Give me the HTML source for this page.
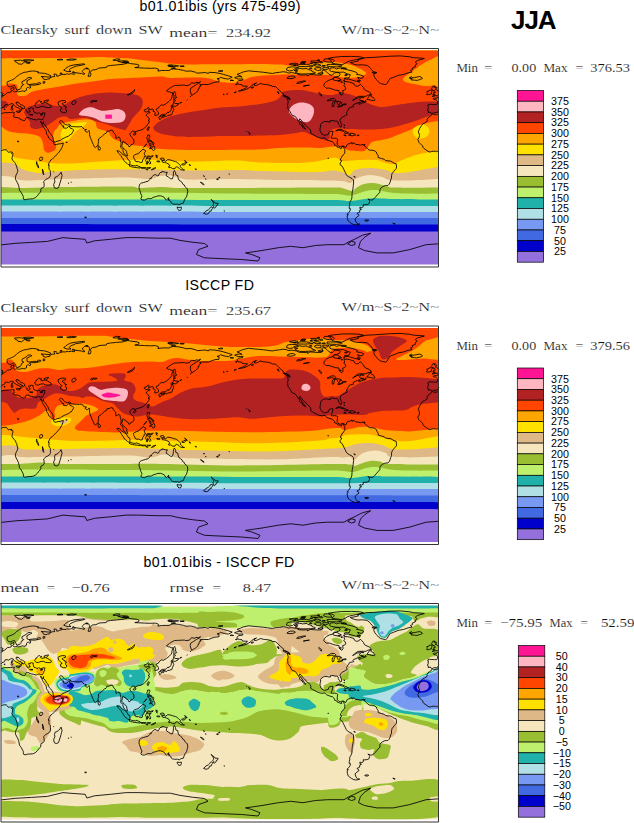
<!DOCTYPE html><html><head><meta charset="utf-8"><title>JJA</title><style>
html,body{margin:0;padding:0;background:#fff}body{width:634px;height:823px;overflow:hidden;position:relative}svg{position:absolute;left:0;top:0}
text{font-family:"Liberation Sans",sans-serif;fill:#000}.cb{font-size:10.7px}.t{font-size:14.2px}.s{font-family:"Liberation Serif",serif;font-size:12.9px;word-spacing:2px;fill:#111;stroke:#fff;stroke-width:0.16px}.m{font-family:"Liberation Serif",serif;font-size:12.4px;fill:#111;stroke:#fff;stroke-width:0.14px}.jja{font-size:26px;font-weight:bold}
</style></head><body>
<svg width="634" height="823" viewBox="0 0 634 823">
<defs>
<clipPath id="clip"><rect x="0" y="2.6" width="438" height="213.8"/></clipPath></defs>
<rect width="634" height="823" fill="#fff"/>
<g transform="translate(1.0,48.0)">
<g clip-path="url(#clip)">
<rect x="0.0" y="0.0" width="438.0" height="219.0" fill="#9370db"/>
<path d="M-3.0,183.6 C-2.7,183.6 -22.5,183.6 -1.0,183.6 C20.5,183.6 86.5,183.6 126.0,183.6 C165.5,183.6 199.3,183.6 236.0,183.6 C272.7,183.6 312.3,183.6 346.0,183.6 C379.7,183.6 422.2,183.6 438.0,183.6 C453.8,183.6 440.5,183.6 441.0,183.6 L441,-5 L-3,-5 Z" fill="#0000cd"/>
<path d="M-3.0,176.0 C-2.7,176.0 -22.5,176.0 -1.0,176.0 C20.5,176.0 86.5,176.1 126.0,176.2 C165.5,176.3 199.3,176.4 236.0,176.4 C272.7,176.4 312.3,176.4 346.0,176.4 C379.7,176.4 422.2,176.4 438.0,176.4 C453.8,176.4 440.5,176.4 441.0,176.4 L441,-5 L-3,-5 Z" fill="#4169e1"/>
<path d="M-3.0,170.0 C-2.7,170.0 -74.5,170.0 -1.0,170.0 C72.5,170.0 364.3,170.0 438.0,170.0 C511.7,170.0 440.5,170.0 441.0,170.0 L441,-5 L-3,-5 Z" fill="#7799f2"/>
<path d="M-3.0,163.6 C-2.7,163.6 -38.0,163.5 -1.0,163.6 C36.0,163.7 145.8,163.9 219.0,164.0 C292.2,164.1 401.0,164.0 438.0,164.0 C475.0,164.0 440.5,164.0 441.0,164.0 L441,-5 L-3,-5 Z" fill="#b0e0e6"/>
<path d="M-3.0,157.6 C-2.7,157.6 -38.0,157.5 -1.0,157.6 C36.0,157.7 145.8,157.9 219.0,158.0 C292.2,158.1 401.0,158.0 438.0,158.0 C475.0,158.0 440.5,158.0 441.0,158.0 L441,-5 L-3,-5 Z" fill="#20b2aa"/>
<path d="M-3.0,151.6 C-2.7,151.6 -22.5,151.6 -1.0,151.6 C20.5,151.6 86.5,151.3 126.0,151.4 C165.5,151.5 202.2,151.9 236.0,152.0 C269.8,152.1 310.2,151.8 329.0,152.0 C347.8,152.2 342.3,153.3 349.0,153.0 C355.7,152.7 362.3,150.7 369.0,150.4 C375.7,150.1 377.5,150.8 389.0,151.0 C400.5,151.2 429.3,151.5 438.0,151.6 C446.7,151.7 440.5,151.6 441.0,151.6 L441,-5 L-3,-5 Z" fill="#bef06e"/>
<path d="M-3.0,145.0 C-2.7,145.0 -22.5,145.1 -1.0,145.0 C20.5,144.9 86.5,144.5 126.0,144.6 C165.5,144.7 202.2,145.4 236.0,145.6 C269.8,145.8 310.2,145.7 329.0,146.0 C347.8,146.3 343.0,148.1 349.0,147.6 C355.0,147.1 360.7,143.9 365.0,143.0 C369.3,142.1 371.0,141.8 375.0,142.0 C379.0,142.2 383.3,143.8 389.0,144.4 C394.7,145.0 400.8,145.4 409.0,145.6 C417.2,145.8 432.7,145.4 438.0,145.4 C443.3,145.4 440.5,145.4 441.0,145.4 L441,-5 L-3,-5 Z" fill="#9abe32"/>
<path d="M-3.0,139.0 C-2.7,139.0 -4.7,138.8 -1.0,139.0 C2.7,139.2 12.3,139.9 19.0,140.0 C25.7,140.1 31.7,139.8 39.0,139.6 C46.3,139.4 48.5,139.2 63.0,139.0 C77.5,138.8 113.3,138.3 126.0,138.5 C138.7,138.7 133.5,139.9 139.0,140.0 C144.5,140.1 152.3,139.0 159.0,139.0 C165.7,139.0 166.2,139.8 179.0,140.0 C191.8,140.2 211.0,140.1 236.0,140.0 C261.0,139.9 311.5,139.6 329.0,139.6 C346.5,139.6 337.3,139.4 341.0,140.0 C344.7,140.6 348.7,143.0 351.0,143.0 C353.3,143.0 353.0,141.2 355.0,140.0 C357.0,138.8 360.0,136.8 363.0,136.0 C366.0,135.2 369.3,134.7 373.0,135.0 C376.7,135.3 381.3,137.2 385.0,138.0 C388.7,138.8 386.2,139.4 395.0,139.6 C403.8,139.8 430.3,139.4 438.0,139.4 C445.7,139.4 440.5,139.4 441.0,139.4 L441,-5 L-3,-5 Z" fill="#f5e6be"/>
<path d="M-3.0,128.0 C-2.7,128.0 -3.3,127.8 -1.0,128.0 C1.3,128.2 7.7,128.3 11.0,129.0 C14.3,129.7 16.0,131.4 19.0,132.0 C22.0,132.6 25.7,132.4 29.0,132.4 C32.3,132.4 34.0,132.2 39.0,132.0 C44.0,131.8 52.3,131.3 59.0,131.0 C65.7,130.7 72.3,130.6 79.0,130.4 C85.7,130.2 91.2,130.1 99.0,130.0 C106.8,129.9 117.7,129.4 126.0,129.6 C134.3,129.8 143.5,131.3 149.0,131.0 C154.5,130.7 155.7,128.6 159.0,128.0 C162.3,127.4 165.7,127.3 169.0,127.6 C172.3,127.9 175.7,129.3 179.0,130.0 C182.3,130.7 179.5,131.4 189.0,131.6 C198.5,131.8 221.0,130.9 236.0,131.0 C251.0,131.1 265.2,131.8 279.0,132.0 C292.8,132.2 308.7,132.2 319.0,132.4 C329.3,132.6 336.0,132.6 341.0,133.0 C346.0,133.4 347.0,135.2 349.0,135.0 C351.0,134.8 351.3,133.0 353.0,132.0 C354.7,131.0 356.3,129.8 359.0,129.0 C361.7,128.2 365.3,127.0 369.0,127.0 C372.7,127.0 377.7,128.2 381.0,129.0 C384.3,129.8 384.3,131.4 389.0,132.0 C393.7,132.6 400.8,132.6 409.0,132.4 C417.2,132.2 432.7,131.2 438.0,131.0 C443.3,130.8 440.5,131.0 441.0,131.0 L441,-5 L-3,-5 Z" fill="#deb887"/>
<path d="M-3.0,114.4 C-2.7,114.4 -3.7,114.2 -1.0,114.4 C1.7,114.6 9.3,114.5 13.0,115.6 C16.7,116.7 18.0,119.6 21.0,121.0 C24.0,122.4 28.0,123.3 31.0,124.0 C34.0,124.7 36.0,125.0 39.0,125.0 C42.0,125.0 45.0,124.3 49.0,124.0 C53.0,123.7 58.0,123.3 63.0,123.0 C68.0,122.7 73.0,122.3 79.0,122.0 C85.0,121.7 91.2,121.5 99.0,121.4 C106.8,121.3 117.7,121.4 126.0,121.4 C134.3,121.4 141.8,121.3 149.0,121.4 C156.2,121.5 160.7,121.8 169.0,122.0 C177.3,122.2 187.8,122.6 199.0,122.6 C210.2,122.6 226.0,121.9 236.0,122.0 C246.0,122.1 248.5,122.7 259.0,123.0 C269.5,123.3 289.0,123.8 299.0,124.0 C309.0,124.2 313.7,124.2 319.0,124.0 C324.3,123.8 327.3,122.5 331.0,122.5 C334.7,122.5 338.0,123.2 341.0,124.0 C344.0,124.8 346.8,127.3 349.0,127.0 C351.2,126.7 350.7,123.2 354.0,122.0 C357.3,120.8 363.8,120.0 369.0,120.0 C374.2,120.0 381.0,121.2 385.0,122.0 C389.0,122.8 389.0,124.7 393.0,125.0 C397.0,125.3 403.7,124.7 409.0,124.0 C414.3,123.3 420.2,121.8 425.0,121.0 C429.8,120.2 435.3,119.3 438.0,119.0 C440.7,118.7 440.5,119.0 441.0,119.0 L441,-5 L-3,-5 Z" fill="#ffe100"/>
<path d="M-3.0,101.0 C-2.7,101.0 -2.3,100.8 -1.0,101.0 C0.3,101.2 3.0,101.3 5.0,102.0 C7.0,102.7 9.7,103.8 11.0,105.0 C12.3,106.2 11.0,108.0 13.0,109.0 C15.0,110.0 20.0,110.5 23.0,111.0 C26.0,111.5 28.3,111.6 31.0,112.0 C33.7,112.4 36.0,113.1 39.0,113.6 C42.0,114.1 44.7,114.7 49.0,115.0 C53.3,115.3 60.0,115.6 65.0,115.6 C70.0,115.6 73.3,115.3 79.0,115.0 C84.7,114.7 91.2,114.1 99.0,113.6 C106.8,113.1 117.7,112.4 126.0,112.0 C134.3,111.6 141.8,111.3 149.0,111.4 C156.2,111.5 162.3,112.1 169.0,112.5 C175.7,112.9 182.3,113.5 189.0,113.6 C195.7,113.7 201.2,113.5 209.0,113.3 C216.8,113.1 227.7,112.4 236.0,112.6 C244.3,112.8 248.5,114.0 259.0,114.4 C269.5,114.8 289.0,115.3 299.0,115.0 C309.0,114.7 313.7,113.6 319.0,112.8 C324.3,112.0 328.0,110.4 331.0,110.0 C334.0,109.6 335.3,110.0 337.0,110.5 C338.7,111.0 337.3,112.8 341.0,113.0 C344.7,113.2 353.3,112.2 359.0,112.0 C364.7,111.8 370.7,111.5 375.0,112.0 C379.3,112.5 382.0,114.3 385.0,115.0 C388.0,115.7 390.7,116.3 393.0,116.0 C395.3,115.7 396.3,114.2 399.0,113.0 C401.7,111.8 405.7,110.2 409.0,109.0 C412.3,107.8 415.7,106.8 419.0,106.0 C422.3,105.2 425.8,104.5 429.0,104.0 C432.2,103.5 436.0,103.2 438.0,103.0 C440.0,102.8 440.5,103.0 441.0,103.0 L441,-5 L-3,-5 Z" fill="#ffa500"/>
<path d="M-3.0,78.0 C-2.7,78.0 -1.7,77.8 -1.0,78.0 C-0.3,78.2 -0.3,78.2 1.0,79.0 C2.3,79.8 4.3,82.0 7.0,83.0 C9.7,84.0 13.3,84.5 17.0,85.0 C20.7,85.5 25.3,85.3 29.0,86.0 C32.7,86.7 36.8,87.3 39.0,89.0 C41.2,90.7 41.3,93.8 42.0,96.0 C42.7,98.2 42.3,100.6 43.0,102.0 C43.7,103.4 45.0,104.1 46.0,104.5 C47.0,104.9 47.7,104.9 49.0,104.5 C50.3,104.1 53.0,103.2 54.0,102.0 C55.0,100.8 55.3,99.0 55.0,97.0 C54.7,95.0 52.3,92.2 52.0,90.0 C51.7,87.8 52.3,85.7 53.0,84.0 C53.7,82.3 55.0,81.2 56.0,80.0 C57.0,78.8 57.7,77.4 59.0,76.5 C60.3,75.6 62.3,75.0 64.0,74.5 C65.7,74.0 66.1,74.0 69.0,73.5 C71.9,73.0 78.4,71.9 81.6,71.6 C84.8,71.3 85.9,71.2 88.0,71.6 C90.1,72.0 92.9,72.6 94.2,74.0 C95.5,75.4 95.0,78.5 96.0,79.8 C97.0,81.1 98.7,81.1 100.5,81.7 C102.3,82.3 105.4,82.6 106.9,83.6 C108.4,84.5 108.4,86.1 109.4,87.4 C110.5,88.7 111.5,90.1 113.2,91.2 C114.9,92.2 117.4,92.9 119.5,93.7 C121.6,94.5 123.3,95.6 125.8,96.2 C128.3,96.8 131.4,97.1 134.6,97.5 C137.8,97.9 142.3,98.3 144.7,98.7 C147.1,99.1 144.9,99.5 149.0,100.0 C153.1,100.5 162.3,101.3 169.0,101.6 C175.7,101.9 182.3,101.9 189.0,102.0 C195.7,102.1 201.2,102.0 209.0,102.0 C216.8,102.0 227.7,101.9 236.0,101.8 C244.3,101.7 251.8,101.9 259.0,101.6 C266.2,101.3 272.3,100.3 279.0,100.0 C285.7,99.7 292.3,99.6 299.0,99.6 C305.7,99.6 313.7,100.2 319.0,100.0 C324.3,99.8 327.7,98.7 331.0,98.5 C334.3,98.3 336.3,98.4 339.0,99.0 C341.7,99.6 344.3,101.3 347.0,102.0 C349.7,102.7 352.3,102.8 355.0,103.0 C357.7,103.2 361.0,103.7 363.0,103.0 C365.0,102.3 365.7,100.5 367.0,99.0 C368.3,97.5 368.7,95.2 371.0,94.0 C373.3,92.8 378.0,92.7 381.0,92.0 C384.0,91.3 386.0,91.0 389.0,90.0 C392.0,89.0 395.7,87.3 399.0,86.0 C402.3,84.7 406.0,83.3 409.0,82.0 C412.0,80.7 414.3,79.2 417.0,78.0 C419.7,76.8 421.5,75.8 425.0,75.0 C428.5,74.2 435.3,73.3 438.0,73.0 C440.7,72.7 440.5,73.0 441.0,73.0 L441,-5 L-3,-5 Z" fill="#ff4500"/>
<path d="M60.9,82.4 C61.5,81.2 63.8,77.6 65.2,76.8 C66.6,76.0 72.7,75.0 74.8,74.8 C76.9,74.5 85.3,73.9 86.1,74.3 C86.8,74.7 83.4,77.7 82.3,78.6 C81.2,79.5 76.2,82.3 74.8,83.6 C73.4,84.9 69.5,90.2 68.4,91.2 C67.3,92.2 64.3,93.9 63.4,93.7 C62.5,93.4 59.9,89.8 59.6,88.7 C59.4,87.6 60.3,83.6 60.9,82.4Z" fill="#ffe100"/>
<path d="M412.0,82.0 C412.3,80.2 414.2,78.8 416.0,78.0 C417.8,77.2 421.0,76.5 423.0,77.0 C425.0,77.5 427.3,79.3 428.0,81.0 C428.7,82.7 428.2,85.4 427.0,87.0 C425.8,88.6 423.2,90.2 421.0,90.5 C418.8,90.8 415.5,89.9 414.0,88.5 C412.5,87.1 411.7,83.8 412.0,82.0Z" fill="#ffe100"/>
<path d="M-3.0,10.5 C5.7,10.4 35.3,10.2 49.0,10.1 C62.7,10.0 70.7,10.0 79.0,9.8 C87.3,9.6 94.0,9.0 99.0,9.0 C104.0,9.0 104.0,9.3 109.0,9.6 C114.0,9.9 122.3,10.0 129.0,10.6 C135.7,11.2 142.3,12.2 149.0,13.0 C155.7,13.8 162.3,14.8 169.0,15.4 C175.7,16.0 182.3,16.4 189.0,16.5 C195.7,16.6 201.2,16.3 209.0,16.3 C216.8,16.2 227.7,16.3 236.0,16.2 C244.3,16.2 251.8,15.9 259.0,16.0 C266.2,16.1 274.0,16.3 279.0,16.6 C284.0,16.8 284.0,17.6 289.0,17.5 C294.0,17.4 302.3,16.6 309.0,16.0 C315.7,15.4 323.7,14.2 329.0,14.0 C334.3,13.8 337.0,14.3 341.0,15.0 C345.0,15.7 349.3,16.7 353.0,18.0 C356.7,19.3 360.9,21.7 363.0,23.0 C365.1,24.3 365.1,25.5 365.5,26.0 L359.0,29.0 C357.3,29.2 352.3,30.0 349.0,30.0 C345.7,30.0 342.3,29.5 339.0,29.0 C335.7,28.5 334.0,27.3 329.0,27.0 C324.0,26.7 315.7,27.1 309.0,27.0 C302.3,26.9 295.8,26.4 289.0,26.4 C282.2,26.4 274.2,26.8 268.0,27.2 C261.8,27.6 256.5,27.9 252.0,28.8 C247.5,29.7 244.2,31.8 241.0,32.8 C237.8,33.8 236.3,34.5 233.0,34.8 C229.7,35.0 223.8,34.6 221.0,34.3 C218.2,34.0 218.7,33.5 216.0,32.8 C213.3,32.1 209.5,30.5 205.0,30.0 C200.5,29.5 195.0,29.6 189.0,29.6 C183.0,29.6 173.7,30.2 169.0,30.0 C164.3,29.8 164.3,28.8 161.0,28.6 C157.7,28.4 154.3,28.8 149.0,29.0 C143.7,29.2 135.7,29.7 129.0,30.0 C122.3,30.3 114.0,30.6 109.0,31.0 C104.0,31.4 104.0,31.8 99.0,32.5 C94.0,33.2 83.9,34.4 79.0,35.1 C74.1,35.8 72.5,36.1 69.7,36.6 C66.9,37.1 64.4,37.5 62.1,37.9 C59.8,38.3 57.9,38.6 55.8,38.9 C53.7,39.2 51.6,39.6 49.5,39.9 C47.4,40.3 45.3,40.6 43.2,41.0 C41.1,41.4 38.8,41.9 36.9,42.3 C35.0,42.7 33.3,43.0 31.8,43.5 C30.3,44.0 29.3,44.7 28.0,45.4 C26.7,46.1 26.1,47.4 24.2,47.7 C22.3,48.0 17.9,48.5 16.7,47.3 C15.4,46.1 16.9,42.2 16.7,40.4 C16.5,38.6 16.2,37.4 15.4,36.6 C14.5,35.8 13.0,35.9 11.6,35.7 C10.2,35.6 8.2,35.5 7.2,35.7 C6.1,36.0 6.4,36.8 5.3,37.2 C4.2,37.6 1.7,37.8 0.3,37.9 C-1.1,38.0 -2.5,38.0 -3.0,38.0 Z" fill="#ffa500"/>
<path d="M441.0,9.5 C439.0,5.2 432.0,11.1 429.0,12.0 C426.0,12.9 425.0,13.8 423.0,15.0 C421.0,16.2 419.3,17.3 417.0,19.0 C414.7,20.7 411.4,23.2 409.0,25.0 C406.6,26.8 403.4,28.6 402.5,30.0 C401.6,31.4 401.8,32.5 403.5,33.5 C405.2,34.5 409.4,35.2 413.0,36.0 C416.6,36.8 421.7,37.8 425.0,38.0 C428.3,38.2 430.3,37.4 433.0,37.3 C435.7,37.2 439.7,42.2 441.0,37.6 C442.3,33.0 443.0,13.8 441.0,9.5Z" fill="#ffa500"/>
<path d="M23.0,64.5 C23.5,63.6 24.3,60.7 26.0,59.4 C27.7,58.2 30.3,57.7 33.0,57.0 C35.7,56.3 39.3,55.5 42.0,55.4 C44.7,55.3 46.7,56.0 49.0,56.4 C51.3,56.8 53.7,57.9 56.0,58.0 C58.3,58.1 61.0,57.7 63.0,57.0 C65.0,56.3 66.0,55.1 68.0,54.0 C70.0,52.9 72.5,51.6 75.0,50.6 C77.5,49.6 79.7,48.8 83.0,48.0 C86.3,47.2 91.0,46.2 95.0,45.6 C99.0,45.0 102.7,44.5 107.0,44.4 C111.3,44.3 117.0,44.7 121.0,45.0 C125.0,45.3 128.3,45.9 131.0,46.3 C133.7,46.7 135.2,46.6 137.0,47.6 C138.8,48.5 140.8,50.2 141.5,52.0 C142.2,53.8 141.6,56.5 141.0,58.4 C140.4,60.3 139.3,61.5 137.8,63.4 C136.3,65.3 133.6,67.6 132.0,69.7 C130.4,71.8 129.6,73.9 128.3,76.0 C127.1,78.1 125.1,81.3 124.5,82.3 L119.5,81.0 C118.4,80.7 115.1,79.7 113.0,79.0 C110.9,78.3 109.0,77.4 106.9,76.7 C104.8,76.0 102.6,75.4 100.5,74.8 C98.4,74.2 96.1,73.5 94.2,72.9 C92.3,72.3 90.9,71.5 89.2,71.0 C87.5,70.5 86.1,69.8 84.0,69.7 C81.9,69.6 79.1,70.1 76.6,70.3 C74.1,70.5 70.9,71.3 69.0,71.0 C67.1,70.7 66.8,68.8 65.0,68.5 C63.2,68.2 60.0,68.8 58.0,69.5 C56.0,70.2 54.7,71.8 53.0,73.0 C51.3,74.2 49.8,75.5 48.0,76.6 C46.2,77.7 44.3,78.7 42.0,79.4 C39.7,80.1 36.1,81.1 34.0,81.0 C31.9,80.9 30.2,80.2 29.4,79.0 C28.6,77.8 29.6,75.5 29.0,74.0 C28.4,72.5 26.5,70.7 26.0,70.0 Z" fill="#b22222"/>
<path d="M152.0,80.0 C152.5,79.3 153.5,77.3 155.0,76.0 C156.5,74.7 158.7,73.2 161.0,72.0 C163.3,70.8 166.0,69.6 169.0,68.6 C172.0,67.6 175.7,66.8 179.0,66.0 C182.3,65.2 185.7,64.6 189.0,64.0 C192.3,63.4 195.7,63.1 199.0,62.6 C202.3,62.1 205.3,61.5 209.0,61.0 C212.7,60.5 216.0,60.0 221.0,59.6 C226.0,59.2 232.7,59.2 239.0,58.6 C245.3,58.0 254.0,56.8 259.0,56.0 C264.0,55.2 266.0,54.8 269.0,54.0 C272.0,53.2 275.0,52.3 277.0,51.0 C279.0,49.7 279.8,47.3 281.0,46.0 C282.2,44.7 281.0,43.7 284.0,43.0 C287.0,42.3 294.5,41.8 299.0,42.0 C303.5,42.2 307.7,43.3 311.0,44.0 C314.3,44.7 315.7,45.5 319.0,46.0 C322.3,46.5 327.3,47.2 331.0,47.0 C334.7,46.8 337.7,45.0 341.0,45.0 C344.3,45.0 348.0,46.0 351.0,47.0 C354.0,48.0 356.0,49.5 359.0,51.0 C362.0,52.5 365.7,54.7 369.0,56.0 C372.3,57.3 375.7,58.7 379.0,59.0 C382.3,59.3 384.0,58.7 389.0,58.0 C394.0,57.3 403.0,55.7 409.0,55.0 C415.0,54.3 419.7,53.8 425.0,53.6 C430.3,53.4 438.3,53.9 441.0,54.0 L441.0,65.0 C439.7,65.2 435.7,65.3 433.0,66.0 C430.3,66.7 428.3,67.8 425.0,69.0 C421.7,70.2 417.3,72.1 413.0,73.5 C408.7,74.9 403.7,76.3 399.0,77.5 C394.3,78.7 390.0,79.8 385.0,80.5 C380.0,81.2 375.5,81.4 369.0,81.5 C362.5,81.6 351.7,81.2 346.0,81.0 C340.3,80.8 337.8,80.1 335.0,80.4 C332.2,80.7 330.1,81.4 329.0,83.0 C327.9,84.6 329.3,88.4 328.6,90.0 C327.9,91.6 326.6,92.4 325.0,92.4 C323.4,92.4 321.3,90.9 319.0,90.0 C316.7,89.1 313.7,88.0 311.0,87.0 C308.3,86.0 305.7,84.3 303.0,84.0 C300.3,83.7 299.0,84.5 295.0,85.0 C291.0,85.5 285.0,86.6 279.0,87.0 C273.0,87.4 265.7,87.4 259.0,87.6 C252.3,87.8 245.7,87.9 239.0,88.0 C232.3,88.1 224.0,87.9 219.0,88.0 C214.0,88.1 214.0,88.4 209.0,88.6 C204.0,88.8 194.0,89.0 189.0,89.0 C184.0,89.0 182.3,88.9 179.0,88.6 C175.7,88.3 172.0,87.8 169.0,87.4 C166.0,87.0 163.5,86.7 161.0,86.0 C158.5,85.3 155.2,83.5 154.0,83.0 Z" fill="#b22222"/>
<path d="M-4.0,53.4 C-2.7,52.2 2.2,53.0 4.0,53.3 C5.8,53.6 6.1,54.1 6.6,55.0 C7.1,55.9 7.2,57.6 6.8,58.5 C6.4,59.4 5.8,59.9 4.0,60.2 C2.2,60.6 -2.7,61.7 -4.0,60.6 C-5.3,59.5 -5.3,54.6 -4.0,53.4Z" fill="#b22222"/>
<path d="M77.8,66.6 C77.8,65.6 80.1,63.2 81.6,62.0 C83.1,60.8 85.0,60.0 86.7,59.6 C88.4,59.2 90.0,59.1 91.7,59.4 C93.4,59.7 95.1,60.9 96.8,61.5 C98.5,62.1 99.7,62.7 101.8,62.8 C103.9,62.9 106.9,62.2 109.4,61.9 C111.9,61.6 114.9,60.8 117.0,60.9 C119.1,61.1 120.8,61.9 122.0,62.8 C123.2,63.7 124.2,65.2 124.5,66.6 C124.8,68.0 124.5,69.8 123.9,71.0 C123.3,72.2 122.5,73.4 120.7,74.1 C118.9,74.8 115.5,74.9 113.2,75.0 C110.9,75.1 109.0,75.0 106.9,74.8 C104.8,74.5 102.6,74.2 100.5,73.5 C98.4,72.8 96.3,71.1 94.2,70.3 C92.1,69.5 90.0,68.9 87.9,68.5 C85.8,68.1 83.3,68.1 81.6,67.8 C79.9,67.5 77.8,67.6 77.8,66.6Z" fill="#ffb6c1"/>
<rect x="104.3" y="66.6" width="6.6" height="4.1" fill="#ff1493"/>
<path d="M288.0,63.0 C288.2,61.5 289.2,59.4 291.0,58.0 C292.8,56.6 296.3,55.0 299.0,54.6 C301.7,54.2 304.8,54.8 307.0,55.5 C309.2,56.2 311.0,57.6 312.0,59.0 C313.0,60.4 313.2,62.2 313.0,64.0 C312.8,65.8 312.0,68.3 311.0,70.0 C310.0,71.7 308.7,73.4 307.0,74.0 C305.3,74.6 303.0,74.0 301.0,73.5 C299.0,73.0 296.8,72.1 295.0,71.0 C293.2,69.9 291.2,68.3 290.0,67.0 C288.8,65.7 287.8,64.5 288.0,63.0Z" fill="#ffb6c1"/>
</g>
<path d="M430.8,65.9 431.6,65.8 432.6,66.7 434.3,66.6 435.6,66.8 436.8,66.1 438.0,65.7 M0.0,65.7 0.1,65.7 1.8,65.1 3.6,64.7 6.1,64.7 7.9,64.5 9.7,64.6 11.9,64.1 13.4,64.5 12.9,65.2 12.8,66.2 13.5,66.7 13.0,67.5 12.3,67.9 12.3,68.5 13.5,69.1 15.0,69.6 16.2,69.5 17.6,70.0 18.6,70.2 19.0,71.2 20.7,71.9 22.5,72.6 23.8,72.5 24.5,71.8 24.3,70.6 25.1,69.8 26.4,69.5 28.1,69.8 28.3,70.3 30.4,70.9 32.8,71.4 35.3,72.0 36.4,71.5 37.7,71.1 38.9,71.3 39.7,71.7 40.9,71.7 41.7,71.4 42.2,70.6 42.6,69.6 43.2,68.3 43.7,67.4 43.6,66.2 43.8,65.5 44.0,64.8 43.2,65.0 42.1,64.7 41.0,65.5 39.5,65.6 37.7,64.7 37.1,65.3 36.0,65.5 34.7,64.7 33.3,64.5 33.1,63.6 32.0,62.9 32.8,62.2 31.9,61.4 31.9,60.8 32.5,60.2 31.6,60.0 30.4,59.7 29.2,60.0 29.2,60.8 28.3,60.6 27.9,60.2 27.5,60.8 28.0,61.7 28.3,62.4 29.2,63.0 29.2,63.6 28.5,63.3 28.0,63.4 28.2,64.1 27.7,65.1 27.0,64.7 26.4,64.7 25.9,63.6 26.4,63.0 25.7,62.9 25.2,62.2 24.6,61.3 23.6,60.5 23.7,59.3 23.6,58.5 22.5,57.9 21.3,57.2 19.5,56.6 18.5,55.7 17.6,54.4 16.9,55.0 16.5,54.0 15.0,54.4 15.1,55.6 16.4,56.5 17.3,57.9 18.2,58.5 19.6,58.5 19.3,59.0 20.7,59.6 22.5,60.7 22.4,61.1 20.7,60.2 20.2,61.2 20.8,62.0 20.1,62.8 19.5,63.4 19.0,63.3 19.2,62.4 19.6,61.9 19.0,60.7 18.1,60.5 17.4,59.9 15.8,59.3 14.8,58.6 13.5,57.9 12.8,57.2 12.4,56.1 10.8,55.5 9.1,56.2 7.4,57.2 6.1,56.7 4.9,56.6 3.8,57.2 3.9,58.0 3.6,58.6 2.7,59.1 1.0,59.6 0.0,61.0 0.0,61.0 M438.0,61.0 437.6,61.4 438.0,62.0 M0.0,62.0 0.2,62.3 0.0,62.5 M438.0,62.5 437.4,62.9 437.0,63.8 435.7,64.6 435.1,64.7 432.6,64.8 431.4,65.6 430.7,65.5 430.2,64.7 429.0,64.2 427.2,64.5 427.3,62.8 426.4,62.3 427.2,60.6 427.4,59.4 427.2,58.3 426.7,57.2 428.3,56.3 430.9,56.5 433.4,56.6 435.8,56.7 436.5,55.2 436.7,54.0 436.5,53.3 435.3,52.2 434.6,51.7 432.6,51.3 432.2,50.6 433.7,50.1 435.6,50.4 436.1,49.2 436.5,49.4 438.0,49.3 M0.0,49.3 0.1,49.3 1.8,48.5 1.9,47.6 3.6,47.1 4.9,46.2 5.7,45.1 6.7,44.5 8.5,44.4 10.1,43.9 10.5,42.7 9.9,41.9 9.9,40.4 11.7,39.8 12.9,39.3 12.7,40.8 13.3,41.0 11.9,42.0 11.7,42.7 12.2,43.2 13.4,43.8 14.6,43.6 16.4,43.2 17.4,43.9 19.5,43.4 21.9,42.8 22.8,43.3 24.1,43.3 24.3,42.7 25.5,42.2 25.5,40.4 26.3,39.4 27.5,39.3 28.3,40.0 29.3,40.1 29.7,38.4 28.6,38.1 28.6,37.5 30.2,37.1 34.1,37.1 36.7,36.6 34.9,35.8 31.6,36.0 28.0,36.6 26.0,35.8 26.0,34.3 25.9,32.8 29.8,30.7 30.9,30.2 29.4,29.4 26.8,29.7 25.8,31.0 23.1,32.6 21.0,33.7 20.9,35.3 21.0,35.8 22.8,36.5 22.0,37.4 20.3,38.2 20.2,39.3 19.7,40.6 19.1,41.2 17.4,41.4 17.3,42.1 15.7,42.1 15.3,41.1 14.5,39.4 13.6,37.8 12.9,37.1 12.5,37.7 11.3,38.1 9.7,38.8 8.0,38.8 6.7,37.7 6.2,36.3 6.1,34.7 6.3,33.8 8.5,33.0 10.3,32.2 11.9,31.6 13.6,30.5 15.2,29.2 16.1,28.1 17.8,27.0 18.5,26.4 20.1,25.7 21.9,24.8 23.1,24.3 25.5,24.1 28.0,23.4 31.3,23.0 34.1,23.1 37.7,24.0 36.5,24.7 40.1,25.1 43.8,25.4 46.8,26.4 49.9,27.7 49.8,28.5 48.1,29.1 43.8,28.7 40.1,28.5 42.0,29.4 42.3,31.0 45.0,31.8 46.2,31.1 48.7,30.9 48.7,29.8 51.7,28.7 53.8,28.6 53.5,27.6 52.9,26.0 55.4,26.3 56.2,27.0 55.4,28.0 57.2,28.1 59.0,27.1 62.0,26.3 65.1,26.5 65.7,25.7 67.5,26.2 70.6,25.7 73.0,26.4 74.0,25.5 73.6,24.6 77.9,25.2 80.3,25.5 81.5,26.0 83.1,26.4 83.9,25.7 82.1,24.7 81.3,23.5 81.9,22.5 83.3,21.0 84.6,20.7 87.6,20.9 88.6,22.5 88.2,24.9 87.6,26.8 87.0,28.3 89.4,28.2 90.0,26.2 89.4,24.3 90.6,22.5 91.9,21.9 94.9,21.7 97.9,20.1 101.0,19.8 105.2,19.6 105.8,18.2 109.5,17.5 115.6,16.9 121.7,16.4 126.9,15.0 129.6,15.6 136.3,16.4 138.1,17.3 137.5,18.9 133.8,19.6 137.5,19.8 143.6,20.1 149.6,20.3 154.5,20.1 157.6,21.3 156.9,23.1 160.6,22.5 164.2,22.4 167.9,22.5 170.3,21.3 172.8,20.9 177.6,21.4 182.5,22.4 184.9,23.2 189.8,23.0 194.7,24.3 195.9,25.2 200.7,24.8 204.4,24.5 207.4,25.5 208.0,24.3 214.1,24.6 219.0,25.5 222.6,26.4 227.5,27.9 231.2,29.1 229.9,29.8 227.5,31.1 224.5,30.7 220.8,29.8 219.6,29.0 218.4,30.4 216.0,30.8 217.8,31.3 218.1,33.0 218.0,33.7 213.5,34.3 210.5,35.3 207.4,36.5 202.6,36.5 198.9,36.7 199.5,37.8 198.3,39.2 198.1,40.8 197.1,41.1 197.1,42.6 194.7,44.9 192.6,46.2 190.7,47.4 189.8,45.0 189.2,42.6 189.8,40.1 192.8,38.3 195.3,36.5 198.9,34.7 199.5,33.6 197.7,34.6 194.7,34.4 194.1,35.3 190.4,34.7 188.6,37.1 184.9,37.7 183.7,37.1 180.1,37.2 176.4,37.4 173.4,37.5 170.9,38.9 168.5,40.4 165.5,42.7 167.3,43.8 168.5,43.9 170.9,44.9 171.8,44.7 171.8,46.0 170.9,48.1 170.9,49.9 169.7,51.7 167.9,53.5 165.5,55.4 162.4,57.3 160.6,56.9 159.1,57.8 157.9,59.0 157.7,59.9 155.2,61.1 155.1,61.8 156.2,62.7 157.4,64.5 157.6,66.3 156.9,66.8 155.1,67.3 153.8,67.5 153.9,66.3 154.2,64.7 153.5,63.6 152.1,63.3 152.4,61.6 151.2,61.0 148.4,61.9 147.5,62.3 148.2,60.2 147.2,59.7 145.1,61.4 143.3,61.9 143.2,62.9 144.8,63.8 144.8,64.2 147.0,63.5 149.0,64.0 148.9,64.6 146.9,65.3 145.4,66.6 145.1,67.3 146.6,68.7 148.3,70.9 148.2,71.9 147.0,72.6 148.4,73.1 147.9,74.8 146.9,76.0 145.6,77.9 144.8,78.8 143.6,79.8 142.3,80.9 141.1,81.6 138.9,82.4 138.1,82.5 136.3,83.1 134.4,83.7 134.2,84.8 133.6,83.3 132.0,83.1 131.2,83.3 129.8,84.6 128.7,86.0 129.6,87.8 130.8,89.4 132.4,90.9 133.0,93.1 132.9,95.1 131.4,96.4 129.9,96.8 129.6,97.9 128.0,98.9 127.5,97.6 127.1,96.8 125.3,96.1 124.7,94.8 122.9,94.0 122.3,93.2 121.7,93.7 121.5,95.5 120.8,97.3 120.8,98.3 121.7,99.2 122.3,100.6 123.5,101.2 124.7,102.2 125.7,103.7 125.9,105.8 126.8,107.8 125.9,107.9 124.1,106.7 123.2,105.8 122.4,104.3 122.0,102.8 121.9,101.6 120.4,99.9 119.6,99.4 119.8,97.9 120.0,96.4 120.1,94.9 119.6,93.1 119.2,91.5 118.9,89.8 118.3,89.1 116.8,89.4 115.9,90.3 114.7,90.0 115.0,88.2 114.4,86.4 113.1,85.2 112.2,83.9 111.7,82.4 110.1,82.1 108.3,83.0 105.8,83.3 105.7,84.3 105.0,85.3 103.4,86.0 101.6,87.7 100.1,89.2 98.8,90.0 97.6,90.9 97.5,93.1 97.7,93.6 97.1,95.5 97.1,97.0 96.1,98.2 95.1,98.7 94.3,99.6 93.1,98.5 92.5,96.7 91.5,94.9 90.6,92.5 89.8,90.6 88.8,88.2 88.6,86.4 88.5,84.6 88.3,83.6 88.2,82.5 87.6,83.0 86.4,84.2 85.2,83.9 83.9,82.5 85.5,81.6 83.8,81.5 83.0,80.7 82.0,80.3 81.5,79.3 80.9,78.6 78.5,78.8 75.4,78.8 73.6,78.7 71.5,78.5 69.7,78.2 69.3,76.9 68.5,76.5 66.6,77.1 64.5,76.6 63.3,75.7 62.0,74.5 61.7,73.4 60.5,72.9 59.5,72.6 59.0,73.1 58.4,73.9 59.1,74.8 60.5,76.6 61.1,77.4 61.8,78.5 62.3,77.7 62.8,79.1 62.4,79.9 63.9,80.1 65.7,80.1 67.3,78.7 68.4,77.6 68.6,79.1 69.0,79.9 71.2,80.8 72.8,82.1 71.4,84.6 70.3,86.4 69.3,86.6 67.5,88.1 65.7,88.8 63.5,89.8 60.8,91.2 59.3,92.5 56.0,93.2 54.7,93.9 52.9,94.0 52.6,93.1 52.1,91.2 52.0,89.5 50.9,87.6 49.6,85.8 48.3,84.6 47.6,83.3 46.8,80.9 45.6,79.9 44.7,77.9 43.2,76.0 42.3,75.4 42.6,73.6 42.0,75.2 41.7,75.7 40.8,74.8 39.8,73.2 39.7,74.2 40.8,75.7 41.4,77.3 42.6,79.3 43.4,80.5 44.9,82.7 45.4,83.9 45.4,85.8 46.8,87.6 48.1,90.6 49.9,91.9 51.7,93.7 52.7,94.3 52.7,95.5 53.5,96.7 55.4,96.6 57.2,96.0 59.6,95.8 62.3,95.0 62.0,96.8 60.8,99.8 59.0,102.8 57.2,105.2 55.2,107.1 52.9,109.5 51.1,111.3 49.9,111.9 48.8,113.5 48.3,114.4 47.4,116.8 48.1,118.0 47.8,119.8 48.4,121.7 49.3,122.6 49.4,124.7 49.5,127.1 48.7,129.2 46.2,130.8 44.9,131.4 42.6,133.6 43.1,135.7 43.2,138.1 42.2,139.6 40.1,140.5 39.8,141.1 39.9,143.0 38.9,144.7 37.7,145.9 36.5,147.6 34.7,149.4 32.8,150.4 31.3,150.9 28.6,151.0 26.8,151.1 24.3,151.8 22.5,151.2 22.3,149.6 22.3,148.4 21.0,146.0 20.1,144.3 18.5,142.3 18.1,139.9 17.6,137.4 16.2,134.4 14.6,131.4 14.4,129.6 15.0,127.1 16.3,124.7 16.8,122.6 16.1,120.4 15.6,118.0 14.8,116.8 14.6,115.6 13.6,114.4 11.9,112.5 10.9,110.7 11.3,108.9 11.8,107.1 11.8,105.2 10.9,104.0 10.3,103.9 8.5,104.1 7.3,104.3 6.1,102.6 5.2,101.8 3.0,101.8 1.2,102.3 0.0,102.6 0.0,102.6 M438.0,102.6 436.8,103.2 435.6,103.7 434.3,103.3 432.5,103.2 430.7,103.5 428.9,104.1 427.0,103.3 424.9,101.8 424.0,101.1 422.8,100.4 421.9,99.2 421.8,97.9 420.4,96.7 419.7,96.1 418.5,95.0 417.7,94.3 417.6,93.1 416.7,91.6 417.9,90.0 418.5,87.6 418.2,85.8 417.3,83.9 417.9,82.4 418.5,80.7 419.9,78.7 420.4,77.6 421.9,75.8 423.4,75.2 425.6,73.9 426.2,72.4 426.1,71.2 427.0,69.7 428.8,68.6 429.7,68.0 430.7,66.7 430.8,65.9 M35.3,59.4 34.1,58.4 33.7,57.5 34.1,56.7 34.8,56.1 34.9,55.1 36.1,54.5 36.7,53.5 37.5,52.8 38.8,52.7 39.5,53.4 40.8,53.4 39.5,54.3 40.9,55.4 42.6,55.0 44.4,54.5 42.8,53.3 45.0,52.3 47.7,52.1 46.2,53.5 45.6,54.1 44.8,54.5 45.6,55.1 46.8,55.6 48.3,56.6 49.9,57.4 50.6,58.5 50.5,59.0 48.7,59.6 46.2,59.6 44.4,59.3 42.6,58.4 40.8,58.4 38.9,58.8 37.7,59.5 35.3,59.4 M57.8,57.2 57.2,55.4 57.2,54.1 59.0,53.2 60.8,52.7 63.3,52.6 64.5,52.9 64.5,54.4 62.7,54.7 62.0,55.4 61.2,55.6 62.0,56.9 63.9,57.5 64.1,59.0 65.7,59.0 64.5,60.2 64.5,61.4 65.5,62.0 65.6,63.9 64.5,64.7 62.7,64.8 60.8,64.0 59.6,63.3 59.5,62.0 60.2,60.6 61.2,60.3 59.9,59.4 59.0,58.4 57.8,57.2 M70.9,56.0 70.9,54.1 72.4,52.9 74.2,52.7 75.2,53.5 74.2,55.4 73.0,56.6 71.8,56.6 70.9,56.0 M89.4,54.1 90.6,52.7 93.1,52.7 96.1,52.7 95.5,53.5 92.5,53.5 90.6,54.7 89.4,54.1 M126.3,46.8 128.4,45.6 130.8,44.4 132.6,42.6 133.7,41.6 133.2,43.2 132.0,45.0 129.6,46.2 127.1,47.0 126.3,46.8 M36.5,36.5 38.3,36.3 39.9,35.6 39.5,34.9 37.1,34.7 36.3,35.4 36.5,36.5 M42.0,35.3 43.8,35.0 43.8,33.7 42.3,33.3 42.0,35.3 M38.7,110.1 39.5,109.1 41.4,109.3 41.7,110.7 40.8,112.3 38.9,112.7 38.6,111.3 38.7,110.1 M35.6,113.6 36.1,115.6 37.4,118.0 37.7,120.1 37.0,119.2 35.8,116.8 35.4,115.0 35.6,113.6 M41.4,121.1 42.2,122.9 42.6,125.3 42.8,126.9 42.0,125.9 41.5,123.5 41.4,121.1 M431.1,48.5 432.9,48.2 434.3,47.8 436.5,47.7 438.0,47.7 M0.0,47.7 0.4,47.7 1.7,47.2 1.0,46.8 2.1,45.4 0.4,45.0 0.1,44.3 0.0,44.1 M438.0,44.1 437.8,43.7 436.5,42.9 436.1,42.0 435.3,41.4 434.1,41.4 435.0,40.8 435.6,39.5 433.7,39.3 433.0,39.4 434.2,38.2 431.9,38.2 431.3,39.2 430.9,40.1 430.5,40.8 431.3,42.0 432.2,41.9 431.9,42.8 433.7,42.7 433.9,43.4 434.3,44.0 434.2,44.7 432.5,44.7 432.9,45.3 433.0,45.9 431.7,46.4 433.1,46.7 434.3,47.0 433.7,47.2 432.5,47.4 431.1,48.5 M430.5,44.7 430.3,46.0 428.9,46.2 427.7,46.6 425.8,46.6 425.5,46.0 426.4,45.4 426.1,44.5 425.8,43.6 427.7,43.3 427.9,42.5 429.1,42.2 430.7,42.3 431.2,43.1 430.7,43.8 430.5,44.7 M410.4,31.9 413.7,32.2 416.1,32.4 419.7,31.3 421.5,30.4 420.0,29.0 418.3,28.6 415.9,29.1 413.3,29.6 411.8,29.8 410.6,28.7 408.4,29.7 411.2,30.4 408.8,30.5 411.2,31.3 410.4,31.9 M17.0,15.8 20.7,16.3 23.1,14.2 26.2,14.0 22.5,12.8 19.5,12.2 13.4,12.5 14.0,13.6 16.4,14.6 17.0,15.8 M22.5,11.9 28.0,11.7 32.8,12.2 29.2,13.0 24.3,12.8 22.5,11.9 M25.5,15.2 28.6,15.5 29.2,14.5 26.2,14.4 25.5,15.2 M62.7,22.1 63.9,21.3 65.1,20.1 67.5,18.6 69.3,17.8 73.0,16.9 79.1,16.2 83.3,15.8 83.9,16.4 80.3,17.3 74.8,18.2 71.8,19.5 69.3,20.7 68.1,21.9 70.0,23.5 66.9,23.6 65.1,23.2 62.7,22.1 M116.8,13.4 121.7,12.7 126.5,13.1 127.7,14.2 121.7,14.6 119.2,13.9 116.8,13.4 M111.9,12.2 115.6,10.8 119.2,11.2 118.0,12.2 114.4,12.5 111.9,12.2 M56.0,11.6 60.8,11.1 62.0,11.8 57.2,12.0 56.0,11.6 M65.7,11.7 70.6,10.9 75.4,11.3 73.0,12.0 66.9,12.2 65.7,11.7 M167.3,17.9 170.3,17.0 175.2,17.4 177.6,17.9 174.0,18.4 169.1,18.6 167.3,17.9 M170.3,20.1 173.4,19.6 174.6,20.3 171.5,20.7 170.3,20.1 M178.8,18.0 183.1,17.9 183.1,18.5 179.5,18.5 178.8,18.0 M217.4,23.1 220.2,22.5 222.0,22.9 220.8,23.4 218.1,23.4 217.4,23.1 M172.8,53.5 174.6,52.6 173.7,51.7 174.2,49.9 175.8,49.6 174.6,48.1 174.6,45.6 174.0,44.4 173.7,43.4 172.8,44.4 172.5,46.2 173.0,48.1 172.8,50.5 172.8,52.3 172.8,53.5 M170.3,59.0 171.8,58.6 171.5,57.8 174.3,58.4 177.0,56.8 176.8,55.6 174.0,55.4 172.5,54.1 172.4,55.4 171.9,56.9 170.7,57.2 170.1,58.0 170.3,59.0 M172.0,59.1 172.2,60.2 172.8,61.4 172.2,62.9 171.5,64.5 171.1,65.7 171.3,66.1 170.3,66.9 170.1,66.3 169.1,67.2 168.1,67.4 166.7,67.4 166.4,67.8 165.2,68.7 164.5,67.8 163.0,67.4 161.2,67.8 159.4,68.1 159.4,67.5 161.2,66.4 163.0,66.3 164.9,66.2 165.5,65.7 166.3,64.7 167.0,63.9 167.0,64.7 168.5,64.1 169.7,62.7 170.3,61.1 170.3,60.1 170.7,59.4 172.0,59.1 M161.2,69.3 161.8,68.3 163.4,67.8 163.9,68.4 163.3,69.0 161.8,69.6 161.2,69.3 M158.2,68.7 159.4,68.3 160.5,69.1 160.0,70.6 159.4,71.4 158.5,71.5 158.4,70.6 157.9,69.7 157.6,69.0 158.2,68.7 M147.2,78.8 148.3,79.1 147.8,80.9 147.1,82.7 146.2,81.9 146.1,80.9 146.9,79.7 147.2,78.8 M132.3,86.0 133.2,85.2 134.8,85.2 135.0,85.8 133.8,87.2 132.4,87.0 132.3,86.0 M146.6,87.0 148.7,87.1 148.8,88.8 147.9,90.0 148.1,91.9 149.0,92.2 150.6,92.7 151.0,94.2 150.0,93.7 149.0,93.1 147.8,92.8 146.7,92.5 146.7,91.5 146.0,91.2 145.8,89.7 146.5,88.8 146.6,87.0 M152.7,97.6 153.9,99.8 153.7,101.6 152.7,102.7 152.1,102.2 150.9,101.3 150.9,100.4 150.0,100.4 148.7,101.0 149.0,99.8 150.3,99.0 151.7,99.0 152.7,97.6 M151.2,94.3 152.4,94.3 152.9,95.9 152.1,97.1 151.7,96.1 151.2,95.5 151.2,94.3 M148.4,95.1 149.6,95.5 150.0,96.7 149.8,98.3 149.0,97.9 149.0,96.7 148.3,96.7 148.4,95.1 M142.6,99.3 143.6,98.3 144.8,97.0 145.5,95.8 145.0,96.7 143.9,98.2 142.6,99.3 M146.5,93.2 147.5,93.2 147.8,94.3 147.2,94.7 146.5,93.2 M132.6,107.7 133.3,107.1 135.4,106.2 137.5,105.6 138.7,104.0 140.5,102.8 142.0,101.0 143.2,101.8 145.0,103.1 143.8,104.3 143.2,105.2 143.6,106.8 144.8,108.3 143.3,108.5 143.0,110.5 141.7,111.7 141.5,113.1 141.1,114.4 139.4,114.5 137.5,113.5 136.0,113.8 134.1,113.0 133.8,111.3 132.9,110.1 132.6,108.9 132.6,107.7 M115.9,102.7 118.6,103.2 120.1,104.9 122.0,106.5 123.5,107.3 125.3,108.6 126.3,110.1 127.1,111.7 129.0,113.1 128.8,116.6 127.3,116.6 126.3,115.6 124.5,114.4 122.9,112.5 122.0,110.7 120.6,109.1 120.1,107.6 118.6,106.1 117.2,104.8 115.9,102.7 M128.0,117.8 129.2,116.8 132.0,117.7 134.4,117.9 135.0,117.3 137.1,118.0 139.3,118.9 139.2,120.1 136.3,119.7 133.8,119.4 131.4,119.0 129.6,118.5 128.0,117.8 M139.9,119.5 142.0,119.6 144.8,119.6 144.5,120.3 142.3,120.4 140.2,120.2 139.9,119.5 M145.8,119.7 147.8,119.7 149.6,119.6 149.4,120.2 146.6,120.3 145.8,119.7 M144.8,121.1 146.2,120.9 147.0,121.8 145.4,121.7 144.8,121.1 M150.3,122.0 151.5,120.8 153.3,120.0 154.9,119.7 153.9,120.6 152.1,121.5 150.3,122.0 M145.8,108.5 147.0,107.9 149.6,108.4 151.8,107.7 152.3,107.8 150.9,109.0 147.8,108.9 146.2,109.5 146.6,110.7 147.8,110.6 150.0,110.4 149.4,111.3 148.2,111.7 148.8,113.1 149.9,115.0 149.0,116.2 148.1,115.3 147.2,113.8 147.0,112.8 146.4,113.1 146.5,116.2 145.4,116.2 145.4,113.8 144.5,112.9 145.1,111.3 145.8,109.5 145.8,108.5 M155.1,106.8 155.7,108.3 156.6,107.7 155.7,109.0 156.3,110.1 155.6,109.5 155.1,108.3 155.1,106.8 M155.7,113.1 157.6,112.9 159.1,113.4 158.2,113.9 156.3,113.8 155.7,113.1 M159.4,110.5 161.2,110.0 163.0,110.5 163.4,112.5 164.2,113.5 166.7,111.7 169.1,111.9 171.5,112.7 174.6,113.6 175.8,114.1 177.4,115.6 178.8,116.8 179.8,117.7 179.2,118.6 180.7,120.2 182.5,121.7 183.5,122.0 181.9,122.0 179.5,121.7 178.2,120.3 176.4,119.0 175.2,118.9 174.3,119.6 174.0,120.7 171.5,120.6 169.7,119.4 167.9,119.7 167.5,118.6 168.9,118.0 167.9,116.2 165.5,115.0 163.6,114.4 161.8,114.4 161.6,113.5 160.6,112.9 162.4,112.5 162.9,112.2 161.2,112.2 159.4,111.2 159.4,110.5 M180.7,116.2 182.5,115.6 184.3,114.6 185.3,114.7 184.7,115.9 183.1,117.0 181.3,117.0 180.7,116.2 M183.5,112.7 184.9,113.5 186.1,115.0 185.8,114.4 184.3,113.1 183.5,112.7 M188.2,116.2 189.6,117.4 188.9,117.8 188.2,116.2 M194.1,120.8 195.6,121.4 194.7,121.5 194.1,120.8 M173.4,122.5 174.6,124.7 174.8,126.9 176.8,127.7 177.0,129.6 177.9,132.0 179.5,133.2 181.0,134.3 181.9,136.3 183.5,137.2 183.6,138.3 185.5,139.9 186.4,141.1 186.8,143.8 186.1,146.6 185.5,148.8 184.1,150.7 182.9,153.3 182.5,155.1 180.1,155.6 178.2,156.9 176.4,156.1 175.2,156.3 173.4,156.2 171.5,155.9 170.3,155.1 169.7,153.3 168.5,152.8 168.3,151.5 167.5,152.3 167.7,149.6 166.7,150.9 165.5,152.0 164.6,151.6 163.3,149.4 161.8,148.6 159.6,147.8 156.9,147.9 154.5,148.7 152.1,149.4 150.9,150.3 149.6,150.7 147.2,150.6 145.4,151.2 143.6,152.1 141.7,152.0 140.0,151.2 139.9,150.3 140.8,149.0 140.8,147.8 139.9,146.0 139.4,144.2 138.5,141.7 138.0,139.9 138.2,138.1 138.5,136.6 139.1,136.0 140.5,135.0 142.3,134.6 144.8,133.8 147.2,133.2 148.8,131.4 149.0,130.2 150.3,130.5 150.5,129.2 152.1,127.7 153.9,126.5 155.1,126.9 156.3,127.7 157.6,127.5 158.2,125.9 159.1,124.6 161.2,124.1 161.2,123.2 164.2,124.3 166.4,124.3 165.5,125.9 165.2,127.7 167.3,129.0 169.7,130.8 171.3,130.8 172.2,128.4 172.4,125.9 172.5,124.1 173.4,122.5 M176.1,159.0 178.2,159.5 180.3,159.1 180.4,160.6 179.8,162.1 178.2,162.5 177.0,161.6 176.4,160.4 176.1,159.0 M210.1,151.4 211.7,152.7 212.9,153.9 213.9,154.3 214.5,155.4 216.6,155.2 217.2,155.4 216.3,157.2 215.3,157.6 215.1,158.8 213.3,160.1 212.7,159.7 212.9,158.5 211.7,157.6 211.5,157.3 212.6,156.3 212.6,155.1 211.9,153.9 210.7,152.3 210.1,151.4 M210.1,158.8 211.9,159.6 211.7,160.5 210.2,162.1 210.5,162.8 208.4,163.4 208.0,164.9 206.8,165.8 205.0,166.2 202.6,165.5 203.8,164.0 205.0,163.0 207.4,161.8 208.7,160.6 209.3,159.4 210.1,158.8 M199.5,134.1 201.4,135.0 203.2,136.6 202.3,136.6 200.5,135.4 199.5,134.1 M60.0,124.1 61.1,127.7 60.5,129.6 60.1,131.4 59.0,135.0 57.8,138.7 57.2,139.9 55.4,140.5 53.5,139.9 52.9,138.1 52.7,136.3 53.9,133.8 53.5,131.4 54.1,129.2 56.0,128.6 57.8,127.1 59.0,125.9 60.0,124.1 M97.2,97.7 98.3,98.5 99.5,100.4 99.2,101.6 97.9,102.3 97.2,101.2 97.1,99.8 97.2,97.7 M15.2,63.3 16.4,63.1 18.9,63.0 18.5,64.5 18.2,64.8 16.4,64.2 15.2,63.6 15.2,63.3 M10.0,59.7 11.2,59.4 11.9,60.2 11.7,61.8 10.7,62.2 10.2,61.7 10.3,60.6 10.0,59.7 M10.5,58.0 11.4,57.2 11.6,58.4 11.2,59.1 10.6,58.8 10.5,58.0 M28.6,66.3 29.8,66.4 32.0,66.7 30.4,67.0 28.7,66.7 28.6,66.3 M39.3,66.9 40.1,66.6 42.1,66.2 41.2,66.9 40.1,67.4 39.3,66.9 M64.8,94.2 66.3,94.3 65.7,94.5 64.8,94.2 M233.6,29.7 236.0,28.8 238.7,28.5 241.1,29.0 239.1,27.7 236.0,26.4 239.1,25.3 242.1,24.0 247.5,22.8 253.1,23.4 257.9,23.8 262.8,24.3 266.4,24.8 271.3,25.5 273.8,24.9 278.6,24.3 282.3,23.7 285.9,24.3 287.1,25.1 290.8,24.6 295.6,25.5 298.1,26.8 302.9,27.0 306.6,26.8 306.6,28.0 309.0,26.4 313.9,26.8 318.8,27.0 320.6,26.8 321.8,24.9 320.8,23.1 323.0,21.9 325.5,23.7 326.7,24.9 327.9,26.2 330.9,27.4 332.1,26.2 334.0,24.7 338.2,24.7 339.1,26.2 338.2,28.0 335.2,29.0 333.4,29.2 332.1,30.4 330.9,31.4 328.5,31.9 325.5,33.5 323.6,35.3 322.7,37.7 325.1,40.1 328.5,40.1 332.1,41.4 334.6,42.2 337.9,42.5 338.2,45.0 340.1,47.1 340.9,47.2 342.1,45.6 341.9,43.8 341.3,42.8 343.7,42.0 344.7,40.8 344.3,38.9 342.7,37.7 343.7,36.5 343.1,34.7 343.1,33.6 346.1,33.7 348.6,34.1 351.0,35.0 352.8,35.3 353.4,37.1 355.3,38.3 357.7,38.0 359.3,36.1 360.7,37.7 362.6,39.5 363.2,41.4 365.0,42.6 368.0,43.8 369.9,45.3 370.1,46.5 366.8,47.2 365.0,48.3 361.3,48.3 357.2,48.4 354.7,49.9 352.8,51.7 351.6,52.4 353.4,51.7 355.9,50.1 358.9,49.6 359.8,50.1 358.3,51.1 359.2,52.3 360.1,53.3 362.6,53.7 363.8,54.0 364.5,52.3 365.2,53.5 363.2,54.5 360.7,55.2 358.3,56.5 357.5,55.7 359.5,54.4 357.7,54.5 356.2,55.1 354.0,56.0 352.6,56.5 351.9,57.5 352.8,58.6 351.3,59.0 349.2,59.4 348.0,60.1 347.7,61.4 346.7,62.2 346.4,63.3 345.5,64.5 346.0,65.9 346.1,66.7 344.7,67.3 343.1,68.3 341.6,69.1 339.7,70.6 339.0,72.4 339.9,74.8 340.7,76.9 340.3,78.7 339.3,79.0 338.5,77.6 337.3,75.7 337.3,74.2 335.8,73.0 334.0,73.2 332.1,72.5 330.3,72.6 329.1,72.8 329.4,74.0 327.9,74.0 326.1,73.5 323.6,73.5 322.4,74.0 320.6,75.1 319.6,76.3 319.6,78.1 319.1,80.3 319.0,82.4 319.7,84.2 321.0,86.1 322.4,86.9 323.6,87.4 325.5,86.9 327.3,86.4 327.9,84.6 328.3,83.9 330.3,83.3 332.1,83.3 331.5,85.2 331.3,87.0 330.7,88.2 330.0,90.0 331.5,90.3 333.4,90.2 335.2,90.3 336.7,91.2 336.4,93.1 336.2,94.9 336.2,96.1 337.0,97.3 338.0,98.5 339.4,98.8 340.9,98.1 342.5,98.1 344.0,99.0 344.6,99.8 346.1,96.7 347.0,96.0 349.2,95.5 351.0,94.4 351.0,96.1 352.8,94.8 354.7,96.4 357.1,96.6 359.5,97.1 362.0,96.5 363.8,97.9 365.0,99.2 366.8,101.0 368.6,102.2 371.1,102.2 373.5,102.8 375.3,104.0 375.9,105.8 377.2,107.7 377.2,109.5 379.0,110.1 380.2,110.4 383.2,111.3 384.5,112.5 386.9,112.9 389.3,113.0 391.2,114.0 393.0,115.2 395.1,115.8 395.5,118.0 395.4,120.4 393.6,122.3 392.4,123.9 391.2,125.3 390.5,127.7 390.5,130.2 389.7,132.0 389.1,134.2 388.1,136.3 386.9,137.5 385.4,137.5 383.6,137.8 381.7,138.7 379.6,140.3 378.9,141.7 378.9,144.2 377.2,146.0 375.3,148.2 374.1,149.6 372.9,150.9 371.2,152.0 369.6,152.0 367.7,151.4 366.9,150.9 368.3,152.4 368.6,153.7 368.0,155.7 366.2,156.6 363.2,156.9 362.2,156.7 362.3,158.8 360.7,159.6 358.9,159.1 358.9,160.6 360.5,161.2 358.9,161.8 358.6,164.2 355.9,165.5 357.7,166.7 357.9,167.7 355.9,169.1 354.0,170.9 354.7,173.1 355.0,174.0 356.5,175.8 358.7,176.1 357.1,176.7 354.7,177.0 352.2,176.4 350.4,175.4 348.6,174.0 347.1,172.8 346.4,170.3 346.1,167.9 347.4,166.7 346.0,166.3 348.0,164.2 349.2,162.4 349.4,160.6 348.2,160.4 348.3,158.2 348.8,156.3 348.6,154.8 349.4,153.3 350.4,151.5 350.9,149.6 351.0,147.2 351.1,145.4 351.3,143.6 351.9,141.1 352.2,138.7 352.3,137.5 352.6,135.0 352.5,132.0 351.0,130.5 348.6,129.3 346.5,128.1 345.2,126.5 344.2,124.2 342.9,121.7 341.9,119.5 340.8,117.8 339.2,116.8 339.1,115.0 340.2,113.8 340.7,112.5 339.4,112.2 339.7,110.7 340.5,109.5 340.7,108.4 341.9,107.7 342.4,106.5 343.7,105.2 343.8,103.4 343.8,101.6 343.2,100.7 342.9,99.8 342.5,98.5 341.3,98.7 340.3,99.4 340.7,100.4 339.4,100.6 338.6,99.8 337.3,99.5 336.4,99.2 336.2,98.3 334.8,97.6 333.7,97.3 333.6,96.1 332.1,94.3 331.5,93.7 330.0,93.4 327.9,92.7 325.8,91.9 324.2,90.3 323.0,89.8 321.2,90.4 318.8,89.9 316.5,89.1 313.9,87.7 311.5,86.4 309.6,85.2 309.9,83.3 309.0,81.5 306.6,79.1 305.0,77.9 303.6,76.0 301.5,74.2 300.5,72.4 298.7,70.9 298.3,72.4 299.9,74.2 301.1,76.0 302.3,77.9 303.6,79.7 304.8,81.3 303.8,80.9 301.7,79.4 301.4,77.9 299.5,76.8 298.1,75.7 299.1,74.8 297.5,73.2 296.3,71.2 295.5,70.0 293.8,68.1 291.3,67.5 289.8,65.1 289.0,63.5 287.4,61.4 286.8,60.3 286.9,58.4 286.5,57.2 287.1,54.7 287.1,53.2 286.3,50.6 288.3,50.9 289.0,52.0 288.6,49.9 286.5,48.7 284.1,47.7 282.5,46.8 282.3,45.6 280.4,44.4 279.5,43.2 278.0,42.0 276.2,40.1 274.4,38.6 271.9,38.6 270.1,37.7 267.7,36.9 264.6,36.5 262.2,36.3 259.8,35.5 257.3,36.5 255.5,37.4 253.3,37.5 253.7,35.9 255.5,35.0 253.1,35.9 251.2,37.1 250.0,38.6 247.6,40.1 245.2,41.4 242.7,42.2 239.7,42.9 237.5,43.1 240.3,42.0 242.7,41.1 245.2,39.8 246.4,38.2 244.5,38.2 241.5,38.1 240.9,36.7 238.5,36.5 236.9,35.8 236.0,34.3 236.6,33.5 237.9,32.6 241.5,32.2 242.1,31.0 239.7,31.0 237.2,31.0 235.4,30.4 233.6,29.7 M288.0,50.6 285.9,50.1 283.5,48.7 281.9,47.7 284.1,48.1 285.9,48.7 287.4,49.6 288.0,50.6 M278.0,46.0 277.0,45.0 276.2,43.8 277.6,43.8 277.6,45.0 278.0,46.0 M250.0,39.9 251.2,40.1 252.7,39.3 251.8,38.9 250.0,39.9 M233.0,44.8 234.2,44.5 235.4,43.9 234.2,44.3 233.0,44.8 M225.7,46.1 226.9,46.0 226.3,45.9 225.7,46.1 M222.0,46.6 223.3,46.5 222.6,46.2 222.0,46.6 M229.1,32.4 231.2,32.6 232.6,32.5 230.6,32.0 229.1,32.4 M234.5,36.5 236.0,36.7 236.4,36.1 235.1,36.0 234.5,36.5 M358.9,34.2 355.3,33.3 351.0,32.1 347.4,31.1 343.3,31.1 343.7,29.9 348.0,29.9 348.6,28.2 349.4,26.8 346.1,25.8 342.5,24.1 338.2,24.3 334.6,24.1 330.3,23.4 328.7,22.5 329.1,20.1 333.4,19.7 335.2,20.9 339.4,19.8 343.1,20.8 346.7,21.9 351.0,22.9 354.7,24.1 356.5,25.3 355.5,26.4 359.5,27.0 362.6,28.2 362.0,29.7 360.1,30.4 356.5,29.2 358.3,31.6 359.5,32.8 355.9,32.2 357.7,33.5 358.9,34.2 M296.3,25.2 299.9,26.0 304.2,25.9 309.0,25.7 313.9,25.5 314.5,24.7 310.9,23.5 310.9,22.5 306.6,21.3 306.0,20.4 301.7,20.9 298.7,20.3 295.0,21.7 293.2,22.5 296.9,22.8 294.1,24.0 296.3,25.2 M285.3,21.9 288.3,23.0 291.4,22.5 292.6,21.5 295.0,20.4 297.5,19.6 295.0,19.1 290.2,18.9 286.5,19.5 285.3,21.9 M340.7,16.7 343.1,15.8 346.1,14.0 349.2,12.8 355.3,11.6 362.6,9.7 358.9,8.8 350.4,8.4 340.7,8.5 332.1,9.4 327.3,10.3 332.1,11.6 333.4,12.8 332.1,14.0 330.9,15.2 334.6,15.8 340.7,16.7 M330.9,14.2 326.1,14.0 322.4,12.8 323.6,10.9 327.3,10.9 329.7,12.2 330.9,14.2 M340.7,18.2 335.8,18.9 329.7,18.7 326.1,18.2 326.1,16.5 329.7,16.4 335.8,16.7 340.7,17.3 340.7,18.2 M327.9,19.7 321.8,19.7 321.8,21.3 324.2,21.9 327.3,20.9 327.9,19.7 M320.0,19.7 315.1,19.7 313.3,20.9 316.3,22.5 320.0,22.1 320.0,19.7 M309.6,18.2 304.2,18.6 298.1,18.5 295.6,17.4 299.3,16.4 305.4,16.4 309.0,17.0 309.6,18.2 M319.4,18.0 315.1,18.2 312.1,17.0 316.3,16.1 319.4,16.8 319.4,18.0 M295.6,16.8 290.8,17.0 288.3,16.1 293.2,15.2 296.9,15.8 295.6,16.8 M317.5,14.7 311.5,14.4 309.6,13.1 316.3,12.8 318.8,13.6 317.5,14.7 M332.8,29.6 335.8,29.4 338.8,31.0 340.4,32.0 336.4,32.8 334.0,32.5 331.9,31.6 332.8,29.6 M316.9,25.5 320.0,26.2 322.2,25.5 320.6,24.5 316.9,25.5 M384.6,36.6 386.3,35.3 387.5,32.8 389.3,30.4 392.4,29.4 397.2,27.4 402.7,26.4 407.0,24.9 411.2,24.0 409.4,22.5 411.6,21.5 411.2,20.1 414.3,18.9 414.3,17.0 416.1,15.8 414.3,14.0 416.7,12.4 423.4,10.5 418.5,10.0 412.4,9.7 408.8,8.8 399.1,7.9 389.3,8.2 380.8,8.8 372.3,9.4 365.0,9.7 361.3,10.7 356.5,11.8 357.7,12.8 352.8,14.0 349.2,14.4 351.0,15.5 353.4,16.4 356.5,17.0 361.3,16.8 366.2,17.4 368.0,18.9 369.9,20.7 371.1,22.5 372.3,23.7 375.9,24.6 372.9,25.9 372.9,27.4 373.5,29.2 374.7,31.0 376.6,32.8 377.8,34.3 379.6,35.5 382.0,36.1 384.6,36.6 M365.9,51.6 368.0,51.6 370.5,52.4 372.3,52.6 373.5,52.7 373.9,51.7 372.9,50.5 372.5,49.5 370.5,48.9 369.9,48.1 370.5,46.8 368.6,47.4 367.7,48.9 366.8,50.1 365.9,51.6 M359.5,48.8 362.6,49.4 362.9,49.8 360.7,49.5 359.5,48.8 M359.9,52.6 362.6,53.0 362.0,53.5 359.9,52.6 M334.7,82.9 337.0,81.5 338.8,81.3 341.3,81.9 343.7,83.0 346.1,84.2 347.7,84.9 346.1,85.3 343.7,85.3 343.7,84.6 342.5,83.3 340.1,82.7 338.2,82.1 336.4,82.5 334.7,82.9 M347.5,87.1 349.8,87.4 351.0,88.0 352.8,87.2 354.8,87.1 354.0,86.1 352.2,85.4 350.4,85.3 348.8,85.3 349.4,86.4 349.9,86.9 347.5,86.9 347.5,87.1 M342.7,87.2 344.3,87.0 345.3,87.6 344.1,87.8 342.7,87.2 M356.2,87.1 358.1,87.1 357.9,87.6 356.2,87.6 356.2,87.1 M362.8,96.5 363.8,96.4 363.8,97.2 362.8,97.2 362.8,96.5 M363.8,172.2 366.2,171.9 367.7,172.3 366.2,173.1 364.4,173.0 363.8,172.2 M326.1,52.7 328.5,52.7 330.9,52.0 332.8,52.9 334.9,52.9 334.8,51.7 333.4,50.5 330.3,50.4 329.1,51.1 326.1,52.7 M331.5,58.8 332.8,58.4 333.0,56.6 333.4,55.0 334.6,53.9 332.8,53.8 331.5,54.7 331.2,56.6 331.2,57.8 331.5,58.8 M335.2,53.7 336.4,54.5 336.7,56.0 337.6,57.2 338.6,56.6 338.8,55.4 339.1,54.5 340.7,55.2 340.1,54.1 338.2,53.4 335.8,53.3 335.2,53.7 M336.5,58.6 338.2,59.0 340.7,58.2 342.0,57.4 340.1,57.7 337.6,58.4 336.5,58.6 M340.9,56.8 343.1,56.8 345.2,56.5 344.9,55.7 343.1,56.1 341.3,56.3 340.9,56.8 M320.2,48.2 320.8,46.8 319.4,45.6 318.2,44.4 317.5,45.0 318.8,46.2 319.4,47.4 320.2,48.2 M295.6,35.3 298.1,35.4 299.9,34.9 302.9,33.7 304.8,33.1 302.3,33.0 299.3,33.7 296.9,34.1 295.6,35.3 M285.9,30.2 289.0,30.7 292.0,30.4 294.4,29.2 292.6,28.1 289.6,28.2 287.1,29.0 285.9,30.2 M302.3,38.1 305.4,37.5 308.4,37.1 304.8,37.7 302.3,38.1 M352.8,128.4 353.7,128.4 354.3,129.3 353.4,129.2 352.8,128.4 M350.4,193.4 354.0,194.1 354.0,196.5 350.4,197.5 346.7,195.9 350.4,193.4 M202.7,127.5 203.4,128.5 202.9,128.6 202.7,127.5 M204.6,130.7 205.1,131.3 204.6,131.3 204.6,130.7 M215.7,130.9 217.2,130.8 217.2,131.6 215.8,131.5 215.7,130.9 M217.5,129.7 219.0,129.2 218.4,129.9 217.5,129.7 M248.2,86.3 249.4,85.8 248.3,84.9 248.2,86.3 M247.5,84.1 248.2,84.3 247.7,84.4 247.5,84.1 M245.5,83.3 246.1,83.6 245.8,83.6 245.5,83.3 M83.7,169.1 85.5,169.2 85.2,169.8 83.9,169.7 83.7,169.1 M391.8,175.2 394.2,175.8 393.6,176.2 391.8,175.2 M222.9,162.8 223.6,163.0 223.1,163.2 222.9,162.8 M16.4,93.1 17.6,93.1 17.6,93.9 16.8,93.9 16.4,93.1 M227.9,125.9 228.5,126.2 228.1,126.3 227.9,125.9 M326.8,110.2 327.4,110.0 327.3,110.7 326.8,110.2 M10.3,105.0 10.8,105.2 10.5,105.5 10.3,105.0 M320.6,18.2 324.2,18.2 324.2,17.5 321.8,17.5 320.6,18.2 M340.1,20.7 343.1,20.9 345.5,20.4 343.1,19.7 340.1,20.0 340.1,20.7 M318.8,14.8 321.8,14.7 321.2,13.7 319.4,13.6 318.8,14.8 M299.9,14.4 304.2,14.4 304.8,13.6 301.1,13.6 299.9,14.4 M299.3,15.3 303.6,15.5 304.2,14.7 300.5,14.6 299.3,15.3 M292.6,17.5 295.0,17.5 294.7,16.9 292.6,17.0 292.6,17.5 M310.2,18.2 312.1,18.2 311.7,17.8 310.2,17.8 310.2,18.2 M308.4,20.7 310.9,20.7 310.5,19.8 308.8,19.8 308.4,20.7 M343.7,27.4 346.1,27.5 346.4,26.6 344.3,26.5 343.7,27.4 M336.8,33.0 338.5,33.3 339.4,33.0 337.6,32.6 336.8,33.0 M340.1,34.6 341.5,34.3 341.3,33.7 340.3,33.7 340.1,34.6 M338.2,45.0 340.1,45.3 340.4,44.8 338.8,44.7 338.2,45.0 M309.0,15.6 311.5,15.7 311.2,15.0 309.3,15.0 309.0,15.6 M313.3,15.1 315.7,15.1 315.4,14.6 313.5,14.6 313.3,15.1 M316.3,12.4 318.8,12.4 318.2,11.8 316.6,11.9 316.3,12.4 M342.5,32.6 343.7,32.6 343.5,32.1 342.5,32.2 342.5,32.6 M371.3,24.9 373.5,25.2 374.7,24.6 372.9,24.0 371.3,24.3 371.3,24.9 M58.8,25.5 60.2,25.9 61.2,25.4 60.0,24.9 58.8,25.5 M71.2,24.6 73.2,24.7 73.4,24.0 71.8,23.7 71.2,24.6 M121.1,14.6 125.3,14.8 127.7,14.2 124.7,13.4 121.7,13.6 121.1,14.6 M84.6,20.3 87.0,20.7 86.7,20.1 85.2,20.0 84.6,20.3 M166.7,17.6 169.1,18.5 171.5,18.2 170.9,17.2 167.9,16.9 166.7,17.6 M177.0,56.2 178.0,55.5 177.5,56.0 177.0,56.2 M178.8,55.1 180.7,54.3 180.1,54.6 178.8,55.1 M185.9,52.3 186.4,51.8 186.0,52.1 185.9,52.3 M189.2,48.7 190.0,47.9 189.6,48.4 189.2,48.7 M198.8,38.2 199.9,37.5 199.4,38.1 198.8,38.2 M342.7,77.1 344.0,77.3 343.3,77.5 342.7,77.1 M343.1,79.3 343.6,80.1 343.2,79.9 343.1,79.3 M2.9,61.3 4.1,61.0 3.9,61.6 2.9,61.3 M47.7,116.6 48.1,117.2 47.8,117.3 47.7,116.6 M52.7,123.6 52.9,124.0 52.6,123.9 52.7,123.6 M67.3,134.9 67.9,135.3 67.4,135.4 67.3,134.9 M69.8,134.0 70.3,134.2 70.0,134.4 69.8,134.0 M0.0,196.9 14.8,195.3 30.5,194.4 46.4,193.4 62.0,189.6 68.4,190.2 84.2,191.3 85.8,195.0 93.6,192.8 109.4,191.3 125.2,189.6 137.8,189.6 156.7,190.2 169.4,190.2 179.0,192.4 191.3,194.2 203.5,195.5 207.0,198.3 197.5,201.6 195.4,206.5 203.5,209.8 220.0,210.6 240.5,211.5 257.0,213.0 259.0,209.8 250.8,206.5 244.5,204.9 252.8,203.7 261.0,202.5 277.4,199.7 289.7,198.3 302.0,199.7 314.4,197.5 326.7,196.7 343.0,196.7 347.2,194.2 353.3,191.4 361.5,187.2 369.7,185.2 363.5,189.3 359.5,193.4 357.5,199.7 363.5,202.5 375.9,204.9 392.3,204.9 408.7,201.6 425.1,196.7 438.0,195.8" fill="none" stroke="#000" stroke-width="0.85" stroke-linejoin="round"/>
<path d="M-1,0.5 H437.5 V219.0 H0 V0.5" fill="none" stroke="#333" stroke-width="1"/>
</g>
<g transform="translate(1.0,325.5)">
<g clip-path="url(#clip)">
<rect x="0.0" y="0.0" width="438.0" height="219.0" fill="#9370db"/>
<path d="M-3.0,183.5 C-2.7,183.5 -74.5,183.5 -1.0,183.5 C72.5,183.5 364.3,183.7 438.0,183.7 C511.7,183.7 440.5,183.7 441.0,183.7 L441,-5 L-3,-5 Z" fill="#0000cd"/>
<path d="M-3.0,176.5 C-2.7,176.5 -74.5,176.5 -1.0,176.5 C72.5,176.5 364.3,176.7 438.0,176.7 C511.7,176.7 440.5,176.7 441.0,176.7 L441,-5 L-3,-5 Z" fill="#4169e1"/>
<path d="M-3.0,169.5 C-2.7,169.5 -74.5,169.4 -1.0,169.5 C72.5,169.6 364.3,169.8 438.0,169.9 C511.7,170.0 440.5,169.9 441.0,169.9 L441,-5 L-3,-5 Z" fill="#7799f2"/>
<path d="M-3.0,163.1 C-2.7,163.1 -38.0,163.0 -1.0,163.1 C36.0,163.2 145.8,163.4 219.0,163.5 C292.2,163.6 401.0,163.5 438.0,163.5 C475.0,163.5 440.5,163.5 441.0,163.5 L441,-5 L-3,-5 Z" fill="#b0e0e6"/>
<path d="M-3.0,157.1 C-2.7,157.1 -38.0,157.0 -1.0,157.1 C36.0,157.2 145.8,157.6 219.0,157.7 C292.2,157.8 401.0,157.5 438.0,157.5 C475.0,157.5 440.5,157.5 441.0,157.5 L441,-5 L-3,-5 Z" fill="#20b2aa"/>
<path d="M-3.0,151.1 C-2.7,151.1 -22.5,151.1 -1.0,151.1 C20.5,151.1 86.5,151.0 126.0,151.1 C165.5,151.2 202.2,151.4 236.0,151.5 C269.8,151.6 310.2,151.3 329.0,151.5 C347.8,151.7 342.3,152.7 349.0,152.5 C355.7,152.3 362.3,150.7 369.0,150.5 C375.7,150.3 377.5,150.9 389.0,151.1 C400.5,151.3 429.3,151.4 438.0,151.5 C446.7,151.6 440.5,151.5 441.0,151.5 L441,-5 L-3,-5 Z" fill="#bef06e"/>
<path d="M-3.0,144.5 C-2.7,144.5 -8.0,144.6 -1.0,144.5 C6.0,144.4 17.8,143.9 39.0,143.9 C60.2,143.9 93.2,144.2 126.0,144.5 C158.8,144.8 202.2,145.9 236.0,146.0 C269.8,146.1 309.8,145.0 329.0,145.1 C348.2,145.2 345.0,146.9 351.0,146.5 C357.0,146.1 361.0,143.3 365.0,142.5 C369.0,141.7 371.0,141.3 375.0,141.5 C379.0,141.7 383.3,143.3 389.0,143.9 C394.7,144.5 400.8,144.9 409.0,145.1 C417.2,145.3 432.7,145.1 438.0,145.1 C443.3,145.1 440.5,145.1 441.0,145.1 L441,-5 L-3,-5 Z" fill="#9abe32"/>
<path d="M-3.0,138.5 C-2.7,138.5 -4.7,138.5 -1.0,138.5 C2.7,138.5 12.3,138.7 19.0,138.5 C25.7,138.3 31.7,137.1 39.0,137.1 C46.3,137.1 48.5,138.3 63.0,138.5 C77.5,138.7 110.0,138.5 126.0,138.5 C142.0,138.5 140.7,138.2 159.0,138.5 C177.3,138.8 207.7,140.0 236.0,140.0 C264.3,140.0 310.2,138.7 329.0,138.5 C347.8,138.3 345.0,138.8 349.0,139.1 C353.0,139.4 351.3,140.6 353.0,140.5 C354.7,140.4 356.3,139.3 359.0,138.5 C361.7,137.7 365.7,135.9 369.0,135.5 C372.3,135.1 375.7,135.4 379.0,135.9 C382.3,136.4 379.2,138.0 389.0,138.5 C398.8,139.0 429.3,139.0 438.0,139.1 C446.7,139.2 440.5,139.1 441.0,139.1 L441,-5 L-3,-5 Z" fill="#f5e6be"/>
<path d="M-3.0,130.5 C-2.7,130.5 -3.3,130.7 -1.0,130.5 C1.3,130.3 7.7,129.3 11.0,129.5 C14.3,129.7 14.3,131.2 19.0,131.5 C23.7,131.8 31.7,131.6 39.0,131.5 C46.3,131.4 48.5,131.4 63.0,131.1 C77.5,130.8 111.7,129.7 126.0,129.9 C140.3,130.0 143.2,132.1 149.0,132.0 C154.8,131.9 157.3,129.7 161.0,129.3 C164.7,128.9 168.0,129.0 171.0,129.5 C174.0,130.0 168.2,131.8 179.0,132.5 C189.8,133.2 219.3,133.3 236.0,133.5 C252.7,133.7 263.5,134.1 279.0,133.8 C294.5,133.5 318.7,131.8 329.0,131.5 C339.3,131.2 337.7,131.9 341.0,131.9 C344.3,131.9 347.0,131.1 349.0,131.5 C351.0,131.9 351.3,134.8 353.0,134.5 C354.7,134.2 357.0,130.8 359.0,129.5 C361.0,128.2 362.3,127.2 365.0,126.5 C367.7,125.8 371.7,124.9 375.0,125.1 C378.3,125.3 382.7,126.5 385.0,127.5 C387.3,128.5 385.0,130.4 389.0,131.1 C393.0,131.8 400.8,131.9 409.0,131.9 C417.2,131.9 432.7,131.2 438.0,131.1 C443.3,131.0 440.5,131.1 441.0,131.1 L441,-5 L-3,-5 Z" fill="#deb887"/>
<path d="M-3.0,120.5 C-2.7,120.5 -3.3,120.6 -1.0,120.5 C1.3,120.4 8.0,119.7 11.0,119.9 C14.0,120.1 15.0,120.8 17.0,121.5 C19.0,122.2 19.3,123.5 23.0,123.9 C26.7,124.3 32.3,124.0 39.0,123.9 C45.7,123.8 48.5,123.7 63.0,123.5 C77.5,123.3 106.7,122.4 126.0,122.5 C145.3,122.6 160.7,123.8 179.0,124.3 C197.3,124.8 219.3,125.5 236.0,125.7 C252.7,125.9 263.5,126.1 279.0,125.7 C294.5,125.3 318.7,123.6 329.0,123.1 C339.3,122.6 337.7,122.9 341.0,122.5 C344.3,122.1 346.7,121.2 349.0,120.5 C351.3,119.8 351.7,119.0 355.0,118.5 C358.3,118.0 364.7,117.3 369.0,117.5 C373.3,117.7 377.7,118.6 381.0,119.5 C384.3,120.4 386.7,122.4 389.0,123.1 C391.3,123.8 391.7,123.8 395.0,123.9 C398.3,124.0 403.3,124.1 409.0,123.9 C414.7,123.7 424.2,122.9 429.0,122.5 C433.8,122.1 436.0,121.7 438.0,121.5 C440.0,121.3 440.5,121.5 441.0,121.5 L441,-5 L-3,-5 Z" fill="#ffe100"/>
<path d="M-3.0,109.5 C-2.7,109.5 -3.3,109.4 -1.0,109.5 C1.3,109.6 7.7,109.6 11.0,109.9 C14.3,110.2 14.3,110.6 19.0,111.1 C23.7,111.6 31.7,112.4 39.0,113.0 C46.3,113.6 54.7,114.5 63.0,114.9 C71.3,115.3 78.5,115.6 89.0,115.5 C99.5,115.4 116.8,114.7 126.0,114.5 C135.2,114.3 135.2,114.3 144.0,114.5 C152.8,114.7 167.5,115.2 179.0,115.5 C190.5,115.8 201.5,116.1 213.0,116.5 C224.5,116.9 236.5,117.7 248.0,117.8 C259.5,117.9 270.2,117.6 282.0,117.1 C293.8,116.6 311.2,115.7 319.0,115.0 C326.8,114.3 325.7,113.4 329.0,112.9 C332.3,112.4 336.3,112.6 339.0,112.0 C341.7,111.4 341.7,110.0 345.0,109.5 C348.3,109.0 355.0,108.9 359.0,108.8 C363.0,108.7 365.3,108.6 369.0,109.1 C372.7,109.6 377.7,111.1 381.0,112.0 C384.3,112.9 386.0,113.9 389.0,114.5 C392.0,115.1 395.7,115.3 399.0,115.5 C402.3,115.7 405.7,115.8 409.0,115.5 C412.3,115.2 415.7,114.5 419.0,113.9 C422.3,113.3 425.8,112.7 429.0,112.1 C432.2,111.5 436.0,110.8 438.0,110.5 C440.0,110.2 440.5,110.5 441.0,110.5 L441,-5 L-3,-5 Z" fill="#ffa500"/>
<path d="M-3.0,100.5 C-2.7,100.5 -3.0,100.7 -1.0,100.5 C1.0,100.3 5.7,100.0 9.0,99.5 C12.3,99.0 15.7,98.3 19.0,97.5 C22.3,96.7 25.7,95.8 29.0,94.5 C32.3,93.2 36.5,91.0 39.0,89.5 C41.5,88.0 42.5,86.0 44.0,85.5 C45.5,85.0 47.0,85.5 48.0,86.5 C49.0,87.5 49.3,90.2 50.0,91.5 C50.7,92.8 51.3,94.0 52.0,94.0 C52.7,94.0 53.8,92.8 54.0,91.5 C54.2,90.2 53.3,88.1 53.5,86.5 C53.7,84.9 54.1,83.2 55.0,82.0 C55.9,80.8 57.0,80.0 59.0,79.5 C61.0,79.0 63.7,79.4 67.0,79.1 C70.3,78.8 75.7,77.9 79.0,77.9 C82.3,77.9 84.3,78.4 87.0,79.1 C89.7,79.8 93.3,81.0 95.0,81.9 C96.7,82.8 97.7,83.6 97.0,84.5 C96.3,85.4 93.0,86.5 91.0,87.5 C89.0,88.5 87.0,89.0 85.0,90.5 C83.0,92.0 80.8,94.7 79.0,96.5 C77.2,98.3 74.3,100.1 74.0,101.5 C73.7,102.9 74.5,104.4 77.0,105.1 C79.5,105.8 84.7,105.7 89.0,105.9 C93.3,106.1 98.7,106.3 103.0,106.5 C107.3,106.7 111.2,106.9 115.0,106.9 C118.8,106.9 121.2,106.8 126.0,106.5 C130.8,106.2 135.3,105.5 144.0,105.3 C152.7,105.1 166.5,105.1 178.0,105.3 C189.5,105.5 201.3,106.1 213.0,106.3 C224.7,106.6 236.5,106.8 248.0,106.8 C259.5,106.8 271.8,106.5 282.0,106.3 C292.2,106.1 301.2,106.2 309.0,105.6 C316.8,105.1 324.0,103.5 329.0,103.0 C334.0,102.5 336.7,102.2 339.0,102.5 C341.3,102.8 341.3,104.3 343.0,104.5 C344.7,104.7 346.3,104.0 349.0,103.5 C351.7,103.0 355.7,101.8 359.0,101.5 C362.3,101.2 365.7,101.2 369.0,101.5 C372.3,101.8 375.7,102.9 379.0,103.5 C382.3,104.1 385.7,104.8 389.0,105.1 C392.3,105.4 395.7,105.4 399.0,105.5 C402.3,105.6 405.7,106.0 409.0,105.9 C412.3,105.8 415.7,105.4 419.0,105.1 C422.3,104.8 425.8,104.2 429.0,103.9 C432.2,103.6 436.0,103.2 438.0,103.1 C440.0,103.0 440.5,103.1 441.0,103.1 L441,-5 L-3,-5 Z" fill="#ff4500"/>
<path d="M51.0,94.5 C52.0,93.7 54.7,93.4 57.0,93.0 C59.3,92.6 62.8,92.0 65.0,92.0 C67.2,92.0 69.3,92.2 70.0,93.0 C70.7,93.8 70.2,95.3 69.0,96.5 C67.8,97.7 65.3,99.3 63.0,100.0 C60.7,100.7 57.0,100.8 55.0,100.5 C53.0,100.2 51.7,99.0 51.0,98.0 C50.3,97.0 50.0,95.3 51.0,94.5Z" fill="#ffe100"/>
<path d="M58.5,95.5 C59.1,95.0 60.8,94.6 62.0,94.5 C63.2,94.4 65.4,94.3 66.0,94.8 C66.6,95.3 66.3,96.9 65.5,97.5 C64.7,98.1 62.2,98.5 61.0,98.5 C59.8,98.5 58.9,98.0 58.5,97.5 C58.1,97.0 57.9,96.0 58.5,95.5Z" fill="#deb887"/>
<path d="M-3.0,11.1 C2.3,11.1 18.0,11.0 29.0,10.9 C40.0,10.8 51.3,10.6 63.0,10.5 C74.7,10.4 91.3,10.2 99.0,10.3 C106.7,10.4 104.0,10.4 109.0,10.9 C114.0,11.4 122.3,12.7 129.0,13.5 C135.7,14.3 142.3,15.0 149.0,15.5 C155.7,16.0 162.3,16.1 169.0,16.5 C175.7,16.9 182.3,17.5 189.0,18.1 C195.7,18.7 202.3,19.5 209.0,20.1 C215.7,20.7 224.0,21.3 229.0,21.5 C234.0,21.7 234.0,21.5 239.0,21.5 C244.0,21.5 253.0,21.7 259.0,21.5 C265.0,21.3 270.7,20.9 275.0,20.1 C279.3,19.3 281.0,17.4 285.0,16.5 C289.0,15.6 293.3,15.2 299.0,14.5 C304.7,13.8 313.2,12.5 319.0,12.5 C324.8,12.5 329.0,14.1 334.0,14.5 C339.0,14.9 344.8,14.5 349.0,15.0 C353.2,15.5 356.0,16.6 359.0,17.5 C362.0,18.4 364.9,19.2 367.0,20.5 C369.1,21.8 370.8,24.2 371.5,25.0 L366.0,26.5 C365.2,26.2 363.0,25.1 361.0,24.5 C359.0,23.9 356.8,23.3 354.0,23.0 C351.2,22.7 347.3,22.5 344.0,22.5 C340.7,22.5 336.3,22.5 334.0,23.0 C331.7,23.5 331.2,24.2 330.0,25.5 C328.8,26.8 328.8,29.4 327.0,30.5 C325.2,31.6 323.7,31.9 319.0,32.1 C314.3,32.3 305.7,31.7 299.0,31.5 C292.3,31.3 285.7,31.1 279.0,30.9 C272.3,30.7 264.0,30.4 259.0,30.5 C254.0,30.6 252.3,31.0 249.0,31.5 C245.7,32.0 242.0,32.9 239.0,33.5 C236.0,34.1 234.3,34.6 231.0,34.9 C227.7,35.2 224.3,35.4 219.0,35.5 C213.7,35.6 204.0,35.7 199.0,35.5 C194.0,35.3 192.7,35.0 189.0,34.5 C185.3,34.0 180.3,32.7 177.0,32.5 C173.7,32.3 171.7,32.8 169.0,33.5 C166.3,34.2 164.3,36.1 161.0,36.5 C157.7,36.9 153.8,36.0 149.0,36.0 C144.2,36.0 136.9,36.2 132.0,36.5 C127.1,36.8 123.7,37.2 119.5,37.7 C115.3,38.2 111.1,38.9 106.9,39.5 C102.7,40.1 98.4,41.0 94.2,41.5 C90.0,42.0 85.8,42.4 81.6,42.7 C77.4,43.0 72.8,42.8 69.0,43.1 C65.2,43.4 61.8,44.4 59.0,44.5 C56.2,44.6 54.1,43.8 52.0,43.5 C49.9,43.2 48.5,42.9 46.3,42.8 C44.1,42.7 41.1,42.7 38.7,43.0 C36.3,43.3 33.9,44.0 32.0,44.5 C30.1,45.0 29.4,45.6 27.4,45.9 C25.4,46.2 22.0,46.6 19.8,46.3 C17.6,46.0 15.0,44.9 14.1,44.0 C13.2,43.1 14.8,42.2 14.6,41.1 C14.4,40.0 13.9,38.4 13.2,37.3 C12.5,36.2 11.5,34.7 10.4,34.3 C9.3,33.9 7.5,34.2 6.6,34.7 C5.6,35.2 5.7,36.8 4.7,37.2 C3.7,37.6 1.7,37.0 0.4,36.9 C-0.9,36.8 -2.4,36.8 -3.0,36.8 Z" fill="#ffa500"/>
<path d="M441.0,13.0 C439.0,9.9 432.0,13.5 429.0,14.1 C426.0,14.7 425.0,15.3 423.0,16.5 C421.0,17.7 419.3,19.8 417.0,21.5 C414.7,23.2 411.7,25.0 409.0,26.5 C406.3,28.0 403.3,29.3 401.0,30.5 C398.7,31.7 395.3,32.8 395.0,33.5 C394.7,34.2 396.7,34.4 399.0,34.5 C401.3,34.6 405.0,34.2 409.0,33.9 C413.0,33.6 417.7,33.1 423.0,32.9 C428.3,32.7 438.0,36.0 441.0,32.7 C444.0,29.4 443.0,16.1 441.0,13.0Z" fill="#ffa500"/>
<path d="M-4.0,65.4 C-2.3,65.2 3.4,64.4 5.9,64.5 C8.4,64.6 9.7,65.1 11.0,66.0 C12.3,66.9 12.5,68.9 13.9,70.0 C15.3,71.1 16.8,72.1 19.2,72.5 C21.6,72.9 25.4,73.0 28.0,72.5 C30.6,72.0 33.5,71.3 35.0,69.8 C36.5,68.3 35.5,65.1 36.9,63.5 C38.3,61.9 40.7,61.1 43.2,60.3 C45.7,59.5 49.5,58.8 52.0,58.8 C54.5,58.8 56.6,59.4 58.3,60.3 C60.0,61.2 60.3,63.2 62.1,64.1 C63.9,65.0 66.6,65.5 69.0,65.5 C71.4,65.5 74.5,64.8 76.6,64.2 C78.7,63.5 80.1,62.6 81.6,61.6 C83.1,60.7 83.9,59.3 85.4,58.5 C86.9,57.7 88.0,57.0 90.5,56.6 C93.0,56.2 97.2,56.3 100.5,56.2 C103.8,56.1 108.0,56.2 110.6,56.0 C113.2,55.8 116.1,55.4 116.3,54.7 C116.5,53.9 113.4,52.3 111.9,51.5 C110.4,50.7 107.7,50.2 107.5,49.6 C107.3,49.0 108.0,48.4 110.6,48.1 C113.2,47.9 121.0,47.5 123.3,48.1 C125.6,48.7 124.5,50.4 124.5,51.5 C124.5,52.6 122.5,53.8 123.3,54.7 C124.1,55.5 127.9,55.8 129.6,56.6 C131.3,57.4 132.6,58.3 133.4,59.7 C134.2,61.1 134.8,62.9 134.6,64.8 C134.4,66.7 132.1,69.4 132.1,71.1 C132.1,72.8 133.1,73.9 134.6,74.9 C136.1,75.8 138.8,76.1 140.9,76.8 C143.0,77.5 145.2,78.3 147.0,79.0 C148.8,79.7 149.7,81.4 152.0,81.0 C154.3,80.6 158.2,77.8 161.0,76.5 C163.8,75.2 166.0,75.0 169.0,73.5 C172.0,72.0 175.7,69.2 179.0,67.5 C182.3,65.8 185.7,64.4 189.0,63.5 C192.3,62.6 195.7,62.6 199.0,62.1 C202.3,61.6 205.3,61.4 209.0,60.5 C212.7,59.6 217.3,57.9 221.0,57.0 C224.7,56.1 226.3,55.5 231.0,54.9 C235.7,54.2 242.7,53.4 249.0,53.1 C255.3,52.8 263.4,53.0 269.0,52.9 C274.6,52.8 279.8,53.6 282.5,52.5 C285.2,51.4 283.9,47.9 285.0,46.5 C286.1,45.1 286.7,44.4 289.0,44.1 C291.3,43.8 296.0,44.1 299.0,44.5 C302.0,44.9 304.3,45.3 307.0,46.5 C309.7,47.7 313.0,49.8 315.0,51.5 C317.0,53.2 318.2,54.3 319.0,56.5 C319.8,58.7 318.8,62.1 319.5,64.5 C320.2,66.9 321.1,70.0 323.0,71.0 C324.9,72.0 328.7,70.6 331.0,70.5 C333.3,70.4 334.7,71.3 337.0,70.5 C339.3,69.7 342.0,67.3 345.0,65.5 C348.0,63.7 351.7,61.2 355.0,59.5 C358.3,57.8 361.3,56.6 365.0,55.5 C368.7,54.4 373.0,53.5 377.0,52.9 C381.0,52.3 383.7,52.3 389.0,52.1 C394.3,51.9 403.0,51.4 409.0,51.5 C415.0,51.6 421.0,52.2 425.0,52.5 C429.0,52.8 430.3,53.2 433.0,53.5 C435.7,53.8 439.7,54.3 441.0,54.5 L441.0,76.5 C439.0,76.7 432.3,77.4 429.0,77.7 C425.7,78.0 423.7,78.0 421.0,78.5 C418.3,79.0 415.7,79.5 413.0,80.5 C410.3,81.5 408.0,83.7 405.0,84.5 C402.0,85.3 399.0,84.9 395.0,85.1 C391.0,85.3 385.3,85.1 381.0,85.5 C376.7,85.9 372.0,86.8 369.0,87.5 C366.0,88.2 366.8,89.2 363.0,89.5 C359.2,89.8 351.3,89.1 346.0,89.1 C340.7,89.1 335.5,89.2 331.0,89.5 C326.5,89.8 324.3,90.6 319.0,90.7 C313.7,90.8 305.7,90.1 299.0,90.1 C292.3,90.1 285.7,90.3 279.0,90.7 C272.3,91.1 264.0,92.3 259.0,92.7 C254.0,93.1 252.8,93.5 249.0,93.3 C245.2,93.1 242.7,91.7 236.0,91.7 C229.3,91.7 216.8,93.0 209.0,93.3 C201.2,93.6 195.7,94.0 189.0,93.7 C182.3,93.4 174.0,92.3 169.0,91.7 C164.0,91.1 162.3,90.6 159.0,90.1 C155.7,89.6 152.3,88.6 149.0,88.7 C145.7,88.8 141.7,90.4 139.0,90.7 C136.3,91.0 135.0,90.9 133.0,90.7 C131.0,90.5 128.8,89.9 127.0,89.4 C125.2,88.9 123.7,88.5 122.0,87.5 C120.3,86.5 118.7,84.7 117.0,83.1 C115.3,81.5 113.6,79.0 111.9,78.0 C110.2,77.0 108.8,77.3 106.9,76.8 C105.0,76.3 102.4,75.6 100.5,74.9 C98.6,74.2 97.2,73.0 95.5,72.4 C93.8,71.8 92.2,71.3 90.5,71.1 C88.8,70.9 86.9,70.9 85.4,71.1 C83.9,71.3 83.1,72.4 81.6,72.4 C80.1,72.4 78.7,71.4 76.6,71.1 C74.5,70.8 71.0,70.8 69.0,70.5 C67.0,70.2 66.8,69.8 64.6,69.3 C62.4,68.9 58.3,67.7 55.8,67.8 C53.3,67.9 51.4,69.0 49.5,69.8 C47.6,70.7 45.9,72.1 44.4,72.9 C42.9,73.7 41.9,73.8 40.6,74.5 C39.4,75.2 38.0,76.0 36.9,77.4 C35.8,78.8 36.4,82.1 34.3,83.0 C32.2,83.9 26.9,82.8 24.2,83.0 C21.5,83.2 19.7,83.6 17.9,84.3 C16.1,85.0 15.0,87.5 13.5,87.2 C12.0,86.9 10.5,84.0 9.1,82.4 C7.7,80.8 7.5,78.4 5.3,77.4 C3.1,76.3 -2.5,76.3 -4.0,76.1 Z" fill="#b22222"/>
<path d="M372.0,14.5 C372.5,12.9 374.2,11.6 377.0,10.9 C379.8,10.2 385.3,10.3 389.0,10.5 C392.7,10.7 396.2,11.3 399.0,12.1 C401.8,12.9 406.0,14.1 406.0,15.5 C406.0,16.9 401.5,18.7 399.0,20.5 C396.5,22.3 393.0,24.5 391.0,26.5 C389.0,28.5 388.7,31.3 387.0,32.5 C385.3,33.7 382.5,34.5 381.0,33.5 C379.5,32.5 379.2,28.7 378.0,26.5 C376.8,24.3 375.0,22.5 374.0,20.5 C373.0,18.5 371.5,16.1 372.0,14.5Z" fill="#b22222"/>
<path d="M87.3,62.9 C87.5,62.0 89.3,60.9 90.5,60.7 C91.7,60.5 92.7,61.0 94.2,61.6 C95.7,62.2 97.2,64.0 99.3,64.2 C101.4,64.4 104.0,63.2 106.9,62.9 C109.8,62.6 114.0,62.2 116.9,62.3 C119.8,62.4 122.8,62.8 124.5,63.5 C126.2,64.2 126.8,65.2 127.0,66.7 C127.2,68.2 126.6,70.9 125.8,72.4 C125.0,73.9 124.1,75.4 122.0,75.9 C119.9,76.4 116.2,75.7 113.2,75.5 C110.2,75.3 106.6,75.1 104.3,74.6 C102.0,74.1 101.0,73.3 99.3,72.4 C97.6,71.5 95.9,70.3 94.2,69.2 C92.5,68.1 90.4,67.0 89.2,66.0 C88.0,65.0 87.1,63.8 87.3,62.9Z" fill="#ffb6c1"/>
<path d="M100.5,69.8 C100.5,69.0 103.9,67.7 105.6,67.3 C107.3,66.9 108.3,67.2 110.6,67.6 C112.9,68.0 119.1,69.1 119.5,69.8 C119.9,70.5 115.5,71.3 113.2,71.7 C110.9,72.1 107.7,72.4 105.6,72.1 C103.5,71.8 100.5,70.6 100.5,69.8Z" fill="#ff1493"/>
<path d="M300.5,61.9 C300.7,61.1 301.2,59.6 302.0,59.0 C302.8,58.4 304.4,58.1 305.5,58.3 C306.6,58.5 307.8,59.3 308.5,60.0 C309.2,60.7 309.7,61.6 309.5,62.5 C309.3,63.4 308.5,64.6 307.5,65.1 C306.5,65.6 304.6,65.5 303.5,65.3 C302.4,65.1 301.5,64.6 301.0,64.0 C300.5,63.4 300.3,62.7 300.5,61.9Z" fill="#ffb6c1"/>
</g>
<path d="M430.8,65.9 431.6,65.8 432.6,66.7 434.3,66.6 435.6,66.8 436.8,66.1 438.0,65.7 M0.0,65.7 0.1,65.7 1.8,65.1 3.6,64.7 6.1,64.7 7.9,64.5 9.7,64.6 11.9,64.1 13.4,64.5 12.9,65.2 12.8,66.2 13.5,66.7 13.0,67.5 12.3,67.9 12.3,68.5 13.5,69.1 15.0,69.6 16.2,69.5 17.6,70.0 18.6,70.2 19.0,71.2 20.7,71.9 22.5,72.6 23.8,72.5 24.5,71.8 24.3,70.6 25.1,69.8 26.4,69.5 28.1,69.8 28.3,70.3 30.4,70.9 32.8,71.4 35.3,72.0 36.4,71.5 37.7,71.1 38.9,71.3 39.7,71.7 40.9,71.7 41.7,71.4 42.2,70.6 42.6,69.6 43.2,68.3 43.7,67.4 43.6,66.2 43.8,65.5 44.0,64.8 43.2,65.0 42.1,64.7 41.0,65.5 39.5,65.6 37.7,64.7 37.1,65.3 36.0,65.5 34.7,64.7 33.3,64.5 33.1,63.6 32.0,62.9 32.8,62.2 31.9,61.4 31.9,60.8 32.5,60.2 31.6,60.0 30.4,59.7 29.2,60.0 29.2,60.8 28.3,60.6 27.9,60.2 27.5,60.8 28.0,61.7 28.3,62.4 29.2,63.0 29.2,63.6 28.5,63.3 28.0,63.4 28.2,64.1 27.7,65.1 27.0,64.7 26.4,64.7 25.9,63.6 26.4,63.0 25.7,62.9 25.2,62.2 24.6,61.3 23.6,60.5 23.7,59.3 23.6,58.5 22.5,57.9 21.3,57.2 19.5,56.6 18.5,55.7 17.6,54.4 16.9,55.0 16.5,54.0 15.0,54.4 15.1,55.6 16.4,56.5 17.3,57.9 18.2,58.5 19.6,58.5 19.3,59.0 20.7,59.6 22.5,60.7 22.4,61.1 20.7,60.2 20.2,61.2 20.8,62.0 20.1,62.8 19.5,63.4 19.0,63.3 19.2,62.4 19.6,61.9 19.0,60.7 18.1,60.5 17.4,59.9 15.8,59.3 14.8,58.6 13.5,57.9 12.8,57.2 12.4,56.1 10.8,55.5 9.1,56.2 7.4,57.2 6.1,56.7 4.9,56.6 3.8,57.2 3.9,58.0 3.6,58.6 2.7,59.1 1.0,59.6 0.0,61.0 0.0,61.0 M438.0,61.0 437.6,61.4 438.0,62.0 M0.0,62.0 0.2,62.3 0.0,62.5 M438.0,62.5 437.4,62.9 437.0,63.8 435.7,64.6 435.1,64.7 432.6,64.8 431.4,65.6 430.7,65.5 430.2,64.7 429.0,64.2 427.2,64.5 427.3,62.8 426.4,62.3 427.2,60.6 427.4,59.4 427.2,58.3 426.7,57.2 428.3,56.3 430.9,56.5 433.4,56.6 435.8,56.7 436.5,55.2 436.7,54.0 436.5,53.3 435.3,52.2 434.6,51.7 432.6,51.3 432.2,50.6 433.7,50.1 435.6,50.4 436.1,49.2 436.5,49.4 438.0,49.3 M0.0,49.3 0.1,49.3 1.8,48.5 1.9,47.6 3.6,47.1 4.9,46.2 5.7,45.1 6.7,44.5 8.5,44.4 10.1,43.9 10.5,42.7 9.9,41.9 9.9,40.4 11.7,39.8 12.9,39.3 12.7,40.8 13.3,41.0 11.9,42.0 11.7,42.7 12.2,43.2 13.4,43.8 14.6,43.6 16.4,43.2 17.4,43.9 19.5,43.4 21.9,42.8 22.8,43.3 24.1,43.3 24.3,42.7 25.5,42.2 25.5,40.4 26.3,39.4 27.5,39.3 28.3,40.0 29.3,40.1 29.7,38.4 28.6,38.1 28.6,37.5 30.2,37.1 34.1,37.1 36.7,36.6 34.9,35.8 31.6,36.0 28.0,36.6 26.0,35.8 26.0,34.3 25.9,32.8 29.8,30.7 30.9,30.2 29.4,29.4 26.8,29.7 25.8,31.0 23.1,32.6 21.0,33.7 20.9,35.3 21.0,35.8 22.8,36.5 22.0,37.4 20.3,38.2 20.2,39.3 19.7,40.6 19.1,41.2 17.4,41.4 17.3,42.1 15.7,42.1 15.3,41.1 14.5,39.4 13.6,37.8 12.9,37.1 12.5,37.7 11.3,38.1 9.7,38.8 8.0,38.8 6.7,37.7 6.2,36.3 6.1,34.7 6.3,33.8 8.5,33.0 10.3,32.2 11.9,31.6 13.6,30.5 15.2,29.2 16.1,28.1 17.8,27.0 18.5,26.4 20.1,25.7 21.9,24.8 23.1,24.3 25.5,24.1 28.0,23.4 31.3,23.0 34.1,23.1 37.7,24.0 36.5,24.7 40.1,25.1 43.8,25.4 46.8,26.4 49.9,27.7 49.8,28.5 48.1,29.1 43.8,28.7 40.1,28.5 42.0,29.4 42.3,31.0 45.0,31.8 46.2,31.1 48.7,30.9 48.7,29.8 51.7,28.7 53.8,28.6 53.5,27.6 52.9,26.0 55.4,26.3 56.2,27.0 55.4,28.0 57.2,28.1 59.0,27.1 62.0,26.3 65.1,26.5 65.7,25.7 67.5,26.2 70.6,25.7 73.0,26.4 74.0,25.5 73.6,24.6 77.9,25.2 80.3,25.5 81.5,26.0 83.1,26.4 83.9,25.7 82.1,24.7 81.3,23.5 81.9,22.5 83.3,21.0 84.6,20.7 87.6,20.9 88.6,22.5 88.2,24.9 87.6,26.8 87.0,28.3 89.4,28.2 90.0,26.2 89.4,24.3 90.6,22.5 91.9,21.9 94.9,21.7 97.9,20.1 101.0,19.8 105.2,19.6 105.8,18.2 109.5,17.5 115.6,16.9 121.7,16.4 126.9,15.0 129.6,15.6 136.3,16.4 138.1,17.3 137.5,18.9 133.8,19.6 137.5,19.8 143.6,20.1 149.6,20.3 154.5,20.1 157.6,21.3 156.9,23.1 160.6,22.5 164.2,22.4 167.9,22.5 170.3,21.3 172.8,20.9 177.6,21.4 182.5,22.4 184.9,23.2 189.8,23.0 194.7,24.3 195.9,25.2 200.7,24.8 204.4,24.5 207.4,25.5 208.0,24.3 214.1,24.6 219.0,25.5 222.6,26.4 227.5,27.9 231.2,29.1 229.9,29.8 227.5,31.1 224.5,30.7 220.8,29.8 219.6,29.0 218.4,30.4 216.0,30.8 217.8,31.3 218.1,33.0 218.0,33.7 213.5,34.3 210.5,35.3 207.4,36.5 202.6,36.5 198.9,36.7 199.5,37.8 198.3,39.2 198.1,40.8 197.1,41.1 197.1,42.6 194.7,44.9 192.6,46.2 190.7,47.4 189.8,45.0 189.2,42.6 189.8,40.1 192.8,38.3 195.3,36.5 198.9,34.7 199.5,33.6 197.7,34.6 194.7,34.4 194.1,35.3 190.4,34.7 188.6,37.1 184.9,37.7 183.7,37.1 180.1,37.2 176.4,37.4 173.4,37.5 170.9,38.9 168.5,40.4 165.5,42.7 167.3,43.8 168.5,43.9 170.9,44.9 171.8,44.7 171.8,46.0 170.9,48.1 170.9,49.9 169.7,51.7 167.9,53.5 165.5,55.4 162.4,57.3 160.6,56.9 159.1,57.8 157.9,59.0 157.7,59.9 155.2,61.1 155.1,61.8 156.2,62.7 157.4,64.5 157.6,66.3 156.9,66.8 155.1,67.3 153.8,67.5 153.9,66.3 154.2,64.7 153.5,63.6 152.1,63.3 152.4,61.6 151.2,61.0 148.4,61.9 147.5,62.3 148.2,60.2 147.2,59.7 145.1,61.4 143.3,61.9 143.2,62.9 144.8,63.8 144.8,64.2 147.0,63.5 149.0,64.0 148.9,64.6 146.9,65.3 145.4,66.6 145.1,67.3 146.6,68.7 148.3,70.9 148.2,71.9 147.0,72.6 148.4,73.1 147.9,74.8 146.9,76.0 145.6,77.9 144.8,78.8 143.6,79.8 142.3,80.9 141.1,81.6 138.9,82.4 138.1,82.5 136.3,83.1 134.4,83.7 134.2,84.8 133.6,83.3 132.0,83.1 131.2,83.3 129.8,84.6 128.7,86.0 129.6,87.8 130.8,89.4 132.4,90.9 133.0,93.1 132.9,95.1 131.4,96.4 129.9,96.8 129.6,97.9 128.0,98.9 127.5,97.6 127.1,96.8 125.3,96.1 124.7,94.8 122.9,94.0 122.3,93.2 121.7,93.7 121.5,95.5 120.8,97.3 120.8,98.3 121.7,99.2 122.3,100.6 123.5,101.2 124.7,102.2 125.7,103.7 125.9,105.8 126.8,107.8 125.9,107.9 124.1,106.7 123.2,105.8 122.4,104.3 122.0,102.8 121.9,101.6 120.4,99.9 119.6,99.4 119.8,97.9 120.0,96.4 120.1,94.9 119.6,93.1 119.2,91.5 118.9,89.8 118.3,89.1 116.8,89.4 115.9,90.3 114.7,90.0 115.0,88.2 114.4,86.4 113.1,85.2 112.2,83.9 111.7,82.4 110.1,82.1 108.3,83.0 105.8,83.3 105.7,84.3 105.0,85.3 103.4,86.0 101.6,87.7 100.1,89.2 98.8,90.0 97.6,90.9 97.5,93.1 97.7,93.6 97.1,95.5 97.1,97.0 96.1,98.2 95.1,98.7 94.3,99.6 93.1,98.5 92.5,96.7 91.5,94.9 90.6,92.5 89.8,90.6 88.8,88.2 88.6,86.4 88.5,84.6 88.3,83.6 88.2,82.5 87.6,83.0 86.4,84.2 85.2,83.9 83.9,82.5 85.5,81.6 83.8,81.5 83.0,80.7 82.0,80.3 81.5,79.3 80.9,78.6 78.5,78.8 75.4,78.8 73.6,78.7 71.5,78.5 69.7,78.2 69.3,76.9 68.5,76.5 66.6,77.1 64.5,76.6 63.3,75.7 62.0,74.5 61.7,73.4 60.5,72.9 59.5,72.6 59.0,73.1 58.4,73.9 59.1,74.8 60.5,76.6 61.1,77.4 61.8,78.5 62.3,77.7 62.8,79.1 62.4,79.9 63.9,80.1 65.7,80.1 67.3,78.7 68.4,77.6 68.6,79.1 69.0,79.9 71.2,80.8 72.8,82.1 71.4,84.6 70.3,86.4 69.3,86.6 67.5,88.1 65.7,88.8 63.5,89.8 60.8,91.2 59.3,92.5 56.0,93.2 54.7,93.9 52.9,94.0 52.6,93.1 52.1,91.2 52.0,89.5 50.9,87.6 49.6,85.8 48.3,84.6 47.6,83.3 46.8,80.9 45.6,79.9 44.7,77.9 43.2,76.0 42.3,75.4 42.6,73.6 42.0,75.2 41.7,75.7 40.8,74.8 39.8,73.2 39.7,74.2 40.8,75.7 41.4,77.3 42.6,79.3 43.4,80.5 44.9,82.7 45.4,83.9 45.4,85.8 46.8,87.6 48.1,90.6 49.9,91.9 51.7,93.7 52.7,94.3 52.7,95.5 53.5,96.7 55.4,96.6 57.2,96.0 59.6,95.8 62.3,95.0 62.0,96.8 60.8,99.8 59.0,102.8 57.2,105.2 55.2,107.1 52.9,109.5 51.1,111.3 49.9,111.9 48.8,113.5 48.3,114.4 47.4,116.8 48.1,118.0 47.8,119.8 48.4,121.7 49.3,122.6 49.4,124.7 49.5,127.1 48.7,129.2 46.2,130.8 44.9,131.4 42.6,133.6 43.1,135.7 43.2,138.1 42.2,139.6 40.1,140.5 39.8,141.1 39.9,143.0 38.9,144.7 37.7,145.9 36.5,147.6 34.7,149.4 32.8,150.4 31.3,150.9 28.6,151.0 26.8,151.1 24.3,151.8 22.5,151.2 22.3,149.6 22.3,148.4 21.0,146.0 20.1,144.3 18.5,142.3 18.1,139.9 17.6,137.4 16.2,134.4 14.6,131.4 14.4,129.6 15.0,127.1 16.3,124.7 16.8,122.6 16.1,120.4 15.6,118.0 14.8,116.8 14.6,115.6 13.6,114.4 11.9,112.5 10.9,110.7 11.3,108.9 11.8,107.1 11.8,105.2 10.9,104.0 10.3,103.9 8.5,104.1 7.3,104.3 6.1,102.6 5.2,101.8 3.0,101.8 1.2,102.3 0.0,102.6 0.0,102.6 M438.0,102.6 436.8,103.2 435.6,103.7 434.3,103.3 432.5,103.2 430.7,103.5 428.9,104.1 427.0,103.3 424.9,101.8 424.0,101.1 422.8,100.4 421.9,99.2 421.8,97.9 420.4,96.7 419.7,96.1 418.5,95.0 417.7,94.3 417.6,93.1 416.7,91.6 417.9,90.0 418.5,87.6 418.2,85.8 417.3,83.9 417.9,82.4 418.5,80.7 419.9,78.7 420.4,77.6 421.9,75.8 423.4,75.2 425.6,73.9 426.2,72.4 426.1,71.2 427.0,69.7 428.8,68.6 429.7,68.0 430.7,66.7 430.8,65.9 M35.3,59.4 34.1,58.4 33.7,57.5 34.1,56.7 34.8,56.1 34.9,55.1 36.1,54.5 36.7,53.5 37.5,52.8 38.8,52.7 39.5,53.4 40.8,53.4 39.5,54.3 40.9,55.4 42.6,55.0 44.4,54.5 42.8,53.3 45.0,52.3 47.7,52.1 46.2,53.5 45.6,54.1 44.8,54.5 45.6,55.1 46.8,55.6 48.3,56.6 49.9,57.4 50.6,58.5 50.5,59.0 48.7,59.6 46.2,59.6 44.4,59.3 42.6,58.4 40.8,58.4 38.9,58.8 37.7,59.5 35.3,59.4 M57.8,57.2 57.2,55.4 57.2,54.1 59.0,53.2 60.8,52.7 63.3,52.6 64.5,52.9 64.5,54.4 62.7,54.7 62.0,55.4 61.2,55.6 62.0,56.9 63.9,57.5 64.1,59.0 65.7,59.0 64.5,60.2 64.5,61.4 65.5,62.0 65.6,63.9 64.5,64.7 62.7,64.8 60.8,64.0 59.6,63.3 59.5,62.0 60.2,60.6 61.2,60.3 59.9,59.4 59.0,58.4 57.8,57.2 M70.9,56.0 70.9,54.1 72.4,52.9 74.2,52.7 75.2,53.5 74.2,55.4 73.0,56.6 71.8,56.6 70.9,56.0 M89.4,54.1 90.6,52.7 93.1,52.7 96.1,52.7 95.5,53.5 92.5,53.5 90.6,54.7 89.4,54.1 M126.3,46.8 128.4,45.6 130.8,44.4 132.6,42.6 133.7,41.6 133.2,43.2 132.0,45.0 129.6,46.2 127.1,47.0 126.3,46.8 M36.5,36.5 38.3,36.3 39.9,35.6 39.5,34.9 37.1,34.7 36.3,35.4 36.5,36.5 M42.0,35.3 43.8,35.0 43.8,33.7 42.3,33.3 42.0,35.3 M38.7,110.1 39.5,109.1 41.4,109.3 41.7,110.7 40.8,112.3 38.9,112.7 38.6,111.3 38.7,110.1 M35.6,113.6 36.1,115.6 37.4,118.0 37.7,120.1 37.0,119.2 35.8,116.8 35.4,115.0 35.6,113.6 M41.4,121.1 42.2,122.9 42.6,125.3 42.8,126.9 42.0,125.9 41.5,123.5 41.4,121.1 M431.1,48.5 432.9,48.2 434.3,47.8 436.5,47.7 438.0,47.7 M0.0,47.7 0.4,47.7 1.7,47.2 1.0,46.8 2.1,45.4 0.4,45.0 0.1,44.3 0.0,44.1 M438.0,44.1 437.8,43.7 436.5,42.9 436.1,42.0 435.3,41.4 434.1,41.4 435.0,40.8 435.6,39.5 433.7,39.3 433.0,39.4 434.2,38.2 431.9,38.2 431.3,39.2 430.9,40.1 430.5,40.8 431.3,42.0 432.2,41.9 431.9,42.8 433.7,42.7 433.9,43.4 434.3,44.0 434.2,44.7 432.5,44.7 432.9,45.3 433.0,45.9 431.7,46.4 433.1,46.7 434.3,47.0 433.7,47.2 432.5,47.4 431.1,48.5 M430.5,44.7 430.3,46.0 428.9,46.2 427.7,46.6 425.8,46.6 425.5,46.0 426.4,45.4 426.1,44.5 425.8,43.6 427.7,43.3 427.9,42.5 429.1,42.2 430.7,42.3 431.2,43.1 430.7,43.8 430.5,44.7 M410.4,31.9 413.7,32.2 416.1,32.4 419.7,31.3 421.5,30.4 420.0,29.0 418.3,28.6 415.9,29.1 413.3,29.6 411.8,29.8 410.6,28.7 408.4,29.7 411.2,30.4 408.8,30.5 411.2,31.3 410.4,31.9 M17.0,15.8 20.7,16.3 23.1,14.2 26.2,14.0 22.5,12.8 19.5,12.2 13.4,12.5 14.0,13.6 16.4,14.6 17.0,15.8 M22.5,11.9 28.0,11.7 32.8,12.2 29.2,13.0 24.3,12.8 22.5,11.9 M25.5,15.2 28.6,15.5 29.2,14.5 26.2,14.4 25.5,15.2 M62.7,22.1 63.9,21.3 65.1,20.1 67.5,18.6 69.3,17.8 73.0,16.9 79.1,16.2 83.3,15.8 83.9,16.4 80.3,17.3 74.8,18.2 71.8,19.5 69.3,20.7 68.1,21.9 70.0,23.5 66.9,23.6 65.1,23.2 62.7,22.1 M116.8,13.4 121.7,12.7 126.5,13.1 127.7,14.2 121.7,14.6 119.2,13.9 116.8,13.4 M111.9,12.2 115.6,10.8 119.2,11.2 118.0,12.2 114.4,12.5 111.9,12.2 M56.0,11.6 60.8,11.1 62.0,11.8 57.2,12.0 56.0,11.6 M65.7,11.7 70.6,10.9 75.4,11.3 73.0,12.0 66.9,12.2 65.7,11.7 M167.3,17.9 170.3,17.0 175.2,17.4 177.6,17.9 174.0,18.4 169.1,18.6 167.3,17.9 M170.3,20.1 173.4,19.6 174.6,20.3 171.5,20.7 170.3,20.1 M178.8,18.0 183.1,17.9 183.1,18.5 179.5,18.5 178.8,18.0 M217.4,23.1 220.2,22.5 222.0,22.9 220.8,23.4 218.1,23.4 217.4,23.1 M172.8,53.5 174.6,52.6 173.7,51.7 174.2,49.9 175.8,49.6 174.6,48.1 174.6,45.6 174.0,44.4 173.7,43.4 172.8,44.4 172.5,46.2 173.0,48.1 172.8,50.5 172.8,52.3 172.8,53.5 M170.3,59.0 171.8,58.6 171.5,57.8 174.3,58.4 177.0,56.8 176.8,55.6 174.0,55.4 172.5,54.1 172.4,55.4 171.9,56.9 170.7,57.2 170.1,58.0 170.3,59.0 M172.0,59.1 172.2,60.2 172.8,61.4 172.2,62.9 171.5,64.5 171.1,65.7 171.3,66.1 170.3,66.9 170.1,66.3 169.1,67.2 168.1,67.4 166.7,67.4 166.4,67.8 165.2,68.7 164.5,67.8 163.0,67.4 161.2,67.8 159.4,68.1 159.4,67.5 161.2,66.4 163.0,66.3 164.9,66.2 165.5,65.7 166.3,64.7 167.0,63.9 167.0,64.7 168.5,64.1 169.7,62.7 170.3,61.1 170.3,60.1 170.7,59.4 172.0,59.1 M161.2,69.3 161.8,68.3 163.4,67.8 163.9,68.4 163.3,69.0 161.8,69.6 161.2,69.3 M158.2,68.7 159.4,68.3 160.5,69.1 160.0,70.6 159.4,71.4 158.5,71.5 158.4,70.6 157.9,69.7 157.6,69.0 158.2,68.7 M147.2,78.8 148.3,79.1 147.8,80.9 147.1,82.7 146.2,81.9 146.1,80.9 146.9,79.7 147.2,78.8 M132.3,86.0 133.2,85.2 134.8,85.2 135.0,85.8 133.8,87.2 132.4,87.0 132.3,86.0 M146.6,87.0 148.7,87.1 148.8,88.8 147.9,90.0 148.1,91.9 149.0,92.2 150.6,92.7 151.0,94.2 150.0,93.7 149.0,93.1 147.8,92.8 146.7,92.5 146.7,91.5 146.0,91.2 145.8,89.7 146.5,88.8 146.6,87.0 M152.7,97.6 153.9,99.8 153.7,101.6 152.7,102.7 152.1,102.2 150.9,101.3 150.9,100.4 150.0,100.4 148.7,101.0 149.0,99.8 150.3,99.0 151.7,99.0 152.7,97.6 M151.2,94.3 152.4,94.3 152.9,95.9 152.1,97.1 151.7,96.1 151.2,95.5 151.2,94.3 M148.4,95.1 149.6,95.5 150.0,96.7 149.8,98.3 149.0,97.9 149.0,96.7 148.3,96.7 148.4,95.1 M142.6,99.3 143.6,98.3 144.8,97.0 145.5,95.8 145.0,96.7 143.9,98.2 142.6,99.3 M146.5,93.2 147.5,93.2 147.8,94.3 147.2,94.7 146.5,93.2 M132.6,107.7 133.3,107.1 135.4,106.2 137.5,105.6 138.7,104.0 140.5,102.8 142.0,101.0 143.2,101.8 145.0,103.1 143.8,104.3 143.2,105.2 143.6,106.8 144.8,108.3 143.3,108.5 143.0,110.5 141.7,111.7 141.5,113.1 141.1,114.4 139.4,114.5 137.5,113.5 136.0,113.8 134.1,113.0 133.8,111.3 132.9,110.1 132.6,108.9 132.6,107.7 M115.9,102.7 118.6,103.2 120.1,104.9 122.0,106.5 123.5,107.3 125.3,108.6 126.3,110.1 127.1,111.7 129.0,113.1 128.8,116.6 127.3,116.6 126.3,115.6 124.5,114.4 122.9,112.5 122.0,110.7 120.6,109.1 120.1,107.6 118.6,106.1 117.2,104.8 115.9,102.7 M128.0,117.8 129.2,116.8 132.0,117.7 134.4,117.9 135.0,117.3 137.1,118.0 139.3,118.9 139.2,120.1 136.3,119.7 133.8,119.4 131.4,119.0 129.6,118.5 128.0,117.8 M139.9,119.5 142.0,119.6 144.8,119.6 144.5,120.3 142.3,120.4 140.2,120.2 139.9,119.5 M145.8,119.7 147.8,119.7 149.6,119.6 149.4,120.2 146.6,120.3 145.8,119.7 M144.8,121.1 146.2,120.9 147.0,121.8 145.4,121.7 144.8,121.1 M150.3,122.0 151.5,120.8 153.3,120.0 154.9,119.7 153.9,120.6 152.1,121.5 150.3,122.0 M145.8,108.5 147.0,107.9 149.6,108.4 151.8,107.7 152.3,107.8 150.9,109.0 147.8,108.9 146.2,109.5 146.6,110.7 147.8,110.6 150.0,110.4 149.4,111.3 148.2,111.7 148.8,113.1 149.9,115.0 149.0,116.2 148.1,115.3 147.2,113.8 147.0,112.8 146.4,113.1 146.5,116.2 145.4,116.2 145.4,113.8 144.5,112.9 145.1,111.3 145.8,109.5 145.8,108.5 M155.1,106.8 155.7,108.3 156.6,107.7 155.7,109.0 156.3,110.1 155.6,109.5 155.1,108.3 155.1,106.8 M155.7,113.1 157.6,112.9 159.1,113.4 158.2,113.9 156.3,113.8 155.7,113.1 M159.4,110.5 161.2,110.0 163.0,110.5 163.4,112.5 164.2,113.5 166.7,111.7 169.1,111.9 171.5,112.7 174.6,113.6 175.8,114.1 177.4,115.6 178.8,116.8 179.8,117.7 179.2,118.6 180.7,120.2 182.5,121.7 183.5,122.0 181.9,122.0 179.5,121.7 178.2,120.3 176.4,119.0 175.2,118.9 174.3,119.6 174.0,120.7 171.5,120.6 169.7,119.4 167.9,119.7 167.5,118.6 168.9,118.0 167.9,116.2 165.5,115.0 163.6,114.4 161.8,114.4 161.6,113.5 160.6,112.9 162.4,112.5 162.9,112.2 161.2,112.2 159.4,111.2 159.4,110.5 M180.7,116.2 182.5,115.6 184.3,114.6 185.3,114.7 184.7,115.9 183.1,117.0 181.3,117.0 180.7,116.2 M183.5,112.7 184.9,113.5 186.1,115.0 185.8,114.4 184.3,113.1 183.5,112.7 M188.2,116.2 189.6,117.4 188.9,117.8 188.2,116.2 M194.1,120.8 195.6,121.4 194.7,121.5 194.1,120.8 M173.4,122.5 174.6,124.7 174.8,126.9 176.8,127.7 177.0,129.6 177.9,132.0 179.5,133.2 181.0,134.3 181.9,136.3 183.5,137.2 183.6,138.3 185.5,139.9 186.4,141.1 186.8,143.8 186.1,146.6 185.5,148.8 184.1,150.7 182.9,153.3 182.5,155.1 180.1,155.6 178.2,156.9 176.4,156.1 175.2,156.3 173.4,156.2 171.5,155.9 170.3,155.1 169.7,153.3 168.5,152.8 168.3,151.5 167.5,152.3 167.7,149.6 166.7,150.9 165.5,152.0 164.6,151.6 163.3,149.4 161.8,148.6 159.6,147.8 156.9,147.9 154.5,148.7 152.1,149.4 150.9,150.3 149.6,150.7 147.2,150.6 145.4,151.2 143.6,152.1 141.7,152.0 140.0,151.2 139.9,150.3 140.8,149.0 140.8,147.8 139.9,146.0 139.4,144.2 138.5,141.7 138.0,139.9 138.2,138.1 138.5,136.6 139.1,136.0 140.5,135.0 142.3,134.6 144.8,133.8 147.2,133.2 148.8,131.4 149.0,130.2 150.3,130.5 150.5,129.2 152.1,127.7 153.9,126.5 155.1,126.9 156.3,127.7 157.6,127.5 158.2,125.9 159.1,124.6 161.2,124.1 161.2,123.2 164.2,124.3 166.4,124.3 165.5,125.9 165.2,127.7 167.3,129.0 169.7,130.8 171.3,130.8 172.2,128.4 172.4,125.9 172.5,124.1 173.4,122.5 M176.1,159.0 178.2,159.5 180.3,159.1 180.4,160.6 179.8,162.1 178.2,162.5 177.0,161.6 176.4,160.4 176.1,159.0 M210.1,151.4 211.7,152.7 212.9,153.9 213.9,154.3 214.5,155.4 216.6,155.2 217.2,155.4 216.3,157.2 215.3,157.6 215.1,158.8 213.3,160.1 212.7,159.7 212.9,158.5 211.7,157.6 211.5,157.3 212.6,156.3 212.6,155.1 211.9,153.9 210.7,152.3 210.1,151.4 M210.1,158.8 211.9,159.6 211.7,160.5 210.2,162.1 210.5,162.8 208.4,163.4 208.0,164.9 206.8,165.8 205.0,166.2 202.6,165.5 203.8,164.0 205.0,163.0 207.4,161.8 208.7,160.6 209.3,159.4 210.1,158.8 M199.5,134.1 201.4,135.0 203.2,136.6 202.3,136.6 200.5,135.4 199.5,134.1 M60.0,124.1 61.1,127.7 60.5,129.6 60.1,131.4 59.0,135.0 57.8,138.7 57.2,139.9 55.4,140.5 53.5,139.9 52.9,138.1 52.7,136.3 53.9,133.8 53.5,131.4 54.1,129.2 56.0,128.6 57.8,127.1 59.0,125.9 60.0,124.1 M97.2,97.7 98.3,98.5 99.5,100.4 99.2,101.6 97.9,102.3 97.2,101.2 97.1,99.8 97.2,97.7 M15.2,63.3 16.4,63.1 18.9,63.0 18.5,64.5 18.2,64.8 16.4,64.2 15.2,63.6 15.2,63.3 M10.0,59.7 11.2,59.4 11.9,60.2 11.7,61.8 10.7,62.2 10.2,61.7 10.3,60.6 10.0,59.7 M10.5,58.0 11.4,57.2 11.6,58.4 11.2,59.1 10.6,58.8 10.5,58.0 M28.6,66.3 29.8,66.4 32.0,66.7 30.4,67.0 28.7,66.7 28.6,66.3 M39.3,66.9 40.1,66.6 42.1,66.2 41.2,66.9 40.1,67.4 39.3,66.9 M64.8,94.2 66.3,94.3 65.7,94.5 64.8,94.2 M233.6,29.7 236.0,28.8 238.7,28.5 241.1,29.0 239.1,27.7 236.0,26.4 239.1,25.3 242.1,24.0 247.5,22.8 253.1,23.4 257.9,23.8 262.8,24.3 266.4,24.8 271.3,25.5 273.8,24.9 278.6,24.3 282.3,23.7 285.9,24.3 287.1,25.1 290.8,24.6 295.6,25.5 298.1,26.8 302.9,27.0 306.6,26.8 306.6,28.0 309.0,26.4 313.9,26.8 318.8,27.0 320.6,26.8 321.8,24.9 320.8,23.1 323.0,21.9 325.5,23.7 326.7,24.9 327.9,26.2 330.9,27.4 332.1,26.2 334.0,24.7 338.2,24.7 339.1,26.2 338.2,28.0 335.2,29.0 333.4,29.2 332.1,30.4 330.9,31.4 328.5,31.9 325.5,33.5 323.6,35.3 322.7,37.7 325.1,40.1 328.5,40.1 332.1,41.4 334.6,42.2 337.9,42.5 338.2,45.0 340.1,47.1 340.9,47.2 342.1,45.6 341.9,43.8 341.3,42.8 343.7,42.0 344.7,40.8 344.3,38.9 342.7,37.7 343.7,36.5 343.1,34.7 343.1,33.6 346.1,33.7 348.6,34.1 351.0,35.0 352.8,35.3 353.4,37.1 355.3,38.3 357.7,38.0 359.3,36.1 360.7,37.7 362.6,39.5 363.2,41.4 365.0,42.6 368.0,43.8 369.9,45.3 370.1,46.5 366.8,47.2 365.0,48.3 361.3,48.3 357.2,48.4 354.7,49.9 352.8,51.7 351.6,52.4 353.4,51.7 355.9,50.1 358.9,49.6 359.8,50.1 358.3,51.1 359.2,52.3 360.1,53.3 362.6,53.7 363.8,54.0 364.5,52.3 365.2,53.5 363.2,54.5 360.7,55.2 358.3,56.5 357.5,55.7 359.5,54.4 357.7,54.5 356.2,55.1 354.0,56.0 352.6,56.5 351.9,57.5 352.8,58.6 351.3,59.0 349.2,59.4 348.0,60.1 347.7,61.4 346.7,62.2 346.4,63.3 345.5,64.5 346.0,65.9 346.1,66.7 344.7,67.3 343.1,68.3 341.6,69.1 339.7,70.6 339.0,72.4 339.9,74.8 340.7,76.9 340.3,78.7 339.3,79.0 338.5,77.6 337.3,75.7 337.3,74.2 335.8,73.0 334.0,73.2 332.1,72.5 330.3,72.6 329.1,72.8 329.4,74.0 327.9,74.0 326.1,73.5 323.6,73.5 322.4,74.0 320.6,75.1 319.6,76.3 319.6,78.1 319.1,80.3 319.0,82.4 319.7,84.2 321.0,86.1 322.4,86.9 323.6,87.4 325.5,86.9 327.3,86.4 327.9,84.6 328.3,83.9 330.3,83.3 332.1,83.3 331.5,85.2 331.3,87.0 330.7,88.2 330.0,90.0 331.5,90.3 333.4,90.2 335.2,90.3 336.7,91.2 336.4,93.1 336.2,94.9 336.2,96.1 337.0,97.3 338.0,98.5 339.4,98.8 340.9,98.1 342.5,98.1 344.0,99.0 344.6,99.8 346.1,96.7 347.0,96.0 349.2,95.5 351.0,94.4 351.0,96.1 352.8,94.8 354.7,96.4 357.1,96.6 359.5,97.1 362.0,96.5 363.8,97.9 365.0,99.2 366.8,101.0 368.6,102.2 371.1,102.2 373.5,102.8 375.3,104.0 375.9,105.8 377.2,107.7 377.2,109.5 379.0,110.1 380.2,110.4 383.2,111.3 384.5,112.5 386.9,112.9 389.3,113.0 391.2,114.0 393.0,115.2 395.1,115.8 395.5,118.0 395.4,120.4 393.6,122.3 392.4,123.9 391.2,125.3 390.5,127.7 390.5,130.2 389.7,132.0 389.1,134.2 388.1,136.3 386.9,137.5 385.4,137.5 383.6,137.8 381.7,138.7 379.6,140.3 378.9,141.7 378.9,144.2 377.2,146.0 375.3,148.2 374.1,149.6 372.9,150.9 371.2,152.0 369.6,152.0 367.7,151.4 366.9,150.9 368.3,152.4 368.6,153.7 368.0,155.7 366.2,156.6 363.2,156.9 362.2,156.7 362.3,158.8 360.7,159.6 358.9,159.1 358.9,160.6 360.5,161.2 358.9,161.8 358.6,164.2 355.9,165.5 357.7,166.7 357.9,167.7 355.9,169.1 354.0,170.9 354.7,173.1 355.0,174.0 356.5,175.8 358.7,176.1 357.1,176.7 354.7,177.0 352.2,176.4 350.4,175.4 348.6,174.0 347.1,172.8 346.4,170.3 346.1,167.9 347.4,166.7 346.0,166.3 348.0,164.2 349.2,162.4 349.4,160.6 348.2,160.4 348.3,158.2 348.8,156.3 348.6,154.8 349.4,153.3 350.4,151.5 350.9,149.6 351.0,147.2 351.1,145.4 351.3,143.6 351.9,141.1 352.2,138.7 352.3,137.5 352.6,135.0 352.5,132.0 351.0,130.5 348.6,129.3 346.5,128.1 345.2,126.5 344.2,124.2 342.9,121.7 341.9,119.5 340.8,117.8 339.2,116.8 339.1,115.0 340.2,113.8 340.7,112.5 339.4,112.2 339.7,110.7 340.5,109.5 340.7,108.4 341.9,107.7 342.4,106.5 343.7,105.2 343.8,103.4 343.8,101.6 343.2,100.7 342.9,99.8 342.5,98.5 341.3,98.7 340.3,99.4 340.7,100.4 339.4,100.6 338.6,99.8 337.3,99.5 336.4,99.2 336.2,98.3 334.8,97.6 333.7,97.3 333.6,96.1 332.1,94.3 331.5,93.7 330.0,93.4 327.9,92.7 325.8,91.9 324.2,90.3 323.0,89.8 321.2,90.4 318.8,89.9 316.5,89.1 313.9,87.7 311.5,86.4 309.6,85.2 309.9,83.3 309.0,81.5 306.6,79.1 305.0,77.9 303.6,76.0 301.5,74.2 300.5,72.4 298.7,70.9 298.3,72.4 299.9,74.2 301.1,76.0 302.3,77.9 303.6,79.7 304.8,81.3 303.8,80.9 301.7,79.4 301.4,77.9 299.5,76.8 298.1,75.7 299.1,74.8 297.5,73.2 296.3,71.2 295.5,70.0 293.8,68.1 291.3,67.5 289.8,65.1 289.0,63.5 287.4,61.4 286.8,60.3 286.9,58.4 286.5,57.2 287.1,54.7 287.1,53.2 286.3,50.6 288.3,50.9 289.0,52.0 288.6,49.9 286.5,48.7 284.1,47.7 282.5,46.8 282.3,45.6 280.4,44.4 279.5,43.2 278.0,42.0 276.2,40.1 274.4,38.6 271.9,38.6 270.1,37.7 267.7,36.9 264.6,36.5 262.2,36.3 259.8,35.5 257.3,36.5 255.5,37.4 253.3,37.5 253.7,35.9 255.5,35.0 253.1,35.9 251.2,37.1 250.0,38.6 247.6,40.1 245.2,41.4 242.7,42.2 239.7,42.9 237.5,43.1 240.3,42.0 242.7,41.1 245.2,39.8 246.4,38.2 244.5,38.2 241.5,38.1 240.9,36.7 238.5,36.5 236.9,35.8 236.0,34.3 236.6,33.5 237.9,32.6 241.5,32.2 242.1,31.0 239.7,31.0 237.2,31.0 235.4,30.4 233.6,29.7 M288.0,50.6 285.9,50.1 283.5,48.7 281.9,47.7 284.1,48.1 285.9,48.7 287.4,49.6 288.0,50.6 M278.0,46.0 277.0,45.0 276.2,43.8 277.6,43.8 277.6,45.0 278.0,46.0 M250.0,39.9 251.2,40.1 252.7,39.3 251.8,38.9 250.0,39.9 M233.0,44.8 234.2,44.5 235.4,43.9 234.2,44.3 233.0,44.8 M225.7,46.1 226.9,46.0 226.3,45.9 225.7,46.1 M222.0,46.6 223.3,46.5 222.6,46.2 222.0,46.6 M229.1,32.4 231.2,32.6 232.6,32.5 230.6,32.0 229.1,32.4 M234.5,36.5 236.0,36.7 236.4,36.1 235.1,36.0 234.5,36.5 M358.9,34.2 355.3,33.3 351.0,32.1 347.4,31.1 343.3,31.1 343.7,29.9 348.0,29.9 348.6,28.2 349.4,26.8 346.1,25.8 342.5,24.1 338.2,24.3 334.6,24.1 330.3,23.4 328.7,22.5 329.1,20.1 333.4,19.7 335.2,20.9 339.4,19.8 343.1,20.8 346.7,21.9 351.0,22.9 354.7,24.1 356.5,25.3 355.5,26.4 359.5,27.0 362.6,28.2 362.0,29.7 360.1,30.4 356.5,29.2 358.3,31.6 359.5,32.8 355.9,32.2 357.7,33.5 358.9,34.2 M296.3,25.2 299.9,26.0 304.2,25.9 309.0,25.7 313.9,25.5 314.5,24.7 310.9,23.5 310.9,22.5 306.6,21.3 306.0,20.4 301.7,20.9 298.7,20.3 295.0,21.7 293.2,22.5 296.9,22.8 294.1,24.0 296.3,25.2 M285.3,21.9 288.3,23.0 291.4,22.5 292.6,21.5 295.0,20.4 297.5,19.6 295.0,19.1 290.2,18.9 286.5,19.5 285.3,21.9 M340.7,16.7 343.1,15.8 346.1,14.0 349.2,12.8 355.3,11.6 362.6,9.7 358.9,8.8 350.4,8.4 340.7,8.5 332.1,9.4 327.3,10.3 332.1,11.6 333.4,12.8 332.1,14.0 330.9,15.2 334.6,15.8 340.7,16.7 M330.9,14.2 326.1,14.0 322.4,12.8 323.6,10.9 327.3,10.9 329.7,12.2 330.9,14.2 M340.7,18.2 335.8,18.9 329.7,18.7 326.1,18.2 326.1,16.5 329.7,16.4 335.8,16.7 340.7,17.3 340.7,18.2 M327.9,19.7 321.8,19.7 321.8,21.3 324.2,21.9 327.3,20.9 327.9,19.7 M320.0,19.7 315.1,19.7 313.3,20.9 316.3,22.5 320.0,22.1 320.0,19.7 M309.6,18.2 304.2,18.6 298.1,18.5 295.6,17.4 299.3,16.4 305.4,16.4 309.0,17.0 309.6,18.2 M319.4,18.0 315.1,18.2 312.1,17.0 316.3,16.1 319.4,16.8 319.4,18.0 M295.6,16.8 290.8,17.0 288.3,16.1 293.2,15.2 296.9,15.8 295.6,16.8 M317.5,14.7 311.5,14.4 309.6,13.1 316.3,12.8 318.8,13.6 317.5,14.7 M332.8,29.6 335.8,29.4 338.8,31.0 340.4,32.0 336.4,32.8 334.0,32.5 331.9,31.6 332.8,29.6 M316.9,25.5 320.0,26.2 322.2,25.5 320.6,24.5 316.9,25.5 M384.6,36.6 386.3,35.3 387.5,32.8 389.3,30.4 392.4,29.4 397.2,27.4 402.7,26.4 407.0,24.9 411.2,24.0 409.4,22.5 411.6,21.5 411.2,20.1 414.3,18.9 414.3,17.0 416.1,15.8 414.3,14.0 416.7,12.4 423.4,10.5 418.5,10.0 412.4,9.7 408.8,8.8 399.1,7.9 389.3,8.2 380.8,8.8 372.3,9.4 365.0,9.7 361.3,10.7 356.5,11.8 357.7,12.8 352.8,14.0 349.2,14.4 351.0,15.5 353.4,16.4 356.5,17.0 361.3,16.8 366.2,17.4 368.0,18.9 369.9,20.7 371.1,22.5 372.3,23.7 375.9,24.6 372.9,25.9 372.9,27.4 373.5,29.2 374.7,31.0 376.6,32.8 377.8,34.3 379.6,35.5 382.0,36.1 384.6,36.6 M365.9,51.6 368.0,51.6 370.5,52.4 372.3,52.6 373.5,52.7 373.9,51.7 372.9,50.5 372.5,49.5 370.5,48.9 369.9,48.1 370.5,46.8 368.6,47.4 367.7,48.9 366.8,50.1 365.9,51.6 M359.5,48.8 362.6,49.4 362.9,49.8 360.7,49.5 359.5,48.8 M359.9,52.6 362.6,53.0 362.0,53.5 359.9,52.6 M334.7,82.9 337.0,81.5 338.8,81.3 341.3,81.9 343.7,83.0 346.1,84.2 347.7,84.9 346.1,85.3 343.7,85.3 343.7,84.6 342.5,83.3 340.1,82.7 338.2,82.1 336.4,82.5 334.7,82.9 M347.5,87.1 349.8,87.4 351.0,88.0 352.8,87.2 354.8,87.1 354.0,86.1 352.2,85.4 350.4,85.3 348.8,85.3 349.4,86.4 349.9,86.9 347.5,86.9 347.5,87.1 M342.7,87.2 344.3,87.0 345.3,87.6 344.1,87.8 342.7,87.2 M356.2,87.1 358.1,87.1 357.9,87.6 356.2,87.6 356.2,87.1 M362.8,96.5 363.8,96.4 363.8,97.2 362.8,97.2 362.8,96.5 M363.8,172.2 366.2,171.9 367.7,172.3 366.2,173.1 364.4,173.0 363.8,172.2 M326.1,52.7 328.5,52.7 330.9,52.0 332.8,52.9 334.9,52.9 334.8,51.7 333.4,50.5 330.3,50.4 329.1,51.1 326.1,52.7 M331.5,58.8 332.8,58.4 333.0,56.6 333.4,55.0 334.6,53.9 332.8,53.8 331.5,54.7 331.2,56.6 331.2,57.8 331.5,58.8 M335.2,53.7 336.4,54.5 336.7,56.0 337.6,57.2 338.6,56.6 338.8,55.4 339.1,54.5 340.7,55.2 340.1,54.1 338.2,53.4 335.8,53.3 335.2,53.7 M336.5,58.6 338.2,59.0 340.7,58.2 342.0,57.4 340.1,57.7 337.6,58.4 336.5,58.6 M340.9,56.8 343.1,56.8 345.2,56.5 344.9,55.7 343.1,56.1 341.3,56.3 340.9,56.8 M320.2,48.2 320.8,46.8 319.4,45.6 318.2,44.4 317.5,45.0 318.8,46.2 319.4,47.4 320.2,48.2 M295.6,35.3 298.1,35.4 299.9,34.9 302.9,33.7 304.8,33.1 302.3,33.0 299.3,33.7 296.9,34.1 295.6,35.3 M285.9,30.2 289.0,30.7 292.0,30.4 294.4,29.2 292.6,28.1 289.6,28.2 287.1,29.0 285.9,30.2 M302.3,38.1 305.4,37.5 308.4,37.1 304.8,37.7 302.3,38.1 M352.8,128.4 353.7,128.4 354.3,129.3 353.4,129.2 352.8,128.4 M350.4,193.4 354.0,194.1 354.0,196.5 350.4,197.5 346.7,195.9 350.4,193.4 M202.7,127.5 203.4,128.5 202.9,128.6 202.7,127.5 M204.6,130.7 205.1,131.3 204.6,131.3 204.6,130.7 M215.7,130.9 217.2,130.8 217.2,131.6 215.8,131.5 215.7,130.9 M217.5,129.7 219.0,129.2 218.4,129.9 217.5,129.7 M248.2,86.3 249.4,85.8 248.3,84.9 248.2,86.3 M247.5,84.1 248.2,84.3 247.7,84.4 247.5,84.1 M245.5,83.3 246.1,83.6 245.8,83.6 245.5,83.3 M83.7,169.1 85.5,169.2 85.2,169.8 83.9,169.7 83.7,169.1 M391.8,175.2 394.2,175.8 393.6,176.2 391.8,175.2 M222.9,162.8 223.6,163.0 223.1,163.2 222.9,162.8 M16.4,93.1 17.6,93.1 17.6,93.9 16.8,93.9 16.4,93.1 M227.9,125.9 228.5,126.2 228.1,126.3 227.9,125.9 M326.8,110.2 327.4,110.0 327.3,110.7 326.8,110.2 M10.3,105.0 10.8,105.2 10.5,105.5 10.3,105.0 M320.6,18.2 324.2,18.2 324.2,17.5 321.8,17.5 320.6,18.2 M340.1,20.7 343.1,20.9 345.5,20.4 343.1,19.7 340.1,20.0 340.1,20.7 M318.8,14.8 321.8,14.7 321.2,13.7 319.4,13.6 318.8,14.8 M299.9,14.4 304.2,14.4 304.8,13.6 301.1,13.6 299.9,14.4 M299.3,15.3 303.6,15.5 304.2,14.7 300.5,14.6 299.3,15.3 M292.6,17.5 295.0,17.5 294.7,16.9 292.6,17.0 292.6,17.5 M310.2,18.2 312.1,18.2 311.7,17.8 310.2,17.8 310.2,18.2 M308.4,20.7 310.9,20.7 310.5,19.8 308.8,19.8 308.4,20.7 M343.7,27.4 346.1,27.5 346.4,26.6 344.3,26.5 343.7,27.4 M336.8,33.0 338.5,33.3 339.4,33.0 337.6,32.6 336.8,33.0 M340.1,34.6 341.5,34.3 341.3,33.7 340.3,33.7 340.1,34.6 M338.2,45.0 340.1,45.3 340.4,44.8 338.8,44.7 338.2,45.0 M309.0,15.6 311.5,15.7 311.2,15.0 309.3,15.0 309.0,15.6 M313.3,15.1 315.7,15.1 315.4,14.6 313.5,14.6 313.3,15.1 M316.3,12.4 318.8,12.4 318.2,11.8 316.6,11.9 316.3,12.4 M342.5,32.6 343.7,32.6 343.5,32.1 342.5,32.2 342.5,32.6 M371.3,24.9 373.5,25.2 374.7,24.6 372.9,24.0 371.3,24.3 371.3,24.9 M58.8,25.5 60.2,25.9 61.2,25.4 60.0,24.9 58.8,25.5 M71.2,24.6 73.2,24.7 73.4,24.0 71.8,23.7 71.2,24.6 M121.1,14.6 125.3,14.8 127.7,14.2 124.7,13.4 121.7,13.6 121.1,14.6 M84.6,20.3 87.0,20.7 86.7,20.1 85.2,20.0 84.6,20.3 M166.7,17.6 169.1,18.5 171.5,18.2 170.9,17.2 167.9,16.9 166.7,17.6 M177.0,56.2 178.0,55.5 177.5,56.0 177.0,56.2 M178.8,55.1 180.7,54.3 180.1,54.6 178.8,55.1 M185.9,52.3 186.4,51.8 186.0,52.1 185.9,52.3 M189.2,48.7 190.0,47.9 189.6,48.4 189.2,48.7 M198.8,38.2 199.9,37.5 199.4,38.1 198.8,38.2 M342.7,77.1 344.0,77.3 343.3,77.5 342.7,77.1 M343.1,79.3 343.6,80.1 343.2,79.9 343.1,79.3 M2.9,61.3 4.1,61.0 3.9,61.6 2.9,61.3 M47.7,116.6 48.1,117.2 47.8,117.3 47.7,116.6 M52.7,123.6 52.9,124.0 52.6,123.9 52.7,123.6 M67.3,134.9 67.9,135.3 67.4,135.4 67.3,134.9 M69.8,134.0 70.3,134.2 70.0,134.4 69.8,134.0 M0.0,196.9 14.8,195.3 30.5,194.4 46.4,193.4 62.0,189.6 68.4,190.2 84.2,191.3 85.8,195.0 93.6,192.8 109.4,191.3 125.2,189.6 137.8,189.6 156.7,190.2 169.4,190.2 179.0,192.4 191.3,194.2 203.5,195.5 207.0,198.3 197.5,201.6 195.4,206.5 203.5,209.8 220.0,210.6 240.5,211.5 257.0,213.0 259.0,209.8 250.8,206.5 244.5,204.9 252.8,203.7 261.0,202.5 277.4,199.7 289.7,198.3 302.0,199.7 314.4,197.5 326.7,196.7 343.0,196.7 347.2,194.2 353.3,191.4 361.5,187.2 369.7,185.2 363.5,189.3 359.5,193.4 357.5,199.7 363.5,202.5 375.9,204.9 392.3,204.9 408.7,201.6 425.1,196.7 438.0,195.8" fill="none" stroke="#000" stroke-width="0.85" stroke-linejoin="round"/>
<path d="M-1,0.5 H437.5 V219.0 H0 V0.5" fill="none" stroke="#333" stroke-width="1"/>
</g>
<g transform="translate(1.0,603.0)">
<g clip-path="url(#clip)">
<rect x="0.0" y="0.0" width="438.0" height="219.0" fill="#f5e6be"/>
<path d="M-3.0,13.6 C-0.9,11.6 8.7,13.2 13.0,13.4 C17.3,13.6 24.2,15.1 29.0,15.0 C33.9,15.0 44.3,12.8 49.1,13.0 C53.9,13.3 60.6,16.8 65.1,17.0 C69.6,17.3 78.6,15.2 83.1,15.0 C87.7,14.9 95.4,16.0 99.2,16.0 C102.9,16.0 107.4,14.9 111.2,15.0 C114.9,15.2 125.1,14.6 127.2,17.0 C129.3,19.4 128.3,30.5 127.2,33.1 C126.1,35.6 121.3,35.5 119.2,36.1 C117.1,36.6 113.3,37.2 111.2,37.1 C109.0,36.9 105.3,34.7 103.2,35.1 C101.0,35.5 97.3,38.9 95.2,40.1 C93.0,41.2 89.3,42.8 87.1,43.5 C85.0,44.1 81.5,44.7 79.1,45.1 C76.7,45.4 71.5,46.1 69.1,46.1 C66.7,46.1 62.4,44.7 61.1,45.1 C59.8,45.4 60.3,47.9 59.1,48.7 C57.9,49.4 53.7,50.9 52.1,50.7 C50.5,50.5 48.2,48.3 47.1,47.1 C45.9,45.9 44.4,42.8 43.5,41.5 C42.5,40.1 41.2,37.9 40.1,37.1 C38.9,36.2 35.5,36.0 35.1,35.1 C34.7,34.1 37.3,31.1 37.1,30.1 C36.8,29.0 34.7,27.2 33.1,27.0 C31.5,26.9 26.9,29.1 25.0,29.1 C23.2,29.1 20.6,27.6 19.0,27.0 C17.4,26.5 14.6,25.0 13.0,25.0 C11.4,25.0 9.1,26.6 7.0,27.0 C4.9,27.5 -1.7,30.4 -3.0,28.7 C-4.3,26.9 -5.1,15.7 -3.0,13.6Z" fill="#deb887"/>
<path d="M68.4,25.2 C70.5,22.5 80.7,24.9 84.1,24.6 C87.6,24.4 92.0,23.4 94.2,23.3 C96.4,23.3 98.9,23.5 100.5,24.0 C102.2,24.5 105.3,26.5 106.9,27.1 C108.4,27.7 110.2,28.4 111.9,28.4 C113.6,28.4 117.1,27.5 119.5,27.1 C121.8,26.7 126.9,25.7 129.6,25.2 C132.3,24.8 137.0,24.2 139.7,24.0 C142.4,23.7 148.4,20.5 149.8,23.3 C151.1,26.2 160.6,42.5 149.8,45.4 C138.9,48.4 79.2,48.1 68.4,45.4 C57.5,42.7 66.3,28.0 68.4,25.2Z" fill="#deb887"/>
<path d="M9.7,62.1 C10.3,61.3 13.5,60.6 15.4,60.8 C17.3,61.1 22.8,63.0 24.2,64.0 C25.7,65.0 26.1,67.3 26.1,68.4 C26.1,69.5 25.2,71.7 24.2,72.2 C23.3,72.7 20.5,72.5 19.2,72.2 C17.8,71.9 15.2,70.4 14.1,69.7 C13.0,68.9 11.6,67.5 11.0,66.5 C10.4,65.5 9.1,62.9 9.7,62.1Z" fill="#deb887"/>
<path d="M90.5,59.6 C91.8,59.0 97.5,60.0 100.5,60.2 C103.6,60.4 110.3,61.2 113.2,61.1 C116.0,61.0 119.8,59.9 122.0,59.3 C124.2,58.7 127.2,57.4 129.6,56.8 C131.9,56.2 137.0,55.4 139.7,55.2 C142.4,54.9 148.4,54.2 149.8,54.8 C151.1,55.4 151.1,58.8 149.8,59.6 C148.4,60.3 142.0,59.9 139.7,60.2 C137.3,60.5 134.1,61.1 132.1,61.5 C130.1,61.8 126.5,62.3 124.5,62.7 C122.5,63.1 118.8,64.5 116.9,64.6 C115.1,64.8 112.0,64.3 110.6,64.0 C109.3,63.7 108.2,62.1 106.9,62.1 C105.5,62.1 102.2,63.5 100.5,64.0 C98.9,64.5 95.6,65.8 94.2,65.9 C92.9,66.0 91.0,65.5 90.5,64.6 C89.9,63.8 89.1,60.2 90.5,59.6Z" fill="#deb887"/>
<path d="M138.4,20.2 C140.1,14.9 149.0,20.5 151.6,20.8 C154.2,21.2 155.4,22.6 157.9,22.7 C160.5,22.8 167.2,21.4 170.5,21.5 C173.9,21.5 179.8,22.9 183.2,23.3 C186.5,23.8 192.6,24.3 195.8,24.6 C199.0,24.9 204.6,25.5 207.1,25.9 C209.7,26.2 213.1,26.6 214.7,27.1 C216.3,27.6 219.0,29.0 219.0,29.7 C219.0,30.3 216.3,31.6 214.7,32.2 C213.1,32.8 208.8,33.5 207.1,34.1 C205.5,34.7 202.4,35.6 202.1,36.6 C201.8,37.6 205.0,40.5 204.6,41.6 C204.3,42.8 201.1,44.6 199.6,45.4 C198.1,46.3 194.9,47.5 193.3,47.9 C191.6,48.4 188.5,48.7 186.9,48.6 C185.4,48.4 182.9,47.4 181.9,46.7 C180.9,45.9 180.4,43.6 179.4,42.9 C178.4,42.2 175.8,41.6 174.3,41.6 C172.8,41.6 169.4,42.4 168.0,42.9 C166.7,43.4 164.4,44.4 164.2,45.4 C164.1,46.4 166.8,49.1 166.8,50.5 C166.8,51.8 165.4,54.5 164.2,55.5 C163.1,56.5 159.6,57.4 157.9,58.0 C156.2,58.7 154.2,60.2 151.6,60.6 C149.0,60.9 140.1,66.0 138.4,60.6 C136.6,55.2 136.6,25.5 138.4,20.2Z" fill="#deb887"/>
<path d="M208.4,25.9 C209.5,24.7 214.5,25.1 216.6,25.2 C218.7,25.4 223.0,26.5 224.1,27.1 C225.3,27.8 226.1,29.6 225.4,30.3 C224.7,31.0 220.8,31.7 219.1,32.2 C217.4,32.7 214.2,33.8 212.8,34.1 C211.4,34.3 209.0,35.2 208.4,34.1 C207.8,33.0 207.3,27.0 208.4,25.9Z" fill="#deb887"/>
<path d="M238.7,27.1 C239.0,26.4 244.1,25.5 246.9,25.2 C249.6,25.0 256.1,25.2 259.5,25.2 C262.8,25.3 269.1,26.0 272.1,25.9 C275.1,25.8 279.8,24.9 282.2,24.6 C284.5,24.3 288.7,19.6 289.8,23.3 C290.8,27.1 290.4,49.0 289.8,53.0 C289.1,57.0 286.1,53.7 284.7,53.0 C283.4,52.3 280.7,49.6 279.7,47.9 C278.7,46.3 277.8,42.1 277.1,40.4 C276.5,38.6 276.3,35.8 274.6,34.7 C272.9,33.6 267.4,32.6 264.5,32.2 C261.7,31.8 255.9,31.7 253.2,31.5 C250.5,31.4 246.3,31.5 244.3,30.9 C242.4,30.3 238.3,27.9 238.7,27.1Z" fill="#deb887"/>
<path d="M278.4,22.7 C280.1,20.4 288.2,23.6 291.6,24.0 C295.1,24.3 300.9,24.8 304.2,25.2 C307.6,25.7 313.5,26.7 316.9,27.1 C320.2,27.5 326.1,28.0 329.5,28.4 C332.8,28.8 338.1,29.4 342.1,30.3 C346.1,31.1 357.4,31.7 359.8,34.7 C362.1,37.7 362.1,50.6 359.8,53.0 C357.4,55.4 346.1,52.8 342.1,53.0 C338.1,53.2 332.8,53.9 329.5,54.3 C326.1,54.6 320.2,55.5 316.9,55.5 C313.5,55.5 306.4,54.9 304.2,54.3 C302.0,53.6 301.8,51.7 300.5,50.5 C299.1,49.3 296.0,46.6 294.1,45.4 C292.3,44.2 288.7,42.1 286.6,41.6 C284.5,41.1 279.5,44.2 278.4,41.6 C277.3,39.1 276.6,25.1 278.4,22.7Z" fill="#deb887"/>
<path d="M348.3,52.5 C349.1,51.7 353.4,52.3 354.7,52.8 C355.9,53.3 357.7,55.2 357.5,56.1 C357.3,57.0 354.5,59.2 353.3,59.6 C352.0,60.0 349.0,59.9 348.3,58.9 C347.6,58.0 347.4,53.3 348.3,52.5Z" fill="#deb887"/>
<path d="M157.9,72.8 C158.1,72.1 162.4,71.0 164.2,70.9 C166.1,70.8 170.3,71.7 171.8,72.2 C173.3,72.7 175.8,74.1 175.6,74.7 C175.4,75.3 172.2,76.4 170.5,76.6 C168.9,76.9 164.7,77.1 163.0,76.6 C161.3,76.1 157.8,73.6 157.9,72.8Z" fill="#deb887"/>
<path d="M210.3,72.8 C210.3,72.0 213.4,70.8 214.7,70.3 C216.0,69.8 219.1,68.1 219.8,69.0 C220.4,70.0 220.4,76.2 219.8,77.2 C219.1,78.2 216.0,77.2 214.7,76.6 C213.4,76.0 210.3,73.7 210.3,72.8Z" fill="#deb887"/>
<path d="M151.0,51.4 C152.0,50.8 158.9,50.9 159.8,51.4 C160.7,51.9 158.9,54.6 157.9,55.2 C156.9,55.7 153.2,56.3 152.2,55.8 C151.3,55.3 150.0,52.0 151.0,51.4Z" fill="#deb887"/>
<path d="M256.9,73.5 C256.9,72.1 260.3,69.7 262.0,68.4 C263.7,67.1 267.5,65.3 269.6,64.0 C271.6,62.6 275.5,60.0 277.1,58.3 C278.8,56.6 280.5,52.3 282.2,51.4 C283.9,50.4 288.7,47.3 289.8,51.4 C290.8,55.4 291.1,77.6 289.8,81.7 C288.4,85.7 282.4,81.7 279.7,81.7 C277.0,81.6 271.9,81.4 269.6,81.0 C267.2,80.6 263.7,79.5 262.0,78.5 C260.3,77.5 256.9,74.8 256.9,73.5Z" fill="#deb887"/>
<path d="M210.3,72.8 C210.4,72.0 213.6,69.7 215.3,69.0 C217.0,68.4 220.9,67.6 222.9,67.8 C224.9,67.9 229.0,69.6 230.5,70.3 C231.9,71.0 233.9,72.4 233.6,73.2 C233.3,74.0 229.7,75.5 227.9,76.0 C226.2,76.4 222.2,76.7 220.4,76.6 C218.5,76.5 215.4,75.8 214.0,75.3 C212.7,74.8 210.1,73.7 210.3,72.8Z" fill="#deb887"/>
<path d="M278.4,51.4 C289.2,47.2 348.9,50.3 359.8,51.4 C370.6,52.5 360.4,58.0 359.8,59.6 C359.1,61.2 356.1,62.7 354.7,63.4 C353.4,64.0 351.0,63.8 349.7,64.6 C348.3,65.5 346.0,68.6 344.6,69.7 C343.3,70.8 340.9,72.3 339.6,72.8 C338.2,73.3 335.9,73.5 334.5,73.5 C333.2,73.4 331.0,72.2 329.5,72.2 C328.0,72.2 324.5,72.9 323.2,73.5 C321.8,74.0 320.2,75.2 319.4,76.0 C318.5,76.7 318.4,78.9 316.9,79.1 C315.3,79.4 310.5,77.9 308.0,77.9 C305.5,77.9 300.5,78.6 297.9,79.1 C295.4,79.6 291.7,81.1 289.1,81.7 C286.5,82.2 279.8,87.0 278.4,82.9 C276.9,78.9 267.5,55.6 278.4,51.4Z" fill="#deb887"/>
<path d="M3.0,137.7 C3.5,137.2 7.4,136.9 9.0,137.1 C10.6,137.2 14.5,138.5 15.0,139.1 C15.6,139.6 14.4,140.9 13.0,141.1 C11.7,141.2 6.3,140.9 5.0,140.5 C3.7,140.0 2.5,138.1 3.0,137.7Z" fill="#deb887"/>
<path d="M121.0,139.1 C121.6,138.1 126.6,136.7 129.0,136.1 C131.4,135.4 136.4,135.0 139.0,134.1 C141.7,133.1 146.1,129.8 149.1,129.0 C152.0,128.2 157.9,127.9 161.1,128.0 C164.3,128.2 169.9,129.5 173.1,130.0 C176.3,130.6 182.2,131.4 185.1,132.0 C188.1,132.7 192.7,133.9 195.1,135.1 C197.5,136.3 202.6,139.5 203.2,141.1 C203.7,142.7 201.0,145.9 199.1,147.1 C197.3,148.3 191.8,149.3 189.1,150.1 C186.5,150.9 181.8,152.6 179.1,153.1 C176.4,153.6 171.8,153.8 169.1,153.7 C166.4,153.5 161.8,152.2 159.1,152.1 C156.4,152.0 151.7,153.3 149.1,153.1 C146.4,152.8 141.7,150.7 139.0,150.1 C136.4,149.4 130.9,149.0 129.0,148.1 C127.2,147.1 126.1,144.3 125.0,143.1 C124.0,141.9 120.5,140.0 121.0,139.1Z" fill="#deb887"/>
<path d="M1.0,19.0 C2.1,18.4 6.9,17.9 9.0,18.0 C11.2,18.2 16.2,19.2 17.0,20.0 C17.8,20.8 16.4,23.5 15.0,24.0 C13.7,24.6 8.9,24.2 7.0,24.0 C5.1,23.9 1.8,23.7 1.0,23.0 C0.2,22.4 -0.1,19.7 1.0,19.0Z" fill="#f5e6be"/>
<path d="M29.0,13.6 C31.1,12.9 41.9,12.9 46.3,12.8 C50.7,12.7 59.5,12.6 62.0,13.0 C64.5,13.4 65.6,15.0 65.2,15.6 C64.8,16.2 61.5,17.1 59.0,17.5 C56.5,17.9 50.1,18.2 46.3,18.3 C42.5,18.4 32.8,18.9 30.5,18.3 C28.2,17.7 26.9,14.3 29.0,13.6Z" fill="#f5e6be"/>
<path d="M68.4,12.6 C69.8,11.0 75.6,14.6 79.1,15.1 C82.5,15.7 90.5,16.7 94.2,17.0 C97.9,17.4 103.5,17.7 106.9,17.7 C110.2,17.7 116.1,17.0 119.5,17.0 C122.8,17.0 128.1,17.4 132.1,17.7 C136.1,17.9 147.4,18.2 149.8,18.9 C152.1,19.7 151.1,22.7 149.8,23.3 C148.4,24.0 142.4,23.7 139.7,24.0 C137.0,24.2 132.3,24.8 129.6,25.2 C126.9,25.7 121.8,26.7 119.5,27.1 C117.1,27.5 113.6,28.4 111.9,28.4 C110.2,28.4 108.4,27.7 106.9,27.1 C105.3,26.5 102.2,24.5 100.5,24.0 C98.9,23.5 96.4,23.3 94.2,23.3 C92.0,23.4 86.5,24.2 84.1,24.6 C81.8,25.0 78.7,26.2 76.6,26.5 C74.5,26.8 69.5,29.0 68.4,27.1 C67.3,25.3 66.9,14.2 68.4,12.6Z" fill="#f5e6be"/>
<path d="M347.1,36.0 C348.7,33.9 358.1,32.1 359.8,35.3 C361.4,38.6 361.1,57.2 359.8,60.6 C358.4,63.9 351.3,61.9 349.7,60.6 C348.1,59.2 348.1,53.8 347.8,50.5 C347.4,47.2 345.5,38.0 347.1,36.0Z" fill="#f5e6be"/>
<path d="M328.0,27.0 C329.7,24.9 337.4,25.8 341.0,26.0 C344.6,26.3 351.3,27.6 355.0,29.1 C358.8,30.5 367.7,34.9 369.1,37.1 C370.4,39.2 366.7,43.5 365.1,45.1 C363.5,46.7 358.9,47.7 357.0,49.1 C355.2,50.4 352.1,53.2 351.0,55.1 C350.0,57.0 350.4,62.8 349.0,63.1 C347.7,63.4 342.6,59.2 341.0,57.1 C339.4,55.0 338.6,49.1 337.0,47.1 C335.4,45.1 330.2,42.7 329.0,42.1 C327.8,41.4 328.1,44.1 328.0,42.1 C327.9,40.1 326.3,29.2 328.0,27.0Z" fill="#f5e6be"/>
<path d="M-1.0,9.0 C8.3,8.5 58.3,9.0 69.0,9.0 C79.7,9.0 29.8,9.3 79.0,9.3 C128.2,9.3 390.1,8.8 438.0,9.3 C485.9,9.8 449.9,12.5 438.0,13.0 C426.1,13.5 367.5,13.1 349.0,13.0 C330.5,12.9 319.0,11.9 299.0,12.0 C279.0,12.1 220.3,13.5 199.0,14.0 C177.7,14.5 152.3,15.7 139.0,16.0 C125.7,16.3 108.3,16.5 99.0,16.0 C89.7,15.5 82.3,13.0 69.0,12.5 C55.7,12.0 8.3,13.0 -1.0,12.5 C-10.3,12.0 -10.3,9.5 -1.0,9.0Z" fill="#9abe32"/>
<path d="M1.4,28.5 C2.4,27.7 6.1,26.4 8.5,26.2 C10.9,26.0 17.9,26.1 19.5,26.7 C21.1,27.3 20.5,29.6 20.3,30.9 C20.1,32.2 18.8,35.1 17.9,36.4 C17.0,37.7 14.7,39.7 13.2,40.4 C11.7,41.1 8.2,42.0 6.9,41.5 C5.6,41.0 4.5,37.6 3.7,36.4 C2.9,35.2 1.2,33.6 0.9,32.5 C0.6,31.4 0.4,29.3 1.4,28.5Z" fill="#9abe32"/>
<path d="M11.4,46.1 C11.8,45.2 15.1,44.2 17.0,44.1 C19.0,43.9 24.7,44.4 26.0,45.1 C27.4,45.7 27.7,48.2 27.0,49.1 C26.4,49.9 22.8,51.3 21.0,51.5 C19.3,51.7 15.3,51.4 14.0,50.7 C12.7,50.0 11.0,47.0 11.4,46.1Z" fill="#9abe32"/>
<path d="M77.8,9.5 C87.3,9.0 140.2,8.5 149.8,9.5 C159.3,10.5 152.1,16.1 149.8,17.0 C147.4,18.0 136.1,16.8 132.1,16.7 C128.1,16.5 122.8,16.2 119.5,16.2 C116.1,16.2 110.2,16.7 106.9,16.7 C103.5,16.7 97.3,16.4 94.2,16.2 C91.2,15.9 86.2,15.0 84.1,14.5 C82.1,14.0 79.9,13.3 79.1,12.6 C78.3,11.9 68.4,9.9 77.8,9.5Z" fill="#9abe32"/>
<path d="M12.9,64.6 C13.7,65.3 21.7,68.6 24.2,69.7 C26.8,70.8 30.0,71.8 31.8,72.8 C33.7,73.8 36.8,75.6 38.1,77.2 C39.5,78.8 41.3,83.0 41.9,84.8 C42.5,86.7 42.8,89.6 42.5,91.1 C42.3,92.6 40.8,94.8 40.0,96.2 C39.3,97.5 37.4,99.9 36.9,101.2 C36.4,102.6 36.1,104.7 36.2,106.3 C36.4,107.8 40.6,111.7 38.1,112.6 C35.7,113.4 20.6,119.0 17.9,112.6 C15.2,106.2 18.6,71.0 17.9,64.6 C17.3,58.2 12.0,63.9 12.9,64.6Z" fill="#9abe32"/>
<path d="M138.4,9.5 C149.2,8.7 208.9,7.4 219.8,9.5 C230.6,11.5 220.4,22.7 219.8,24.6 C219.1,26.5 217.1,24.3 214.7,24.0 C212.4,23.6 205.5,22.8 202.1,22.1 C198.7,21.4 192.8,19.7 189.5,18.9 C186.1,18.2 180.2,16.8 176.9,16.4 C173.5,16.0 167.6,15.8 164.2,15.8 C160.9,15.8 155.1,16.5 151.6,16.4 C148.2,16.3 140.1,16.1 138.4,15.1 C136.6,14.2 127.5,10.2 138.4,9.5Z" fill="#9abe32"/>
<path d="M181.9,60.6 C177.9,59.9 187.1,56.7 189.5,55.5 C191.8,54.3 196.9,52.6 199.6,51.7 C202.3,50.9 207.0,49.8 209.7,49.2 C212.4,48.6 218.4,45.8 219.8,47.3 C221.1,48.8 224.8,58.8 219.8,60.6 C214.7,62.3 185.9,61.2 181.9,60.6Z" fill="#9abe32"/>
<path d="M221.6,50.5 C222.1,48.5 224.1,46.8 225.4,45.4 C226.7,44.1 230.0,41.4 231.7,40.4 C233.4,39.4 236.3,37.9 238.0,37.9 C239.7,37.9 242.6,39.8 244.3,40.4 C246.0,41.0 248.6,42.1 250.6,42.3 C252.7,42.4 257.5,42.1 259.5,41.6 C261.5,41.1 264.4,39.2 265.8,38.5 C267.1,37.8 268.6,36.3 269.6,36.6 C270.6,36.8 272.5,39.0 273.4,40.4 C274.2,41.7 275.7,45.0 275.9,46.7 C276.0,48.4 275.5,51.7 274.6,53.0 C273.8,54.3 271.3,55.8 269.6,56.8 C267.9,57.8 268.4,60.1 262.0,60.6 C255.6,61.1 227.0,61.9 221.6,60.6 C216.2,59.2 221.1,52.5 221.6,50.5Z" fill="#9abe32"/>
<path d="M286.6,16.4 C287.7,15.6 294.7,13.4 297.9,12.6 C301.1,11.9 307.2,11.1 310.5,10.7 C313.9,10.3 319.8,9.7 323.2,9.5 C326.5,9.2 330.9,8.8 335.8,8.6 C340.7,8.4 356.6,6.8 359.8,7.8 C363.0,8.9 360.4,15.1 359.8,16.4 C359.1,17.7 356.1,17.3 354.7,17.7 C353.4,18.0 349.7,18.1 349.7,18.9 C349.7,19.8 353.4,23.0 354.7,24.0 C356.1,25.0 359.1,25.2 359.8,26.5 C360.4,27.8 360.4,33.2 359.8,34.1 C359.1,34.9 356.4,33.3 354.7,32.8 C353.0,32.3 349.2,30.8 347.1,30.3 C345.1,29.8 341.6,29.4 339.6,29.0 C337.5,28.6 333.8,27.6 332.0,27.1 C330.1,26.6 327.4,25.7 325.7,25.2 C324.0,24.8 321.1,24.4 319.4,24.0 C317.7,23.6 314.6,22.6 313.1,22.1 C311.6,21.6 310.0,20.6 308.0,20.2 C306.0,19.8 300.5,19.1 297.9,18.9 C295.4,18.8 290.6,19.3 289.1,18.9 C287.6,18.6 285.4,17.2 286.6,16.4Z" fill="#9abe32"/>
<path d="M278.4,15.1 C279.5,14.6 285.3,15.3 286.6,15.8 C287.8,16.3 288.3,18.3 287.8,18.9 C287.3,19.6 284.0,20.7 282.8,20.8 C281.5,21.0 279.0,20.9 278.4,20.2 C277.8,19.4 277.3,15.7 278.4,15.1Z" fill="#9abe32"/>
<path d="M368.9,42.6 C369.4,41.1 374.7,39.1 377.4,38.3 C380.0,37.6 386.1,37.7 388.8,36.9 C391.4,36.2 395.0,33.8 397.3,32.7 C399.5,31.5 403.9,29.5 405.8,28.4 C407.7,27.3 410.0,25.1 411.5,24.1 C413.0,23.2 415.6,21.1 417.1,21.3 C418.7,21.5 420.0,24.6 422.8,25.6 C425.7,26.5 436.4,24.2 438.4,28.4 C440.5,32.6 439.8,52.6 438.4,56.8 C437.1,61.0 431.0,58.9 428.5,59.6 C426.0,60.4 422.3,61.3 420.0,62.5 C417.7,63.6 419.8,67.4 411.5,68.1 C403.1,68.9 364.0,68.9 357.5,68.1 C351.1,67.4 361.3,64.0 363.2,62.5 C365.1,61.0 370.4,58.5 371.7,56.8 C373.0,55.1 373.5,51.6 373.1,49.7 C372.8,47.8 368.3,44.1 368.9,42.6Z" fill="#9abe32"/>
<path d="M411.5,7.8 C415.1,7.0 434.8,7.0 438.4,7.8 C442.0,8.7 439.8,13.4 438.4,14.2 C437.1,15.0 431.0,13.3 428.5,13.5 C426.0,13.7 421.9,15.0 420.0,15.6 C418.1,16.3 415.4,18.6 414.3,18.5 C413.2,18.3 411.8,15.6 411.5,14.2 C411.1,12.8 407.9,8.7 411.5,7.8Z" fill="#9abe32"/>
<path d="M348.3,21.3 C349.5,19.8 355.5,20.8 357.5,21.3 C359.5,21.8 362.6,23.6 363.2,24.8 C363.8,26.1 362.7,29.4 361.8,30.5 C360.8,31.7 357.9,33.1 356.1,33.4 C354.3,33.6 349.3,34.3 348.3,32.7 C347.2,31.0 347.1,22.8 348.3,21.3Z" fill="#9abe32"/>
<path d="M180.6,60.8 C180.9,59.8 182.9,57.4 184.4,56.4 C185.9,55.4 189.6,53.9 192.0,53.3 C194.4,52.6 198.4,51.6 202.1,51.4 C205.8,51.1 217.4,50.1 219.8,51.4 C222.1,52.6 221.1,59.3 219.8,60.8 C218.4,62.3 212.4,62.2 209.7,62.7 C207.0,63.2 202.3,64.2 199.6,64.6 C196.9,65.0 191.7,66.0 189.5,65.9 C187.2,65.8 183.7,64.7 182.5,64.0 C181.4,63.3 180.4,61.8 180.6,60.8Z" fill="#9abe32"/>
<path d="M151.6,84.2 C153.3,83.8 160.9,84.9 164.2,84.8 C167.6,84.7 174.5,84.2 176.9,83.5 C179.2,82.9 179.9,80.3 181.9,79.8 C183.9,79.2 189.3,79.0 192.0,79.1 C194.7,79.2 199.7,79.8 202.1,80.4 C204.4,81.0 207.3,82.9 209.7,83.5 C212.0,84.2 218.4,84.2 219.8,85.1 C221.1,85.9 221.1,89.2 219.8,89.9 C218.4,90.5 212.4,90.1 209.7,89.9 C207.0,89.6 202.3,88.4 199.6,88.0 C196.9,87.5 192.0,86.6 189.5,86.7 C186.9,86.8 182.8,88.0 180.6,88.6 C178.5,89.2 175.3,90.9 173.1,91.1 C170.9,91.4 166.4,90.8 164.2,90.5 C162.0,90.1 158.3,89.0 156.7,88.6 C155.0,88.2 152.3,87.9 151.6,87.3 C150.9,86.7 149.9,84.5 151.6,84.2Z" fill="#9abe32"/>
<path d="M146.6,59.6 C147.2,58.5 151.5,58.5 152.9,58.9 C154.2,59.4 156.5,61.8 156.7,62.7 C156.8,63.7 154.3,64.8 154.1,65.9 C154.0,67.0 155.7,69.4 155.4,70.9 C155.1,72.4 152.0,75.6 151.6,77.2 C151.3,78.9 153.1,83.0 152.9,83.5 C152.6,84.1 150.4,82.8 149.7,81.7 C149.1,80.5 148.0,76.6 147.8,74.7 C147.7,72.8 148.6,69.2 148.5,67.1 C148.3,65.1 146.0,60.7 146.6,59.6Z" fill="#9abe32"/>
<path d="M208.4,51.4 C217.9,50.0 270.8,51.1 279.7,51.4 C288.5,51.7 276.5,52.7 274.6,53.5 C272.8,54.3 268.6,56.2 265.8,57.3 C262.9,58.4 256.5,61.0 253.2,61.8 C249.8,62.7 244.8,63.5 240.5,63.6 C236.3,63.7 225.9,62.6 221.6,62.3 C217.3,62.1 210.1,63.3 208.4,61.8 C206.6,60.4 198.9,52.8 208.4,51.4Z" fill="#9abe32"/>
<path d="M208.4,83.5 C209.5,82.8 214.3,84.3 216.6,84.2 C218.8,84.1 223.2,83.4 225.4,82.9 C227.6,82.4 231.0,80.9 233.0,80.4 C235.0,79.9 238.7,79.0 240.5,79.1 C242.4,79.3 245.2,81.0 246.9,81.7 C248.5,82.3 251.1,83.6 253.2,84.2 C255.2,84.8 259.5,85.7 262.0,86.1 C264.5,86.4 268.4,86.7 272.1,86.7 C275.8,86.7 287.4,85.5 289.8,86.1 C292.1,86.7 291.4,90.4 289.8,91.1 C288.1,91.8 280.2,91.3 277.1,91.1 C274.1,90.9 269.7,90.2 267.0,89.9 C264.4,89.5 259.6,89.0 256.9,88.6 C254.3,88.2 249.2,86.9 246.9,86.7 C244.5,86.5 241.3,87.0 239.3,87.3 C237.3,87.7 234.1,88.8 231.7,89.2 C229.4,89.6 224.7,90.4 221.6,90.5 C218.5,90.6 210.1,90.8 208.4,89.9 C206.6,88.9 207.3,84.3 208.4,83.5Z" fill="#9abe32"/>
<path d="M278.4,86.7 C280.1,85.9 288.7,85.6 291.6,85.1 C294.6,84.6 298.6,83.7 300.5,82.9 C302.3,82.1 304.0,79.7 305.5,79.1 C307.0,78.5 310.3,78.3 311.8,78.5 C313.3,78.7 315.7,79.5 316.9,80.4 C318.0,81.2 319.5,83.9 320.6,84.8 C321.8,85.7 324.2,87.2 325.7,87.3 C327.2,87.5 330.8,85.9 332.0,86.1 C333.2,86.2 334.9,87.9 334.5,88.6 C334.2,89.3 331.2,90.9 329.5,91.1 C327.8,91.3 323.9,90.2 321.9,89.9 C319.9,89.5 316.4,88.8 314.3,88.6 C312.3,88.3 308.9,88.0 306.8,88.0 C304.6,88.0 300.3,88.3 297.9,88.6 C295.6,88.8 291.7,89.5 289.1,89.9 C286.5,90.2 279.8,91.5 278.4,91.1 C276.9,90.7 276.6,87.5 278.4,86.7Z" fill="#9abe32"/>
<path d="M323.2,82.3 C324.0,81.4 327.6,79.6 329.5,79.1 C331.3,78.6 335.7,78.3 337.0,78.5 C338.4,78.7 339.9,79.7 339.6,80.4 C339.2,81.1 335.5,82.5 334.5,83.5 C333.5,84.6 333.0,87.3 332.0,88.0 C331.0,88.6 328.1,88.8 326.9,88.6 C325.8,88.3 323.7,86.9 323.2,86.1 C322.7,85.2 322.3,83.2 323.2,82.3Z" fill="#9abe32"/>
<path d="M339.6,72.8 C340.1,71.9 343.3,70.7 344.6,69.7 C346.0,68.7 348.3,66.1 349.7,65.2 C351.0,64.4 353.4,63.9 354.7,63.4 C356.1,62.8 359.1,60.2 359.8,60.8 C360.4,61.5 360.4,67.1 359.8,68.4 C359.1,69.7 356.1,70.1 354.7,70.9 C353.4,71.8 351.0,73.9 349.7,74.7 C348.3,75.6 345.8,77.0 344.6,77.2 C343.4,77.5 341.5,77.2 340.8,76.6 C340.2,76.0 339.1,73.7 339.6,72.8Z" fill="#9abe32"/>
<path d="M363.2,51.3 C374.0,50.6 429.7,50.6 438.4,51.3 C447.1,52.0 431.0,55.2 428.5,56.3 C426.0,57.3 422.1,58.0 420.0,59.1 C417.9,60.2 414.2,63.5 412.9,64.8 C411.6,66.1 409.7,68.1 410.0,69.0 C410.4,70.0 415.7,71.1 415.7,71.9 C415.7,72.6 411.7,74.1 410.0,74.7 C408.3,75.3 405.0,75.6 402.9,76.1 C400.9,76.7 396.9,78.3 394.4,79.0 C392.0,79.6 387.1,80.8 384.5,81.1 C381.8,81.4 376.8,81.6 374.6,81.1 C372.3,80.6 369.1,78.6 367.5,77.6 C365.8,76.5 362.9,74.6 362.5,73.3 C362.1,72.0 365.3,68.6 364.6,67.6 C364.0,66.7 357.9,67.1 357.5,66.2 C357.1,65.3 361.8,61.8 361.8,60.5 C361.8,59.2 357.3,57.5 357.5,56.3 C357.7,55.0 352.4,52.0 363.2,51.3Z" fill="#9abe32"/>
<path d="M41.9,86.4 C47.1,87.8 38.1,94.5 36.9,97.1 C35.6,99.7 33.3,103.6 32.4,105.9 C31.6,108.3 31.0,112.2 30.5,114.8 C30.1,117.3 30.0,122.8 29.3,124.9 C28.6,126.9 26.3,128.4 25.5,129.9 C24.7,131.4 23.8,135.2 23.0,136.2 C22.1,137.2 19.9,138.3 19.2,137.5 C18.5,136.6 18.9,131.0 17.9,129.9 C16.9,128.8 13.5,129.6 11.6,129.3 C9.8,128.9 5.9,127.8 4.0,127.4 C2.2,127.0 -1.4,131.6 -2.3,126.1 C-3.1,120.6 -8.2,91.7 -2.3,86.4 C3.6,81.1 36.7,84.9 41.9,86.4Z" fill="#9abe32"/>
<path d="M58.3,109.7 C58.3,108.3 60.6,104.7 62.1,103.4 C63.6,102.1 67.3,100.3 69.7,99.6 C72.0,98.9 78.4,95.5 79.8,98.4 C81.1,101.2 80.6,118.2 79.8,121.1 C78.9,123.9 75.1,120.3 73.4,119.8 C71.8,119.3 68.7,118.0 67.1,117.3 C65.6,116.5 63.3,115.1 62.1,114.1 C60.9,113.1 58.3,111.1 58.3,109.7Z" fill="#9abe32"/>
<path d="M59.1,101.0 C67.9,100.3 118.1,97.3 127.2,101.0 C136.3,104.7 129.3,125.7 127.2,129.0 C125.1,132.4 115.5,127.0 111.2,126.0 C106.9,125.1 99.4,123.2 95.2,122.0 C90.9,120.8 82.9,118.4 79.1,117.0 C75.4,115.7 69.5,113.5 67.1,112.0 C64.7,110.5 62.2,107.5 61.1,106.0 C60.0,104.5 50.3,101.7 59.1,101.0Z" fill="#9abe32"/>
<path d="M-3.0,177.7 C-0.1,175.6 13.4,176.9 19.0,177.1 C24.6,177.3 33.7,178.6 39.1,179.1 C44.4,179.7 52.7,180.7 59.1,181.1 C65.5,181.5 84.5,181.6 87.1,182.1 C89.8,182.7 82.9,184.3 79.1,185.1 C75.4,185.9 64.4,187.3 59.1,188.1 C53.8,188.9 44.4,190.5 39.1,191.1 C33.7,191.8 24.6,192.9 19.0,193.1 C13.4,193.4 -0.1,195.2 -3.0,193.1 C-5.9,191.1 -5.9,179.9 -3.0,177.7Z" fill="#9abe32"/>
<path d="M-3.0,199.2 C-0.1,197.1 13.4,198.1 19.0,198.2 C24.6,198.2 33.7,199.2 39.1,199.8 C44.4,200.3 53.8,201.7 59.1,202.2 C64.4,202.6 73.8,203.2 79.1,203.2 C84.5,203.2 92.8,202.4 99.2,202.2 C105.6,201.9 123.5,199.7 127.2,201.2 C130.9,202.7 144.6,211.7 127.2,213.4 C109.8,215.0 14.4,215.3 -3.0,213.4 C-20.4,211.5 -5.9,201.2 -3.0,199.2Z" fill="#9abe32"/>
<path d="M121.2,182.5 C121.9,182.1 126.4,181.4 127.2,181.7 C128.0,182.1 128.0,184.9 127.2,185.3 C126.5,185.8 122.4,185.3 121.6,184.9 C120.8,184.6 120.4,183.0 121.2,182.5Z" fill="#9abe32"/>
<path d="M107.0,100.0 C139.1,96.4 315.9,97.7 348.0,100.0 C380.1,102.3 349.2,115.0 348.0,117.5 C346.8,120.0 342.0,118.2 339.0,118.5 C336.0,118.8 329.3,119.4 325.4,119.8 C321.5,120.2 313.4,121.3 310.0,121.8 C306.6,122.3 301.7,122.7 300.0,123.6 C298.3,124.5 298.9,127.1 297.6,128.6 C296.3,130.1 292.3,133.7 290.0,134.9 C287.7,136.1 282.7,137.3 280.0,137.5 C277.3,137.7 272.6,136.9 269.9,136.2 C267.2,135.5 263.2,132.7 259.8,131.9 C256.4,131.1 248.6,130.7 244.6,130.4 C240.6,130.1 234.2,130.1 229.5,129.9 C224.8,129.7 213.7,129.0 209.0,128.6 C204.3,128.2 198.0,127.5 194.0,126.9 C190.0,126.3 182.2,124.9 179.0,124.4 C175.8,123.9 172.9,123.4 170.0,123.5 C167.1,123.6 160.9,124.3 157.6,124.8 C154.3,125.3 148.7,126.6 145.0,127.3 C141.3,128.0 135.0,129.9 129.9,129.9 C124.8,129.9 110.1,131.0 107.0,127.0 C103.9,123.0 74.9,103.6 107.0,100.0Z" fill="#9abe32"/>
<path d="M121.0,182.1 C122.5,181.8 131.0,181.3 133.0,181.7 C135.0,182.1 136.6,184.5 136.0,185.1 C135.5,185.7 130.9,186.2 129.0,186.1 C127.2,186.1 123.1,185.1 122.0,184.5 C121.0,184.0 119.6,182.5 121.0,182.1Z" fill="#9abe32"/>
<path d="M182.1,184.1 C182.9,183.5 186.1,182.0 189.1,181.7 C192.2,181.5 200.9,181.8 205.2,182.1 C209.4,182.4 216.9,183.6 221.2,184.1 C225.5,184.7 235.1,184.5 237.2,186.1 C239.3,187.7 238.8,195.0 237.2,196.2 C235.6,197.3 228.4,195.1 225.2,194.5 C222.0,194.0 216.4,192.7 213.2,192.1 C210.0,191.6 204.4,190.6 201.1,190.1 C197.9,189.7 191.5,189.0 189.1,188.5 C186.7,188.1 184.1,187.1 183.1,186.5 C182.2,185.9 181.3,184.8 182.1,184.1Z" fill="#9abe32"/>
<path d="M108.0,202.2 C110.8,200.5 123.6,200.8 129.0,200.6 C134.5,200.3 143.7,200.3 149.1,200.2 C154.4,200.1 163.8,200.0 169.1,199.8 C174.4,199.5 185.1,198.6 189.1,198.2 C193.1,197.7 196.5,196.5 199.1,196.2 C201.8,195.8 206.2,195.8 209.2,195.8 C212.1,195.8 217.4,196.0 221.2,196.2 C224.9,196.3 235.1,194.9 237.2,197.2 C239.3,199.4 254.4,211.2 237.2,213.4 C220.0,215.5 125.2,214.9 108.0,213.4 C90.8,211.9 105.2,203.9 108.0,202.2Z" fill="#9abe32"/>
<path d="M320.2,144.1 C320.7,143.5 323.4,144.1 325.2,145.1 C326.9,146.0 331.6,149.6 333.2,151.1 C334.8,152.5 337.5,155.2 337.2,156.1 C336.9,157.0 332.9,158.4 331.2,158.1 C329.4,157.8 325.6,155.3 324.2,154.1 C322.8,152.9 321.3,150.4 320.8,149.1 C320.2,147.7 319.6,144.6 320.2,144.1Z" fill="#9abe32"/>
<path d="M218.0,186.1 C220.8,182.2 234.9,184.7 239.0,184.1 C243.2,183.6 245.3,182.4 249.0,182.1 C252.8,181.9 263.1,181.7 267.1,182.1 C271.1,182.5 274.8,184.6 279.1,185.1 C283.4,185.7 293.8,185.9 299.1,186.1 C304.5,186.4 312.8,187.0 319.2,187.1 C325.6,187.3 343.5,183.6 347.2,187.1 C350.9,190.6 364.4,209.9 347.2,213.4 C330.0,216.9 235.2,217.0 218.0,213.4 C200.8,209.7 215.2,190.0 218.0,186.1Z" fill="#9abe32"/>
<path d="M328.0,114.0 C329.6,112.4 338.5,111.1 340.0,112.0 C341.5,113.0 339.7,119.4 339.0,121.0 C338.3,122.6 336.5,123.6 335.0,124.0 C333.5,124.4 328.9,125.4 328.0,124.0 C327.1,122.7 326.4,115.6 328.0,114.0Z" fill="#9abe32"/>
<path d="M354.0,132.0 C354.7,131.2 359.3,129.0 361.1,129.0 C362.8,129.0 365.2,131.2 367.1,132.0 C368.9,132.8 373.5,134.0 375.1,135.1 C376.7,136.1 377.2,139.1 379.1,140.1 C380.9,141.0 387.8,141.1 389.1,142.1 C390.4,143.0 389.5,145.3 389.1,147.1 C388.7,148.8 387.7,153.9 386.1,155.1 C384.5,156.3 378.9,156.5 377.1,156.1 C375.2,155.7 372.6,153.4 372.1,152.1 C371.5,150.7 373.7,146.7 373.1,146.1 C372.4,145.4 368.8,147.2 367.1,147.1 C365.3,146.9 361.1,146.0 360.0,145.1 C359.0,144.1 358.9,141.3 359.0,140.1 C359.2,138.9 361.5,136.7 361.1,136.1 C360.7,135.4 357.0,135.6 356.0,135.1 C355.1,134.5 353.4,132.8 354.0,132.0Z" fill="#9abe32"/>
<path d="M328.0,148.1 C328.8,147.3 332.8,150.1 334.0,151.1 C335.2,152.0 337.1,154.2 337.0,155.1 C336.9,156.0 334.2,157.8 333.0,158.1 C331.8,158.4 328.7,158.4 328.0,157.1 C327.3,155.8 327.2,148.9 328.0,148.1Z" fill="#9abe32"/>
<path d="M375.1,101.0 C383.0,100.3 430.3,97.7 438.8,101.0 C447.3,104.3 440.6,123.1 438.8,126.0 C437.0,129.0 428.6,123.8 425.2,123.0 C421.7,122.2 416.3,121.0 413.1,120.0 C409.9,119.1 404.3,117.2 401.1,116.0 C397.9,114.8 392.0,112.3 389.1,111.0 C386.2,109.7 380.9,107.3 379.1,106.0 C377.2,104.7 367.1,101.7 375.1,101.0Z" fill="#9abe32"/>
<path d="M328.0,188.1 C330.8,184.6 344.4,187.7 349.0,187.1 C353.7,186.6 359.3,184.9 363.1,184.1 C366.8,183.3 373.6,181.7 377.1,181.1 C380.5,180.6 386.4,180.5 389.1,180.1 C391.8,179.7 394.4,178.4 397.1,178.1 C399.8,177.8 403.6,177.7 409.1,177.7 C414.7,177.7 434.8,173.4 438.8,178.1 C442.7,182.9 453.5,208.7 438.8,213.4 C424.0,218.1 342.8,216.7 328.0,213.4 C313.2,210.0 325.2,191.6 328.0,188.1Z" fill="#9abe32"/>
<path d="M-1.0,4.5 C57.5,3.8 379.5,3.8 438.0,4.5 C496.5,5.2 496.5,8.9 438.0,9.6 C379.5,10.3 57.5,10.3 -1.0,9.6 C-59.5,8.9 -59.5,5.2 -1.0,4.5Z" fill="#bef06e"/>
<path d="M-2.3,65.0 C-1.1,58.6 4.7,64.4 6.6,64.6 C8.4,64.9 10.4,66.0 11.6,66.9 C12.9,67.7 14.6,70.1 16.0,70.9 C17.5,71.7 20.7,72.3 22.3,72.8 C24.0,73.4 27.4,74.1 28.7,75.0 C29.9,75.8 31.1,77.8 32.1,79.1 C33.0,80.5 34.9,83.6 35.6,85.1 C36.3,86.5 37.2,88.5 37.1,89.9 C37.0,91.3 35.8,94.1 35.0,95.5 C34.2,97.0 32.4,99.7 31.2,100.6 C30.0,101.5 27.2,101.7 26.1,102.5 C25.0,103.2 23.7,104.9 23.0,106.3 C22.2,107.6 23.8,111.7 20.5,112.6 C17.1,113.4 0.8,118.9 -2.3,112.6 C-5.3,106.2 -3.4,71.4 -2.3,65.0Z" fill="#bef06e"/>
<path d="M53.3,79.1 C53.3,77.7 54.6,76.2 55.8,75.3 C57.0,74.5 60.2,73.2 62.1,72.8 C63.9,72.4 67.3,72.2 69.7,72.2 C72.0,72.2 78.4,70.6 79.8,72.8 C81.1,75.0 80.4,86.3 79.8,88.6 C79.1,90.9 76.4,89.6 74.7,89.9 C73.0,90.1 69.2,90.6 67.1,90.5 C65.1,90.4 61.2,89.8 59.6,89.2 C58.0,88.6 56.0,87.4 55.2,86.1 C54.3,84.7 53.2,80.6 53.3,79.1Z" fill="#bef06e"/>
<path d="M68.4,85.1 C70.1,81.3 78.5,84.6 81.6,84.2 C84.7,83.7 90.1,82.6 91.7,81.7 C93.3,80.7 93.3,78.7 93.6,77.2 C93.9,75.8 93.9,72.3 94.2,70.9 C94.6,69.6 95.1,68.0 96.1,67.1 C97.1,66.3 99.7,65.0 101.8,64.6 C103.9,64.2 109.5,64.0 111.9,64.0 C114.3,64.0 117.3,64.8 119.5,64.6 C121.7,64.5 126.0,63.1 128.3,62.7 C130.7,62.4 134.3,62.1 137.1,61.8 C140.0,61.6 148.1,54.1 149.8,60.8 C151.4,67.6 160.6,105.7 149.8,112.6 C138.9,119.5 79.2,116.2 68.4,112.6 C57.5,108.9 66.6,88.8 68.4,85.1Z" fill="#bef06e"/>
<path d="M68.4,70.9 C69.5,68.3 74.3,69.4 76.6,69.0 C78.8,68.7 83.2,68.1 85.4,68.2 C87.6,68.2 91.7,68.7 93.0,69.7 C94.2,70.6 95.0,73.9 94.9,75.3 C94.8,76.8 93.6,79.2 92.3,80.4 C91.1,81.6 87.5,83.3 85.4,84.2 C83.3,85.1 78.8,86.7 76.6,87.3 C74.3,87.9 69.5,90.8 68.4,88.6 C67.3,86.4 67.3,73.5 68.4,70.9Z" fill="#bef06e"/>
<path d="M208.4,18.5 C209.8,18.3 218.2,17.8 219.8,18.0 C221.3,18.3 221.2,19.9 219.8,20.2 C218.3,20.5 210.5,20.4 209.0,20.2 C207.5,20.0 207.0,18.8 208.4,18.5Z" fill="#bef06e"/>
<path d="M208.4,4.4 C219.2,1.8 278.9,2.1 289.8,4.4 C300.6,6.8 291.1,19.6 289.8,22.1 C288.4,24.6 282.0,23.0 279.7,23.3 C277.3,23.7 274.4,24.5 272.1,24.6 C269.7,24.7 264.9,24.1 262.0,24.0 C259.1,23.8 253.5,23.3 250.6,23.3 C247.8,23.3 242.7,23.7 240.5,24.0 C238.4,24.2 236.8,25.2 234.2,25.2 C231.7,25.3 225.1,24.8 221.6,24.6 C218.2,24.4 210.1,26.7 208.4,24.0 C206.6,21.3 197.5,7.0 208.4,4.4Z" fill="#bef06e"/>
<path d="M221.6,54.3 C222.0,53.4 225.0,51.2 226.7,50.5 C228.3,49.7 231.9,48.8 234.2,48.6 C236.6,48.3 241.8,48.4 244.3,48.6 C246.9,48.7 251.8,49.3 253.2,49.8 C254.5,50.4 254.9,52.2 254.4,53.0 C253.9,53.8 251.2,55.1 249.4,55.5 C247.5,55.9 243.1,56.1 240.5,56.2 C238.0,56.2 232.6,56.1 230.5,56.2 C228.3,56.2 225.3,57.0 224.1,56.8 C223.0,56.5 221.3,55.1 221.6,54.3Z" fill="#bef06e"/>
<path d="M278.4,5.7 C289.2,4.2 348.9,5.3 359.8,5.7 C370.6,6.1 363.0,8.4 359.8,8.8 C356.6,9.3 340.7,8.9 335.8,9.1 C330.9,9.3 326.5,9.8 323.2,10.1 C319.8,10.4 313.9,10.9 310.5,11.4 C307.2,11.8 301.1,12.5 297.9,13.2 C294.7,14.0 289.2,16.5 286.6,17.0 C284.0,17.5 279.5,18.5 278.4,17.0 C277.3,15.5 267.5,7.2 278.4,5.7Z" fill="#bef06e"/>
<path d="M382.4,53.2 C382.7,52.6 385.0,51.7 385.9,51.8 C386.8,51.9 388.9,53.3 389.0,53.9 C389.1,54.6 387.4,56.4 386.6,56.8 C385.8,57.1 383.6,57.0 383.1,56.5 C382.5,56.0 382.0,53.9 382.4,53.2Z" fill="#bef06e"/>
<path d="M398.7,49.7 C399.1,49.3 401.4,48.6 402.2,48.7 C403.0,48.8 404.7,50.0 404.7,50.4 C404.7,50.8 403.0,51.8 402.2,52.0 C401.5,52.1 399.4,51.7 399.0,51.4 C398.5,51.1 398.3,50.0 398.7,49.7Z" fill="#bef06e"/>
<path d="M138.4,59.6 C139.8,53.5 147.7,58.6 149.1,59.6 C150.4,60.6 148.6,65.1 148.5,67.1 C148.3,69.2 147.6,72.9 147.8,74.7 C148.1,76.6 149.9,79.3 150.4,81.0 C150.9,82.7 150.8,86.3 151.6,87.3 C152.5,88.3 155.0,88.2 156.7,88.6 C158.3,89.0 162.0,90.1 164.2,90.5 C166.4,90.8 170.9,91.4 173.1,91.1 C175.3,90.9 178.5,89.2 180.6,88.6 C182.8,88.0 186.9,86.8 189.5,86.7 C192.0,86.6 196.9,87.5 199.6,88.0 C202.3,88.4 207.0,89.6 209.7,89.9 C212.4,90.1 218.4,87.8 219.8,89.9 C221.1,91.9 230.6,103.0 219.8,105.0 C208.9,107.0 149.2,111.1 138.4,105.0 C127.5,98.9 136.9,65.6 138.4,59.6Z" fill="#bef06e"/>
<path d="M221.6,51.4 C225.2,50.9 250.4,50.9 254.4,51.4 C258.5,51.8 253.8,54.0 251.9,54.5 C250.1,55.1 243.7,55.5 240.5,55.5 C237.3,55.6 230.5,55.3 227.9,54.8 C225.4,54.2 218.1,51.8 221.6,51.4Z" fill="#bef06e"/>
<path d="M208.4,89.6 C210.1,87.6 218.5,90.3 221.6,90.2 C224.7,90.1 229.4,89.4 231.7,89.0 C234.1,88.6 237.3,87.4 239.3,87.1 C241.3,86.7 244.5,86.3 246.9,86.4 C249.2,86.6 254.3,87.9 256.9,88.3 C259.6,88.8 264.4,89.3 267.0,89.6 C269.7,89.9 274.1,90.7 277.1,90.9 C280.2,91.0 288.1,89.0 289.8,90.9 C291.4,92.7 300.6,103.1 289.8,105.0 C278.9,106.9 219.2,107.0 208.4,105.0 C197.5,102.9 206.6,91.6 208.4,89.6Z" fill="#bef06e"/>
<path d="M278.4,90.9 C279.8,88.8 286.5,89.9 289.1,89.6 C291.7,89.3 295.6,88.6 297.9,88.3 C300.3,88.1 304.6,87.7 306.8,87.7 C308.9,87.7 312.3,88.1 314.3,88.3 C316.4,88.6 319.9,89.3 321.9,89.6 C323.9,89.9 327.8,91.0 329.5,90.9 C331.2,90.7 333.3,89.6 334.5,88.6 C335.7,87.6 337.3,84.8 338.3,83.5 C339.3,82.3 340.9,80.1 342.1,79.1 C343.3,78.2 345.5,77.7 347.1,76.6 C348.8,75.5 353.0,72.0 354.7,70.9 C356.4,69.8 359.1,63.9 359.8,68.4 C360.4,72.9 370.6,100.1 359.8,105.0 C348.9,109.9 289.2,106.9 278.4,105.0 C267.5,103.1 276.9,92.9 278.4,90.9Z" fill="#bef06e"/>
<path d="M348.3,66.2 C349.5,61.8 355.3,66.0 357.5,66.2 C359.7,66.4 364.0,67.0 364.6,67.9 C365.3,68.8 362.1,72.0 362.5,73.3 C362.9,74.6 365.8,76.5 367.5,77.6 C369.1,78.6 372.3,80.6 374.6,81.1 C376.8,81.6 381.8,81.4 384.5,81.1 C387.1,80.8 392.0,79.6 394.4,79.0 C396.9,78.3 400.9,76.7 402.9,76.1 C405.0,75.6 408.2,75.2 410.0,74.7 C411.9,74.2 415.1,73.3 417.1,72.6 C419.2,71.8 423.6,69.9 425.7,69.0 C427.7,68.2 431.1,66.8 432.8,66.2 C434.5,65.6 437.7,58.5 438.4,64.8 C439.2,71.0 439.4,106.5 438.4,113.0 C437.5,119.6 433.4,113.6 431.3,113.8 C429.3,113.9 425.5,114.5 422.8,114.5 C420.2,114.5 414.3,114.0 411.5,113.8 C408.6,113.5 404.2,112.8 401.5,112.3 C398.9,111.9 394.1,110.9 391.6,110.2 C389.1,109.5 385.3,108.1 383.1,107.4 C380.8,106.6 376.8,105.3 374.6,104.5 C372.3,103.8 368.3,102.4 366.0,101.7 C363.8,101.0 359.9,99.9 357.5,99.6 C355.2,99.2 349.5,103.3 348.3,98.8 C347.1,94.4 347.1,70.6 348.3,66.2Z" fill="#bef06e"/>
<path d="M38.1,86.4 C42.8,87.6 34.4,93.6 33.1,95.8 C31.7,98.1 28.9,101.4 28.0,103.4 C27.1,105.4 26.3,109.0 26.1,111.0 C26.0,113.0 27.2,116.7 26.8,118.5 C26.3,120.4 24.7,123.7 23.0,124.9 C21.3,126.0 16.3,127.4 14.1,127.4 C12.0,127.4 8.8,125.4 6.6,124.9 C4.4,124.4 -1.1,128.7 -2.3,123.6 C-3.4,118.5 -7.6,91.3 -2.3,86.4 C3.1,81.4 33.4,85.1 38.1,86.4Z" fill="#bef06e"/>
<path d="M65.9,103.4 C66.2,101.8 69.1,97.2 70.9,95.8 C72.8,94.5 78.6,91.1 79.8,93.3 C80.9,95.5 80.6,109.9 79.8,112.2 C78.9,114.6 75.0,111.6 73.4,111.0 C71.9,110.4 69.4,108.8 68.4,107.8 C67.4,106.8 65.5,105.0 65.9,103.4Z" fill="#bef06e"/>
<path d="M30.0,144.5 C30.6,143.9 33.9,143.0 35.1,143.1 C36.3,143.1 38.9,144.4 39.1,145.1 C39.2,145.7 37.1,147.7 36.1,148.1 C35.0,148.4 31.9,148.2 31.1,147.7 C30.2,147.2 29.5,145.1 30.0,144.5Z" fill="#bef06e"/>
<path d="M65.1,101.0 C72.9,100.1 118.9,97.9 127.2,101.0 C135.5,104.1 129.3,121.2 127.2,124.0 C125.1,126.8 115.5,122.8 111.2,122.0 C106.9,121.2 99.4,119.2 95.2,118.0 C90.9,116.8 82.6,114.4 79.1,113.0 C75.7,111.7 71.0,109.6 69.1,108.0 C67.2,106.4 57.4,101.9 65.1,101.0Z" fill="#bef06e"/>
<path d="M107.0,100.0 C139.1,96.8 315.9,98.3 348.0,100.0 C380.1,101.7 349.2,111.1 348.0,113.0 C346.8,114.9 342.0,114.1 339.0,114.3 C336.0,114.5 329.3,114.9 325.4,114.8 C321.5,114.7 314.1,114.2 310.0,113.5 C305.9,112.8 299.0,110.6 295.0,109.7 C291.0,108.8 284.0,107.0 280.0,106.7 C276.0,106.4 268.2,106.8 264.8,107.2 C261.4,107.6 257.4,108.7 254.7,109.7 C252.0,110.7 248.0,113.6 244.6,114.8 C241.2,116.0 234.2,117.8 229.5,118.5 C224.8,119.2 213.7,119.6 209.0,119.8 C204.3,120.0 198.0,120.0 194.0,119.8 C190.0,119.6 182.2,118.7 179.0,118.5 C175.8,118.3 173.2,118.3 170.0,118.5 C166.8,118.7 159.0,119.3 155.0,119.8 C151.0,120.3 144.0,121.6 140.0,122.3 C136.0,123.0 129.4,124.6 125.0,124.8 C120.6,125.0 109.4,127.3 107.0,124.0 C104.6,120.7 74.9,103.2 107.0,100.0Z" fill="#bef06e"/>
<path d="M328.0,101.0 C329.7,98.3 339.4,99.5 341.0,101.0 C342.6,102.5 340.6,109.5 340.0,112.0 C339.5,114.6 338.6,118.8 337.0,120.0 C335.4,121.2 329.2,123.6 328.0,121.0 C326.8,118.5 326.3,103.7 328.0,101.0Z" fill="#bef06e"/>
<path d="M379.1,101.0 C385.7,100.3 430.8,98.5 438.8,101.0 C446.7,103.5 440.6,117.8 438.8,120.0 C437.0,122.3 428.6,118.7 425.2,118.0 C421.7,117.4 416.3,116.0 413.1,115.0 C409.9,114.1 404.3,112.2 401.1,111.0 C397.9,109.8 392.0,107.3 389.1,106.0 C386.2,104.7 372.5,101.7 379.1,101.0Z" fill="#bef06e"/>
<path d="M94.9,70.9 C95.3,69.7 96.4,67.4 97.4,66.5 C98.4,65.7 101.2,64.7 102.4,64.6 C103.7,64.5 105.8,66.0 106.9,65.9 C107.9,65.8 109.5,64.2 110.6,64.0 C111.7,63.8 114.0,64.1 115.1,64.6 C116.1,65.1 118.1,66.9 118.2,67.8 C118.3,68.6 115.8,69.9 115.7,70.9 C115.6,71.9 116.9,74.3 117.6,75.3 C118.3,76.4 120.6,78.1 120.7,79.1 C120.9,80.1 119.9,82.5 118.8,82.9 C117.8,83.3 114.8,82.2 113.2,82.3 C111.6,82.4 108.5,83.6 106.9,83.5 C105.2,83.5 102.0,81.7 100.5,81.7 C99.1,81.7 97.1,83.7 96.1,83.5 C95.1,83.4 93.2,81.5 93.0,80.4 C92.7,79.3 94.0,76.6 94.2,75.3 C94.5,74.1 94.4,72.1 94.9,70.9Z" fill="#9abe32"/>
<path d="M137.1,62.7 C138.3,62.2 148.1,60.2 149.8,61.1 C151.4,61.9 150.4,68.1 149.8,69.0 C149.1,70.0 145.9,68.9 144.7,68.4 C143.5,67.9 141.9,66.0 140.9,65.2 C139.9,64.5 136.0,63.3 137.1,62.7Z" fill="#9abe32"/>
<path d="M197.6,9.1 C199.1,7.9 205.2,9.2 208.4,9.1 C211.6,9.0 218.2,8.5 221.6,8.6 C225.1,8.7 231.4,9.3 234.2,9.8 C237.1,10.4 242.2,11.8 243.1,12.6 C243.9,13.4 242.6,15.1 240.5,15.8 C238.5,16.4 232.2,17.4 227.9,17.7 C223.6,18.0 212.4,17.9 208.4,17.9 C204.3,18.0 199.1,19.1 197.6,17.9 C196.2,16.7 196.2,10.3 197.6,9.1Z" fill="#9abe32"/>
<path d="M197.6,17.7 C199.1,16.8 205.2,17.5 208.4,17.7 C211.6,17.8 218.2,18.6 221.6,18.9 C225.1,19.3 232.4,19.5 234.2,20.2 C236.1,20.9 237.2,23.4 235.5,24.0 C233.8,24.6 225.2,24.6 221.6,24.6 C218.0,24.6 211.6,24.3 208.4,24.2 C205.2,24.1 199.1,24.8 197.6,24.0 C196.2,23.1 196.2,18.5 197.6,17.7Z" fill="#9abe32"/>
<path d="M269.6,18.9 C270.2,17.9 274.4,16.9 277.1,16.4 C279.8,15.9 288.1,14.1 289.8,14.9 C291.4,15.6 291.1,21.0 289.8,22.1 C288.4,23.2 282.0,23.1 279.7,23.3 C277.3,23.6 273.4,24.6 272.1,24.0 C270.7,23.4 268.9,19.9 269.6,18.9Z" fill="#9abe32"/>
<path d="M253.2,112.6 C248.8,112.1 255.3,109.5 256.9,108.8 C258.6,108.0 263.3,107.2 265.8,106.9 C268.3,106.6 273.4,106.3 275.9,106.5 C278.4,106.7 282.9,107.7 284.7,108.2 C286.6,108.6 289.1,109.5 289.8,110.0 C290.4,110.6 294.6,112.2 289.8,112.6 C284.9,112.9 257.5,113.1 253.2,112.6Z" fill="#9abe32"/>
<path d="M340.8,112.6 C340.5,111.6 342.5,106.7 343.4,105.0 C344.2,103.3 346.0,101.0 347.1,99.9 C348.3,98.9 350.5,98.0 352.2,97.4 C353.9,96.8 358.7,94.9 359.8,95.5 C360.8,96.2 360.8,101.4 359.8,102.5 C358.7,103.6 353.8,103.1 352.2,103.7 C350.6,104.4 348.6,106.3 347.8,107.5 C346.9,108.7 346.8,111.9 345.9,112.6 C345.0,113.2 341.2,113.6 340.8,112.6Z" fill="#9abe32"/>
<path d="M219.2,109.6 C219.8,109.2 223.1,108.7 224.2,108.8 C225.3,108.9 227.2,110.0 227.2,110.4 C227.2,110.8 225.2,111.9 224.2,112.0 C223.2,112.2 220.2,111.9 219.6,111.6 C218.9,111.3 218.6,110.0 219.2,109.6Z" fill="#9abe32"/>
<path d="M98.7,68.4 C99.2,67.8 101.5,67.1 102.4,67.1 C103.4,67.2 105.3,68.3 105.6,69.0 C105.8,69.8 105.0,72.1 104.3,72.8 C103.7,73.5 101.3,74.3 100.5,74.1 C99.8,73.9 98.9,72.3 98.7,71.6 C98.4,70.8 98.1,69.0 98.7,68.4Z" fill="#bef06e"/>
<path d="M105.6,77.2 C106.2,76.8 109.2,76.3 110.6,76.2 C112.1,76.2 115.4,76.6 116.3,77.0 C117.2,77.4 117.8,78.5 117.6,79.1 C117.3,79.8 115.7,81.4 114.4,81.7 C113.2,81.9 109.3,81.6 108.1,81.3 C107.0,81.0 106.2,80.0 105.8,79.5 C105.5,79.0 105.0,77.7 105.6,77.2Z" fill="#f5e6be"/>
<path d="M323.2,32.8 C323.9,32.1 327.5,31.1 329.5,30.9 C331.5,30.7 336.3,31.1 338.3,31.5 C340.3,32.0 343.9,32.9 344.6,34.1 C345.3,35.2 344.0,39.0 343.4,40.4 C342.7,41.7 340.7,43.8 339.6,44.2 C338.4,44.5 336.0,43.6 334.5,42.9 C333.0,42.2 329.6,40.0 328.2,39.1 C326.8,38.3 324.5,37.4 323.8,36.6 C323.1,35.8 322.4,33.6 323.2,32.8Z" fill="#f5e6be"/>
<path d="M344.6,12.6 C346.5,11.9 357.7,10.6 359.8,12.0 C361.8,13.3 360.4,21.2 359.8,22.7 C359.1,24.2 356.0,23.8 354.7,23.3 C353.4,22.9 351.5,20.3 350.3,19.6 C349.1,18.8 346.6,18.6 345.9,17.7 C345.1,16.7 342.8,13.4 344.6,12.6Z" fill="#f5e6be"/>
<path d="M428.5,54.7 C429.9,53.7 437.1,52.1 438.4,53.9 C439.8,55.7 439.6,66.3 438.4,68.1 C437.3,70.0 431.3,69.1 429.9,68.1 C428.5,67.2 428.0,62.8 427.8,61.0 C427.6,59.2 427.1,55.6 428.5,54.7Z" fill="#f5e6be"/>
<path d="M320.6,76.6 C321.3,75.8 325.1,74.4 326.9,74.1 C328.8,73.7 333.0,73.7 334.5,74.1 C336.0,74.4 338.3,75.9 338.3,76.6 C338.3,77.3 335.7,78.8 334.5,79.1 C333.3,79.5 330.8,78.8 329.5,79.1 C328.1,79.5 325.4,81.5 324.4,81.7 C323.4,81.8 322.4,81.1 321.9,80.4 C321.4,79.7 320.0,77.4 320.6,76.6Z" fill="#f5e6be"/>
<path d="M347.8,107.5 C348.5,106.3 350.6,104.4 352.2,103.7 C353.8,103.1 358.7,101.3 359.8,102.5 C360.8,103.7 361.5,111.2 359.8,112.6 C358.0,113.9 348.1,113.2 346.5,112.6 C344.9,111.9 347.0,108.7 347.8,107.5Z" fill="#f5e6be"/>
<path d="M384.5,71.9 C384.8,71.4 387.1,70.8 388.0,70.9 C389.0,70.9 391.3,71.8 391.6,72.3 C391.9,72.8 390.9,74.4 390.2,74.7 C389.4,75.0 386.7,75.1 385.9,74.7 C385.2,74.3 384.2,72.4 384.5,71.9Z" fill="#f5e6be"/>
<path d="M410.0,69.7 C409.7,68.9 411.6,66.2 412.9,64.8 C414.2,63.4 418.2,60.2 420.0,59.1 C421.8,58.0 425.5,55.6 426.4,56.3 C427.2,56.9 426.1,62.7 426.4,64.1 C426.7,65.4 429.0,65.4 428.5,66.2 C428.0,67.0 424.5,69.1 422.8,69.7 C421.1,70.4 417.4,71.2 415.7,71.2 C414.0,71.2 410.4,70.6 410.0,69.7Z" fill="#f5e6be"/>
<path d="M218.0,195.3 C219.3,195.0 226.7,194.9 228.0,195.1 C229.3,195.4 229.3,197.2 228.0,197.6 C226.7,197.9 219.3,198.0 218.0,197.8 C216.7,197.5 216.7,195.7 218.0,195.3Z" fill="#f5e6be"/>
<path d="M369.1,186.1 C369.3,185.1 374.4,183.7 377.1,183.1 C379.7,182.6 387.0,181.7 389.1,182.1 C391.2,182.5 393.6,185.1 393.1,186.1 C392.6,187.2 387.5,189.5 385.1,190.1 C382.7,190.8 377.2,191.7 375.1,191.1 C372.9,190.6 368.8,187.2 369.1,186.1Z" fill="#f5e6be"/>
<path d="M371.1,194.1 C371.7,193.8 375.3,193.4 376.1,193.7 C376.8,194.1 377.3,196.2 376.7,196.6 C376.1,196.9 372.2,196.9 371.5,196.6 C370.7,196.2 370.5,194.5 371.1,194.1Z" fill="#f5e6be"/>
<path d="M429.2,194.5 C430.3,194.0 437.5,193.3 438.8,193.7 C440.1,194.2 439.9,197.6 438.8,198.2 C437.6,198.7 431.4,198.6 430.2,198.2 C428.9,197.7 428.0,195.1 429.2,194.5Z" fill="#f5e6be"/>
<path d="M330.7,36.0 C330.9,35.3 333.3,34.7 334.5,34.7 C335.7,34.7 338.6,35.4 339.6,36.0 C340.5,36.6 341.6,38.4 341.5,39.1 C341.3,39.8 339.4,40.9 338.3,41.0 C337.2,41.1 334.3,40.4 333.3,39.7 C332.2,39.1 330.6,36.6 330.7,36.0Z" fill="#9abe32"/>
<path d="M31.2,72.8 C31.8,72.7 35.5,73.6 36.9,74.7 C38.2,75.8 40.4,79.2 41.3,81.0 C42.1,82.9 43.2,87.2 43.2,88.6 C43.2,89.9 41.9,91.5 41.3,91.1 C40.7,90.8 39.4,87.6 38.7,86.1 C38.1,84.6 37.1,81.1 36.2,79.8 C35.3,78.4 32.7,76.9 32.1,76.0 C31.4,75.0 30.5,73.0 31.2,72.8Z" fill="#deb887"/>
<path d="M36.9,93.6 C37.5,92.3 39.0,90.5 40.6,89.9 C42.3,89.2 46.9,88.7 49.5,88.6 C52.0,88.5 56.9,89.1 59.6,89.2 C62.3,89.4 67.6,89.3 69.7,89.9 C71.7,90.4 74.2,92.3 74.7,93.6 C75.2,95.0 74.1,98.4 73.4,99.9 C72.8,101.5 71.2,104.0 69.7,105.0 C68.1,106.0 64.3,107.0 62.1,107.5 C59.9,108.0 55.6,108.6 53.3,108.8 C50.9,109.0 46.4,109.3 44.4,108.8 C42.4,108.3 39.3,106.2 38.1,105.0 C36.9,103.8 35.8,101.5 35.6,99.9 C35.4,98.4 36.2,95.0 36.9,93.6Z" fill="#deb887"/>
<path d="M425.7,19.2 C425.9,18.4 428.7,17.3 429.9,17.3 C431.1,17.3 434.0,18.5 434.5,19.2 C434.9,19.8 434.3,22.0 433.5,22.4 C432.7,22.9 429.5,23.1 428.5,22.7 C427.5,22.3 425.5,19.9 425.7,19.2Z" fill="#deb887"/>
<path d="M353.3,108.8 C354.6,107.0 360.4,107.2 363.2,107.1 C366.0,107.0 371.9,107.5 374.6,108.1 C377.2,108.7 381.7,110.0 383.1,111.6 C384.4,113.2 388.5,119.0 384.5,120.1 C380.5,121.3 357.4,121.7 353.3,120.1 C349.1,118.6 351.9,110.5 353.3,108.8Z" fill="#deb887"/>
<path d="M33.1,118.0 C34.7,115.6 37.2,111.3 39.1,110.0 C40.9,108.7 45.6,106.9 47.1,108.0 C48.5,109.1 49.8,115.4 50.1,118.0 C50.3,120.7 49.7,125.6 49.1,128.0 C48.4,130.4 46.4,134.5 45.1,136.1 C43.7,137.7 40.4,140.3 39.1,140.1 C37.7,139.8 36.4,135.1 35.1,134.1 C33.7,133.0 30.1,132.8 29.0,132.0 C28.0,131.2 26.5,129.9 27.0,128.0 C27.6,126.2 31.5,120.4 33.1,118.0Z" fill="#deb887"/>
<path d="M348.0,117.0 C348.7,115.6 351.0,112.2 353.0,111.0 C355.0,109.8 360.1,108.3 363.1,108.0 C366.0,107.7 371.9,108.3 375.1,109.0 C378.3,109.7 384.4,111.5 387.1,113.0 C389.8,114.5 393.9,118.0 395.1,120.0 C396.3,122.0 396.6,126.2 396.1,128.0 C395.6,129.9 392.8,133.1 391.1,134.1 C389.4,135.0 385.2,135.3 383.1,135.1 C380.9,134.8 377.2,132.8 375.1,132.0 C372.9,131.2 369.2,129.6 367.1,129.0 C364.9,128.5 361.2,128.4 359.0,128.0 C356.9,127.6 352.5,126.8 351.0,126.0 C349.6,125.2 348.4,123.2 348.0,122.0 C347.6,120.8 347.4,118.5 348.0,117.0Z" fill="#deb887"/>
<path d="M345.0,132.0 C346.0,130.7 349.8,129.5 351.0,130.0 C352.2,130.6 353.8,134.2 354.0,136.1 C354.3,137.9 353.4,142.2 353.0,144.1 C352.6,145.9 351.8,149.7 351.0,150.1 C350.2,150.5 348.0,148.4 347.0,147.1 C346.1,145.7 344.3,142.1 344.0,140.1 C343.8,138.1 344.1,133.4 345.0,132.0Z" fill="#deb887"/>
<path d="M-1.0,2.0 C19.4,1.6 131.2,1.7 152.0,2.0 C172.8,2.3 155.4,4.2 155.0,4.6 C154.6,5.0 169.8,5.1 149.0,5.2 C128.2,5.3 19.0,5.6 -1.0,5.2 C-21.0,4.8 -21.4,2.4 -1.0,2.0Z" fill="#20b2aa"/>
<path d="M244.0,2.0 C269.2,1.7 412.1,1.6 438.0,2.0 C463.9,2.4 459.2,4.8 438.0,5.3 C416.8,5.8 304.2,5.6 279.0,5.4 C253.8,5.2 253.7,4.5 249.0,4.0 C244.3,3.5 218.8,2.3 244.0,2.0Z" fill="#20b2aa"/>
<path d="M-2.3,67.4 C-1.3,61.3 3.6,66.8 5.3,67.1 C7.0,67.4 9.3,68.7 10.4,69.7 C11.4,70.6 11.9,73.2 12.9,74.1 C13.9,75.0 16.4,76.1 17.9,76.6 C19.4,77.1 22.8,77.2 24.2,77.9 C25.7,78.5 27.6,80.5 28.7,81.7 C29.7,82.8 31.4,85.5 31.8,86.7 C32.3,87.9 32.3,89.5 32.1,90.5 C31.8,91.5 30.7,93.3 29.9,94.3 C29.1,95.2 27.3,96.6 26.1,97.4 C25.0,98.3 22.3,99.9 21.1,100.6 C19.8,101.3 17.6,101.7 16.7,102.5 C15.7,103.2 14.6,104.9 14.1,106.3 C13.6,107.6 15.1,111.7 12.9,112.6 C10.7,113.4 -0.2,118.6 -2.3,112.6 C-4.3,106.5 -3.3,73.5 -2.3,67.4Z" fill="#20b2aa"/>
<path d="M55.2,80.4 C55.3,79.4 56.6,77.4 57.7,76.6 C58.8,75.8 61.6,75.0 63.4,74.7 C65.1,74.4 68.7,74.1 70.9,74.1 C73.1,74.1 78.6,73.0 79.8,74.7 C80.9,76.4 80.6,84.9 79.8,86.7 C78.9,88.5 75.3,88.1 73.4,88.3 C71.6,88.6 67.7,89.0 65.9,88.8 C64.0,88.7 60.8,88.0 59.6,87.3 C58.3,86.7 57.0,85.1 56.4,84.2 C55.8,83.3 55.0,81.4 55.2,80.4Z" fill="#20b2aa"/>
<path d="M120.7,69.7 C121.0,68.7 123.0,66.9 124.5,66.5 C126.0,66.1 130.1,66.8 132.1,66.9 C134.1,67.0 138.1,66.6 139.7,67.1 C141.3,67.7 143.6,69.6 144.1,70.9 C144.6,72.3 144.0,75.8 143.4,77.2 C142.9,78.7 140.8,80.8 139.7,81.7 C138.5,82.5 136.3,83.1 134.6,83.3 C132.9,83.5 128.6,83.5 127.0,82.9 C125.5,82.4 123.8,80.4 123.3,79.1 C122.7,77.9 123.0,74.7 122.6,73.5 C122.3,72.2 120.5,70.6 120.7,69.7Z" fill="#20b2aa"/>
<path d="M68.4,88.0 C69.6,86.3 75.7,89.3 77.8,89.9 C79.9,90.4 82.5,92.0 84.1,92.1 C85.8,92.3 88.9,91.4 90.5,90.9 C92.0,90.3 93.8,88.4 95.5,88.0 C97.2,87.5 100.9,87.7 103.1,87.6 C105.3,87.5 110.1,86.9 111.9,87.1 C113.8,87.2 115.6,88.2 116.9,88.6 C118.3,89.0 120.5,89.9 122.0,89.9 C123.5,89.8 126.5,88.2 128.3,88.0 C130.2,87.8 133.9,88.0 135.9,88.3 C137.9,88.7 141.6,90.0 143.4,90.5 C145.3,91.0 148.9,90.5 149.8,92.1 C150.6,93.7 150.4,100.8 149.8,102.5 C149.1,104.2 146.1,104.2 144.7,105.0 C143.4,105.8 141.0,107.8 139.7,108.8 C138.3,109.8 140.2,112.1 134.6,112.6 C129.1,113.1 104.2,112.9 98.0,112.6 C91.8,112.2 90.5,110.7 87.9,110.0 C85.4,109.4 81.1,108.4 79.1,107.5 C77.1,106.7 74.2,104.4 72.8,103.7 C71.4,103.1 69.0,104.6 68.4,102.5 C67.8,100.4 67.1,89.6 68.4,88.0Z" fill="#20b2aa"/>
<path d="M68.4,72.2 C69.5,70.0 74.3,70.7 76.6,70.3 C78.8,69.9 83.4,69.3 85.4,69.4 C87.5,69.5 90.9,70.3 92.0,71.2 C93.1,72.0 93.7,74.6 93.6,75.7 C93.5,76.9 92.3,78.8 91.1,79.8 C89.9,80.7 86.7,82.1 84.8,82.9 C82.8,83.7 78.8,85.3 76.6,85.8 C74.4,86.4 69.5,88.9 68.4,87.1 C67.3,85.3 67.3,74.4 68.4,72.2Z" fill="#20b2aa"/>
<path d="M358.9,12.1 C359.5,11.3 365.0,10.4 367.5,9.9 C369.9,9.5 374.6,9.1 377.4,8.8 C380.2,8.5 386.1,7.8 388.8,7.8 C391.4,7.8 395.0,8.2 397.3,8.8 C399.5,9.4 403.9,11.3 405.8,12.1 C407.7,12.9 411.1,14.1 411.5,14.9 C411.8,15.8 409.8,17.4 408.6,18.5 C407.5,19.5 404.5,21.7 402.9,22.7 C401.4,23.8 399.0,25.4 397.3,26.3 C395.6,27.1 391.9,28.0 390.2,29.1 C388.5,30.2 385.9,34.1 384.5,34.8 C383.1,35.4 380.6,34.7 379.5,34.1 C378.5,33.4 377.3,31.1 376.7,29.8 C376.0,28.5 375.4,25.6 374.6,24.1 C373.7,22.6 371.8,19.6 370.3,18.5 C368.8,17.3 364.7,16.5 363.2,15.6 C361.7,14.8 358.4,12.8 358.9,12.1Z" fill="#20b2aa"/>
<path d="M138.4,65.9 C138.9,63.9 141.4,66.3 142.2,67.1 C142.9,68.0 143.9,70.8 144.0,72.2 C144.2,73.6 143.8,76.6 143.4,77.9 C143.0,79.1 141.6,81.1 140.9,81.7 C140.2,82.2 138.7,84.1 138.4,82.0 C138.0,79.9 137.9,67.9 138.4,65.9Z" fill="#20b2aa"/>
<path d="M138.4,91.1 C139.1,88.3 142.8,91.2 144.0,91.7 C145.3,92.3 146.8,94.1 147.8,94.9 C148.8,95.7 150.9,96.5 151.6,97.4 C152.3,98.4 153.0,100.8 152.9,101.8 C152.7,102.9 151.4,104.2 150.4,105.0 C149.3,105.8 146.5,106.5 145.3,107.5 C144.1,108.5 142.4,111.9 141.5,112.6 C140.6,113.2 138.8,115.4 138.4,112.6 C137.9,109.7 137.6,93.9 138.4,91.1Z" fill="#20b2aa"/>
<path d="M187.6,100.6 C187.9,99.4 191.1,96.2 192.6,96.2 C194.1,96.1 198.7,98.4 198.9,99.9 C199.2,101.5 195.7,107.5 194.5,108.2 C193.3,108.8 191.0,106.0 190.1,105.0 C189.2,104.0 187.2,101.8 187.6,100.6Z" fill="#20b2aa"/>
<path d="M241.2,96.8 C241.3,95.7 243.7,94.6 245.0,94.3 C246.2,93.9 249.4,93.8 250.6,94.3 C251.9,94.8 254.1,97.0 254.4,98.1 C254.8,99.2 254.0,101.6 253.2,102.5 C252.3,103.3 249.4,104.4 248.1,104.4 C246.9,104.4 244.6,103.5 243.7,102.5 C242.8,101.5 241.0,97.9 241.2,96.8Z" fill="#20b2aa"/>
<path d="M284.1,99.9 C284.2,99.3 285.8,98.0 286.6,97.7 C287.4,97.3 289.3,96.5 289.8,97.2 C290.2,97.8 290.3,101.8 289.8,102.5 C289.3,103.2 286.7,102.8 286.0,102.5 C285.2,102.1 284.0,100.6 284.1,99.9Z" fill="#20b2aa"/>
<path d="M284.0,99.9 C284.3,99.2 286.3,97.4 287.8,96.8 C289.3,96.2 293.2,95.7 295.4,95.5 C297.6,95.4 302.4,95.3 304.2,95.5 C306.1,95.8 308.1,96.6 309.3,97.4 C310.5,98.3 312.3,100.9 313.1,101.8 C313.8,102.8 315.6,103.9 315.0,104.4 C314.3,104.8 310.1,105.2 308.0,105.2 C305.9,105.3 301.4,105.2 299.2,105.0 C297.0,104.8 293.4,104.1 291.6,103.7 C289.9,103.4 286.9,103.0 285.9,102.5 C284.9,102.0 283.8,100.7 284.0,99.9Z" fill="#20b2aa"/>
<path d="M335.2,88.0 C335.0,87.3 337.0,85.8 338.3,85.4 C339.6,85.1 343.1,85.3 344.6,85.1 C346.1,84.8 348.3,83.8 349.7,83.5 C351.0,83.3 353.4,82.9 354.7,82.9 C356.1,82.9 359.1,81.8 359.8,83.3 C360.4,84.8 360.4,92.9 359.8,94.3 C359.1,95.7 356.1,94.0 354.7,93.6 C353.4,93.3 351.0,92.1 349.7,91.7 C348.3,91.4 346.0,91.3 344.6,91.1 C343.3,90.9 340.8,90.9 339.6,90.5 C338.3,90.1 335.3,88.6 335.2,88.0Z" fill="#20b2aa"/>
<path d="M348.3,83.9 C349.5,82.7 355.2,85.0 357.5,85.4 C359.9,85.7 363.6,86.8 366.0,86.8 C368.5,86.8 373.3,85.8 376.0,85.4 C378.6,84.9 383.3,83.9 385.9,83.2 C388.6,82.6 393.2,81.2 395.8,80.4 C398.5,79.6 403.1,78.3 405.8,77.6 C408.4,76.8 413.3,75.6 415.7,74.7 C418.2,73.9 422.2,72.0 424.2,71.2 C426.3,70.3 429.4,68.9 431.3,68.3 C433.2,67.8 437.5,61.2 438.4,66.9 C439.4,72.6 439.4,105.0 438.4,110.9 C437.5,116.9 433.4,111.4 431.3,111.6 C429.3,111.8 425.5,112.3 422.8,112.3 C420.2,112.3 414.3,111.9 411.5,111.6 C408.6,111.3 404.2,110.7 401.5,110.2 C398.9,109.7 394.2,108.8 391.6,108.1 C388.9,107.3 384.1,105.4 381.7,104.5 C379.2,103.7 375.4,102.4 373.1,101.7 C370.9,100.9 366.9,99.5 364.6,98.8 C362.3,98.2 358.3,97.3 356.1,96.7 C353.9,96.2 349.3,96.3 348.3,94.6 C347.2,92.9 347.1,85.2 348.3,83.9Z" fill="#20b2aa"/>
<path d="M34.3,86.4 C38.5,87.5 31.3,92.6 29.3,94.6 C27.3,96.5 21.5,99.4 19.2,100.9 C16.8,102.4 13.3,105.1 11.6,105.9 C9.9,106.8 6.6,106.6 6.6,107.2 C6.6,107.8 10.1,109.7 11.6,110.3 C13.1,111.0 16.5,111.5 17.9,112.2 C19.4,113.0 21.8,114.8 22.3,116.0 C22.8,117.2 22.5,120.1 21.7,121.1 C21.0,122.1 18.3,123.7 16.7,123.6 C15.0,123.5 10.8,121.2 9.1,120.4 C7.4,119.7 5.6,118.3 4.0,117.9 C2.5,117.5 -1.4,121.5 -2.3,117.3 C-3.1,113.1 -7.1,90.5 -2.3,86.4 C2.6,82.2 30.1,85.3 34.3,86.4Z" fill="#20b2aa"/>
<path d="M73.4,100.9 C74.0,99.8 78.9,97.5 79.8,98.4 C80.6,99.2 80.3,106.1 79.8,107.2 C79.3,108.3 76.8,107.4 76.0,106.6 C75.1,105.7 72.9,102.0 73.4,100.9Z" fill="#20b2aa"/>
<path d="M73.1,101.0 C79.5,100.3 120.0,98.6 127.2,101.0 C134.4,103.4 128.8,116.9 127.2,119.0 C125.6,121.2 118.4,117.7 115.2,117.0 C112.0,116.4 106.4,115.0 103.2,114.0 C100.0,113.1 94.4,111.1 91.1,110.0 C87.9,108.9 81.5,107.2 79.1,106.0 C76.7,104.8 66.7,101.7 73.1,101.0Z" fill="#20b2aa"/>
<path d="M187.8,99.6 C188.2,98.4 191.4,95.8 192.9,95.8 C194.4,95.8 198.7,98.1 199.2,99.6 C199.7,101.1 197.8,106.5 196.7,107.2 C195.5,107.9 191.5,105.7 190.4,104.7 C189.2,103.7 187.5,100.8 187.8,99.6Z" fill="#20b2aa"/>
<path d="M240.8,97.1 C241.6,96.0 245.3,93.3 247.1,93.3 C249.0,93.3 253.9,95.7 254.7,97.1 C255.6,98.4 254.6,102.4 253.4,103.4 C252.3,104.4 247.5,104.9 245.9,104.7 C244.3,104.4 242.3,102.6 241.6,101.6 C240.9,100.6 240.1,98.2 240.8,97.1Z" fill="#20b2aa"/>
<path d="M283.7,99.6 C283.7,98.4 289.7,96.2 292.6,95.8 C295.4,95.4 302.2,95.6 305.2,96.6 C308.2,97.6 315.3,102.0 315.3,103.4 C315.3,104.8 308.2,107.0 305.2,107.2 C302.2,107.4 295.4,105.7 292.6,104.7 C289.7,103.7 283.7,100.8 283.7,99.6Z" fill="#20b2aa"/>
<path d="M108.0,101.0 C111.6,98.9 131.7,99.8 135.0,101.0 C138.4,102.2 134.1,108.0 133.0,110.0 C132.0,112.0 129.2,115.0 127.0,116.0 C124.9,117.1 119.6,117.9 117.0,118.0 C114.5,118.2 109.2,119.3 108.0,117.0 C106.8,114.8 104.4,103.1 108.0,101.0Z" fill="#20b2aa"/>
<path d="M188.1,101.0 C188.9,100.2 196.2,100.3 197.1,101.0 C198.1,101.7 196.3,105.2 195.5,106.0 C194.7,106.8 192.1,107.7 191.1,107.0 C190.1,106.3 187.3,101.8 188.1,101.0Z" fill="#20b2aa"/>
<path d="M387.1,101.0 C393.2,100.5 431.9,98.9 438.8,101.0 C445.7,103.1 440.6,114.6 438.8,116.4 C437.0,118.2 428.6,115.1 425.2,114.4 C421.7,113.8 416.3,112.5 413.1,111.6 C409.9,110.8 403.8,109.0 401.1,108.0 C398.4,107.0 395.0,105.3 393.1,104.4 C391.2,103.5 381.0,101.5 387.1,101.0Z" fill="#20b2aa"/>
<path d="M-2.3,70.9 C-1.4,65.3 2.9,70.3 4.0,70.7 C5.2,71.1 6.1,73.2 6.6,74.1 C7.1,75.0 6.8,76.6 7.8,77.2 C8.8,77.9 12.3,78.7 14.1,79.1 C16.0,79.5 20.1,79.8 21.7,80.4 C23.3,81.0 25.1,82.5 26.1,83.5 C27.1,84.6 28.9,87.0 29.3,88.0 C29.7,89.0 29.7,90.3 29.3,91.1 C28.9,92.0 27.1,93.5 26.1,94.3 C25.1,95.0 23.0,96.2 21.7,96.8 C20.5,97.4 17.9,98.2 16.7,98.7 C15.4,99.2 13.0,99.7 12.2,100.6 C11.5,101.4 11.2,103.4 11.0,105.0 C10.7,106.6 12.1,111.6 10.4,112.6 C8.6,113.6 -0.6,118.1 -2.3,112.6 C-3.9,107.0 -3.1,76.5 -2.3,70.9Z" fill="#b0e0e6"/>
<path d="M56.8,80.8 C57.0,80.0 58.5,78.5 59.6,77.9 C60.6,77.3 62.9,76.5 64.6,76.2 C66.3,76.0 70.2,75.9 72.2,76.0 C74.2,76.0 78.7,75.4 79.8,76.6 C80.8,77.8 80.6,83.7 79.8,85.1 C78.9,86.4 75.3,86.4 73.4,86.7 C71.6,87.0 67.6,87.4 65.9,87.3 C64.1,87.2 61.3,86.4 60.2,85.8 C59.1,85.3 58.1,84.0 57.7,83.3 C57.2,82.6 56.5,81.5 56.8,80.8Z" fill="#b0e0e6"/>
<path d="M128.3,72.2 C128.5,71.9 129.5,71.3 129.8,71.4 C130.2,71.5 131.0,72.5 131.1,72.8 C131.1,73.2 130.4,74.1 130.1,74.2 C129.7,74.3 128.8,74.0 128.6,73.7 C128.3,73.4 128.1,72.5 128.3,72.2Z" fill="#b0e0e6"/>
<path d="M81.0,102.5 C81.0,101.9 82.7,101.0 84.1,100.6 C85.6,100.2 89.7,99.9 91.7,99.7 C93.7,99.5 97.4,99.4 99.3,98.9 C101.1,98.5 103.9,96.8 105.6,96.2 C107.3,95.5 110.1,94.6 111.9,94.3 C113.8,93.9 117.8,93.5 119.5,93.6 C121.2,93.8 123.0,95.0 124.5,95.5 C126.0,96.0 129.1,97.0 130.8,97.4 C132.5,97.8 136.1,98.1 137.1,98.7 C138.1,99.3 138.9,101.2 138.4,101.8 C137.9,102.5 135.0,103.4 133.4,103.7 C131.7,104.1 127.6,104.5 125.8,104.4 C123.9,104.2 121.2,102.6 119.5,102.5 C117.8,102.3 114.8,102.9 113.2,103.1 C111.5,103.4 108.7,104.0 106.9,104.4 C105.0,104.7 101.3,105.5 99.3,105.6 C97.3,105.7 93.7,105.1 91.7,105.0 C89.7,104.9 85.6,105.3 84.1,105.0 C82.7,104.7 81.0,103.1 81.0,102.5Z" fill="#b0e0e6"/>
<path d="M68.4,74.1 C69.3,72.3 73.4,72.6 75.3,72.2 C77.2,71.8 80.9,71.0 82.9,70.9 C84.8,70.9 88.5,71.3 89.8,71.9 C91.1,72.6 92.7,74.8 92.7,75.7 C92.7,76.7 91.0,78.3 89.8,79.1 C88.6,80.0 85.4,81.3 83.5,82.0 C81.7,82.8 78.0,84.1 75.9,84.6 C73.9,85.1 69.4,87.2 68.4,85.8 C67.4,84.4 67.4,75.9 68.4,74.1Z" fill="#b0e0e6"/>
<path d="M373.8,14.2 C374.0,13.3 375.8,12.5 377.4,12.1 C379.0,11.6 383.5,10.7 385.9,10.6 C388.4,10.6 394.1,10.7 395.8,11.4 C397.6,12.0 397.8,14.6 398.7,15.6 C399.5,16.7 402.4,18.2 402.2,19.2 C402.0,20.1 398.7,22.0 397.3,22.7 C395.8,23.5 392.9,24.1 391.6,24.8 C390.3,25.6 388.4,27.3 387.3,28.4 C386.3,29.5 384.7,32.8 383.8,33.4 C382.8,33.9 381.0,33.3 380.2,32.7 C379.5,32.0 378.3,29.7 378.1,28.4 C377.9,27.1 379.1,24.0 378.8,22.7 C378.5,21.4 376.6,19.6 376.0,18.5 C375.3,17.3 373.7,15.0 373.8,14.2Z" fill="#b0e0e6"/>
<path d="M361.8,93.2 C361.8,92.7 367.8,92.2 370.3,91.8 C372.8,91.3 377.8,90.3 380.2,89.6 C382.7,89.0 386.5,87.6 388.8,86.8 C391.0,85.9 395.0,84.2 397.3,83.2 C399.5,82.3 403.5,80.6 405.8,79.7 C408.1,78.7 412.0,77.1 414.3,76.1 C416.6,75.2 420.6,73.4 422.8,72.6 C425.0,71.7 428.5,70.3 430.6,69.7 C432.7,69.2 437.4,63.3 438.4,68.3 C439.5,73.3 439.0,102.1 438.4,107.4 C437.9,112.7 435.9,107.8 434.2,108.1 C432.5,108.4 428.1,109.3 425.7,109.5 C423.2,109.7 418.4,109.7 415.7,109.5 C413.1,109.3 408.2,108.5 405.8,108.1 C403.3,107.6 399.5,106.8 397.3,105.9 C395.0,105.1 391.0,102.7 388.8,101.7 C386.5,100.6 382.7,99.0 380.2,98.1 C377.8,97.3 372.8,96.0 370.3,95.3 C367.8,94.6 361.8,93.6 361.8,93.2Z" fill="#b0e0e6"/>
<path d="M30.5,86.4 C34.1,87.5 26.8,92.6 24.2,94.6 C21.7,96.5 14.3,99.5 11.6,100.9 C8.9,102.2 5.9,104.0 4.0,104.7 C2.2,105.3 -1.4,108.4 -2.3,105.9 C-3.1,103.5 -6.6,89.0 -2.3,86.4 C2.1,83.8 27.0,85.3 30.5,86.4Z" fill="#b0e0e6"/>
<path d="M15.7,115.0 C15.9,114.4 17.3,114.1 17.7,114.5 C18.0,114.9 18.4,117.7 18.2,118.3 C18.0,118.9 16.5,119.2 16.2,118.8 C15.8,118.4 15.5,115.6 15.7,115.0Z" fill="#b0e0e6"/>
<path d="M81.1,101.0 C83.8,100.5 100.5,100.4 103.2,101.0 C105.8,101.6 102.8,104.8 101.2,105.6 C99.6,106.4 93.6,107.2 91.1,107.0 C88.7,106.8 84.5,105.2 83.1,104.4 C81.8,103.6 78.5,101.5 81.1,101.0Z" fill="#b0e0e6"/>
<path d="M119.2,101.0 C120.0,100.4 126.1,100.3 127.2,101.0 C128.3,101.7 128.0,105.4 127.2,106.0 C126.4,106.6 122.3,106.3 121.2,105.6 C120.1,104.9 118.4,101.6 119.2,101.0Z" fill="#b0e0e6"/>
<path d="M121.0,101.0 C123.4,100.2 138.6,100.3 141.1,101.0 C143.5,101.7 140.4,105.0 139.0,106.0 C137.7,107.0 133.2,108.3 131.0,108.4 C128.9,108.5 124.4,108.0 123.0,107.0 C121.7,106.0 118.6,101.8 121.0,101.0Z" fill="#b0e0e6"/>
<path d="M391.1,101.0 C396.1,100.5 432.4,99.6 438.8,101.0 C445.1,102.4 440.6,110.4 438.8,111.6 C437.0,112.9 428.6,110.9 425.2,110.4 C421.7,109.9 416.3,108.8 413.1,108.0 C409.9,107.2 404.1,105.3 401.1,104.4 C398.2,103.5 386.1,101.5 391.1,101.0Z" fill="#b0e0e6"/>
<path d="M-2.3,78.5 C-1.6,75.4 1.6,77.2 2.8,77.2 C4.0,77.3 5.2,78.6 6.6,79.1 C7.9,79.7 11.2,80.8 12.9,81.3 C14.6,81.8 17.8,82.4 19.2,82.9 C20.6,83.4 22.7,84.3 23.6,85.1 C24.5,85.8 25.9,87.7 26.1,88.6 C26.4,89.5 26.1,91.0 25.5,91.7 C24.9,92.5 22.9,93.7 21.7,94.3 C20.5,94.9 18.2,95.7 16.7,96.2 C15.2,96.6 11.9,97.3 10.4,97.7 C8.8,98.1 6.5,98.9 5.3,99.3 C4.1,99.7 2.5,100.4 1.5,100.6 C0.5,100.7 -1.8,103.5 -2.3,100.6 C-2.8,97.6 -2.9,81.6 -2.3,78.5Z" fill="#7799f2"/>
<path d="M58.3,81.0 C58.6,80.5 59.8,79.2 60.8,78.8 C61.8,78.3 64.4,77.7 65.9,77.6 C67.4,77.5 70.7,77.7 72.2,77.9 C73.7,78.1 76.2,78.8 77.2,79.1 C78.2,79.5 79.4,79.8 79.8,80.4 C80.1,81.0 80.6,82.9 79.8,83.5 C78.9,84.2 75.1,84.7 73.4,85.1 C71.8,85.4 68.7,86.1 67.1,86.1 C65.5,86.0 62.6,85.2 61.5,84.8 C60.4,84.4 59.4,83.4 58.9,82.9 C58.5,82.4 58.1,81.6 58.3,81.0Z" fill="#7799f2"/>
<path d="M68.4,76.0 C69.1,74.4 72.4,74.0 74.0,73.5 C75.6,72.9 78.7,71.9 80.4,71.6 C82.0,71.2 85.2,70.8 86.7,70.9 C88.1,71.1 90.3,72.1 91.1,72.8 C91.8,73.5 92.6,75.1 92.3,76.0 C92.1,76.8 90.5,78.4 89.2,79.1 C87.9,79.9 84.6,81.0 82.9,81.7 C81.2,82.3 78.5,83.7 76.6,84.2 C74.6,84.7 69.5,86.5 68.4,85.4 C67.3,84.3 67.6,77.6 68.4,76.0Z" fill="#7799f2"/>
<path d="M390.2,21.6 C390.5,21.3 392.3,21.1 392.7,21.3 C393.2,21.5 393.7,22.9 393.6,23.3 C393.4,23.7 392.1,24.4 391.6,24.4 C391.1,24.5 390.1,23.9 389.9,23.6 C389.7,23.2 389.8,21.9 390.2,21.6Z" fill="#7799f2"/>
<path d="M379.5,28.8 C379.9,28.6 381.5,28.2 381.9,28.4 C382.4,28.6 382.9,29.9 382.8,30.2 C382.7,30.6 381.4,31.2 380.9,31.2 C380.5,31.3 379.6,30.7 379.4,30.4 C379.2,30.1 379.2,29.1 379.5,28.8Z" fill="#7799f2"/>
<path d="M389.5,95.3 C389.8,94.2 393.0,90.9 394.4,89.6 C395.8,88.3 398.6,86.4 400.1,85.4 C401.6,84.3 404.1,82.8 405.8,81.8 C407.5,80.9 411.0,79.2 412.9,78.3 C414.8,77.3 418.1,75.6 420.0,74.7 C421.9,73.9 425.2,72.5 427.1,71.9 C429.0,71.2 432.7,70.1 434.2,69.7 C435.7,69.4 437.9,64.6 438.4,69.0 C439.0,73.5 439.4,98.3 438.4,103.1 C437.5,107.9 433.4,104.7 431.3,105.2 C429.3,105.8 425.3,107.1 422.8,107.4 C420.4,107.7 415.3,107.6 412.9,107.4 C410.4,107.2 406.4,106.6 404.4,105.9 C402.3,105.3 399.0,103.4 397.3,102.4 C395.6,101.4 392.6,99.1 391.6,98.1 C390.5,97.2 389.1,96.4 389.5,95.3Z" fill="#7799f2"/>
<path d="M25.5,86.4 C27.7,87.5 17.0,92.8 14.1,94.6 C11.3,96.3 6.2,98.8 4.0,99.6 C1.9,100.5 -1.4,102.6 -2.3,100.9 C-3.1,99.1 -6.0,88.3 -2.3,86.4 C1.4,84.4 23.3,85.3 25.5,86.4Z" fill="#7799f2"/>
<path d="M403.1,101.0 C406.5,100.5 434.0,100.4 438.8,101.0 C443.5,101.6 440.6,104.9 438.8,105.6 C437.0,106.3 428.6,106.5 425.2,106.4 C421.7,106.3 416.1,105.7 413.1,105.0 C410.2,104.3 399.7,101.5 403.1,101.0Z" fill="#7799f2"/>
<path d="M61.5,81.3 C61.7,80.7 63.5,79.9 64.6,79.8 C65.7,79.6 68.7,79.7 69.7,80.0 C70.7,80.3 72.1,81.6 72.2,82.3 C72.3,83.0 71.1,84.6 70.3,85.1 C69.5,85.5 66.9,85.9 65.9,85.8 C64.8,85.7 63.1,84.8 62.5,84.2 C61.9,83.6 61.2,81.9 61.5,81.3Z" fill="#4169e1"/>
<path d="M76.6,75.3 C77.7,74.5 80.3,73.2 81.6,72.8 C83.0,72.4 85.7,72.2 86.7,72.4 C87.7,72.7 89.2,74.1 89.2,74.7 C89.2,75.4 87.7,76.6 86.7,77.2 C85.7,77.8 83.0,78.7 81.6,79.1 C80.3,79.5 77.7,80.4 76.6,80.4 C75.4,80.4 72.8,79.8 72.8,79.1 C72.8,78.5 75.4,76.2 76.6,75.3Z" fill="#4169e1"/>
<path d="M403.7,89.6 C403.8,88.8 404.9,87.0 405.8,86.1 C406.6,85.1 408.7,83.5 410.0,82.5 C411.4,81.6 414.0,79.8 415.7,79.0 C417.4,78.1 420.9,76.3 422.8,76.1 C424.7,75.9 428.2,77.0 429.9,77.6 C431.6,78.1 434.5,79.7 435.6,80.4 C436.7,81.1 438.1,81.6 438.4,82.5 C438.8,83.5 439.2,86.5 438.4,87.5 C437.7,88.5 434.5,89.6 432.8,90.3 C431.1,91.1 427.7,92.6 425.7,93.2 C423.6,93.7 419.2,94.4 417.1,94.6 C415.1,94.8 411.7,94.9 410.0,94.6 C408.4,94.3 405.9,93.1 405.1,92.5 C404.2,91.8 403.6,90.5 403.7,89.6Z" fill="#4169e1"/>
<path d="M66.3,82.3 C66.5,82.0 67.5,81.7 67.8,81.8 C68.1,81.9 68.7,82.7 68.7,83.0 C68.6,83.3 67.8,84.0 67.5,84.1 C67.2,84.1 66.4,83.8 66.3,83.5 C66.1,83.3 66.1,82.5 66.3,82.3Z" fill="#0000cd"/>
<path d="M68.4,80.4 C68.7,79.6 70.3,79.6 70.9,79.8 C71.4,79.9 72.4,81.0 72.5,81.7 C72.6,82.3 72.1,84.3 71.5,84.8 C71.0,85.3 68.8,86.0 68.4,85.4 C67.9,84.8 68.0,81.1 68.4,80.4Z" fill="#0000cd"/>
<path d="M412.2,84.7 C412.1,83.5 414.0,81.3 415.0,80.4 C416.1,79.4 418.6,77.9 420.0,77.6 C421.4,77.2 424.3,77.2 425.7,77.6 C427.0,77.9 429.3,79.4 429.9,80.4 C430.6,81.3 431.0,83.6 430.6,84.7 C430.3,85.7 428.3,87.5 427.1,88.2 C425.9,88.9 422.9,89.5 421.4,89.6 C419.9,89.7 417.0,89.6 415.7,88.9 C414.5,88.2 412.3,85.8 412.2,84.7Z" fill="#0000cd"/>
<path d="M415.7,83.9 C415.8,83.1 417.0,81.1 417.9,80.4 C418.7,79.7 421.0,78.8 422.1,78.7 C423.2,78.6 425.6,79.1 426.4,79.7 C427.1,80.3 427.9,82.3 427.8,83.2 C427.7,84.2 426.6,86.1 425.7,86.8 C424.7,87.4 421.8,88.2 420.7,88.2 C419.6,88.2 417.8,87.3 417.1,86.8 C416.5,86.2 415.6,84.8 415.7,83.9Z" fill="#9370db"/>
<path d="M68.4,44.2 C70.1,41.9 78.5,43.8 81.6,43.5 C84.7,43.3 89.4,42.9 91.7,42.3 C94.1,41.7 97.8,40.0 99.3,39.1 C100.8,38.3 102.1,36.6 103.1,36.0 C104.0,35.3 105.4,34.1 106.2,34.3 C107.1,34.6 108.5,37.6 109.4,37.9 C110.2,38.2 111.2,36.8 112.5,36.6 C113.9,36.3 118.3,35.5 119.5,36.0 C120.7,36.5 121.5,39.5 121.4,40.4 C121.2,41.3 119.1,42.7 118.2,42.9 C117.3,43.1 115.2,41.5 114.4,41.6 C113.7,41.8 112.2,43.5 112.5,44.2 C112.9,44.8 115.7,46.4 116.9,46.7 C118.2,46.9 120.5,46.6 122.0,46.1 C123.5,45.6 126.8,43.7 128.3,42.9 C129.8,42.1 132.3,40.3 133.4,40.4 C134.4,40.5 135.0,42.9 135.9,43.5 C136.7,44.2 137.8,45.3 139.7,45.4 C141.5,45.5 148.4,43.0 149.8,44.2 C151.1,45.3 151.8,52.7 149.8,54.3 C147.7,55.8 138.7,54.9 134.6,55.5 C130.6,56.2 123.2,58.4 119.5,59.1 C115.8,59.7 113.7,60.4 106.9,60.6 C100.0,60.8 73.5,62.8 68.4,60.6 C63.2,58.4 66.6,46.4 68.4,44.2Z" fill="#ffe100"/>
<path d="M142.2,33.1 C142.4,32.4 145.0,30.8 146.0,30.3 C147.0,29.8 149.3,28.5 149.8,29.3 C150.3,30.0 150.4,35.2 149.8,36.0 C149.1,36.8 145.7,35.7 144.7,35.3 C143.7,34.9 142.0,33.7 142.2,33.1Z" fill="#ffe100"/>
<path d="M57.1,49.5 C58.3,48.3 62.2,47.7 65.1,47.1 C68.0,46.5 76.2,45.6 79.1,45.1 C82.1,44.6 85.0,44.1 87.1,43.5 C89.3,42.8 93.0,41.2 95.2,40.1 C97.3,38.9 101.6,35.9 103.2,35.1 C104.8,34.3 106.1,33.7 107.2,34.1 C108.2,34.5 109.6,37.7 111.2,38.1 C112.8,38.4 117.7,36.4 119.2,36.7 C120.7,37.0 121.1,39.5 122.2,40.3 C123.3,41.1 126.5,40.4 127.2,42.7 C127.9,44.9 128.3,54.9 127.2,57.1 C126.1,59.3 121.3,59.0 119.2,59.1 C117.1,59.2 113.3,57.8 111.2,58.1 C109.0,58.4 105.3,60.3 103.2,61.1 C101.0,61.9 97.3,63.4 95.2,64.1 C93.0,64.8 89.3,66.0 87.1,66.1 C85.0,66.2 81.5,65.4 79.1,65.1 C76.7,64.8 71.2,64.0 69.1,64.1 C67.0,64.2 64.6,66.2 63.1,66.1 C61.6,66.0 59.0,64.4 58.1,63.1 C57.2,61.8 56.2,57.9 56.1,56.1 C56.0,54.3 55.9,50.7 57.1,49.5Z" fill="#ffe100"/>
<path d="M61.0,49.0 C61.9,47.2 65.3,47.6 67.9,47.1 C70.5,46.6 77.5,45.8 80.5,45.2 C83.6,44.7 88.1,43.9 90.6,43.4 C93.2,42.8 97.8,41.7 99.5,40.8 C101.2,40.0 102.4,37.9 103.3,37.0 C104.1,36.2 105.1,34.4 105.8,34.5 C106.5,34.6 107.5,37.0 108.3,37.7 C109.1,38.4 111.3,39.7 112.1,39.6 C112.9,39.5 113.4,37.5 114.6,37.0 C115.8,36.6 119.6,36.1 120.9,36.4 C122.3,36.8 124.5,38.5 124.7,39.6 C124.9,40.7 122.2,43.4 122.2,44.6 C122.2,45.8 123.7,48.4 124.7,48.4 C125.7,48.4 129.1,43.4 129.8,44.6 C130.4,45.8 130.6,55.6 129.8,57.2 C128.9,58.8 125.1,56.4 123.4,56.6 C121.8,56.9 119.0,58.9 117.1,59.1 C115.3,59.4 111.9,58.7 109.6,58.5 C107.2,58.3 101.7,57.7 99.5,57.9 C97.3,58.0 94.2,58.8 93.2,59.8 C92.2,60.7 92.7,63.7 91.9,64.8 C91.1,65.9 88.7,67.5 86.9,68.0 C85.0,68.5 80.2,68.6 78.0,68.6 C75.8,68.6 72.3,68.3 70.5,68.0 C68.6,67.6 65.4,67.0 64.1,66.1 C62.9,65.1 61.4,63.3 61.0,61.0 C60.6,58.8 60.1,50.9 61.0,49.0Z" fill="#ffe100"/>
<path d="M11.6,58.9 C11.8,58.3 15.0,57.1 16.7,57.0 C18.3,57.0 22.2,58.4 24.2,58.3 C26.3,58.2 29.8,57.0 31.8,56.4 C33.8,55.8 37.4,54.3 39.4,53.9 C41.4,53.5 45.3,52.8 46.9,53.3 C48.6,53.7 51.0,55.7 52.0,57.0 C53.0,58.4 53.7,61.8 54.5,63.4 C55.4,64.9 58.1,67.1 58.3,68.4 C58.5,69.7 56.5,71.6 55.8,72.8 C55.1,74.0 54.1,76.0 53.3,77.2 C52.4,78.5 50.5,81.4 49.5,82.3 C48.5,83.1 46.5,84.0 45.7,83.5 C44.8,83.1 43.8,80.3 43.2,79.1 C42.5,78.0 41.5,75.6 40.6,74.7 C39.8,73.8 37.9,72.9 36.9,72.2 C35.8,71.5 34.2,70.2 33.1,69.7 C31.9,69.2 28.9,69.1 28.0,68.4 C27.1,67.7 27.1,65.4 26.1,64.6 C25.1,63.9 21.9,63.1 20.5,62.7 C19.0,62.4 16.6,62.6 15.4,62.1 C14.2,61.6 11.5,59.6 11.6,58.9Z" fill="#ffe100"/>
<path d="M39.4,94.9 C39.8,93.8 41.8,91.8 43.2,91.1 C44.5,90.4 47.5,89.9 49.5,89.9 C51.5,89.8 56.0,90.3 58.3,90.5 C60.7,90.7 65.4,90.6 67.1,91.1 C68.9,91.6 71.1,93.3 71.6,94.3 C72.1,95.3 71.5,97.6 70.9,98.7 C70.3,99.8 68.3,101.8 67.1,102.5 C66.0,103.1 63.8,103.4 62.1,103.7 C60.4,104.1 56.2,104.4 54.5,105.0 C52.8,105.6 50.5,108.0 49.5,108.2 C48.5,108.3 47.8,107.0 46.9,106.3 C46.1,105.5 44.1,103.4 43.2,102.5 C42.2,101.5 40.5,100.3 40.0,99.3 C39.5,98.3 39.0,96.0 39.4,94.9Z" fill="#ffe100"/>
<path d="M68.4,51.4 C79.2,48.9 138.9,50.9 149.8,51.4 C160.6,51.8 151.1,54.1 149.8,54.5 C148.4,55.0 142.4,54.5 139.7,54.8 C137.0,55.0 131.9,55.9 129.6,56.4 C127.2,57.0 124.2,58.4 122.0,58.9 C119.8,59.5 116.0,60.7 113.2,60.8 C110.3,61.0 103.4,60.3 100.5,60.2 C97.7,60.1 93.2,59.2 91.7,59.8 C90.2,60.4 90.0,63.6 89.2,64.6 C88.3,65.7 87.1,67.1 85.4,67.8 C83.7,68.4 78.8,69.4 76.6,69.7 C74.3,70.0 69.5,72.4 68.4,69.9 C67.3,67.5 57.5,53.8 68.4,51.4Z" fill="#ffe100"/>
<path d="M68.4,93.0 C68.7,92.0 70.1,92.0 70.5,92.4 C71.0,92.7 71.7,94.6 71.8,95.5 C71.8,96.5 71.3,98.7 70.9,99.3 C70.4,99.9 68.7,100.8 68.4,99.9 C68.0,99.1 68.1,94.0 68.4,93.0Z" fill="#ffe100"/>
<path d="M142.2,32.2 C142.7,31.6 145.1,30.0 146.6,29.7 C148.0,29.3 151.2,29.2 152.9,29.3 C154.6,29.4 157.8,30.0 159.2,30.5 C160.5,31.0 162.6,32.3 163.0,33.1 C163.3,33.9 162.7,36.0 161.7,36.6 C160.7,37.1 157.3,37.3 155.4,37.2 C153.6,37.1 149.5,36.3 147.8,36.0 C146.2,35.6 143.5,34.8 142.8,34.3 C142.0,33.8 141.6,32.8 142.2,32.2Z" fill="#ffe100"/>
<path d="M138.4,44.8 C139.3,43.1 143.5,44.3 145.3,44.4 C147.2,44.5 151.4,44.9 152.2,45.7 C153.1,46.5 151.5,49.3 151.6,50.5 C151.7,51.6 153.4,53.4 152.9,54.3 C152.4,55.1 149.8,56.4 147.8,56.8 C145.9,57.2 139.6,59.0 138.4,57.4 C137.1,55.8 137.4,46.5 138.4,44.8Z" fill="#ffe100"/>
<path d="M285.3,53.0 C286.5,51.9 292.2,52.2 294.1,52.4 C296.1,52.5 299.0,53.2 299.8,54.3 C300.7,55.4 302.4,59.7 300.5,60.6 C298.5,61.4 287.3,61.6 285.3,60.6 C283.3,59.6 284.1,54.1 285.3,53.0Z" fill="#ffe100"/>
<path d="M318.1,55.5 C319.3,54.7 323.8,54.5 325.7,54.3 C327.5,54.0 330.3,53.5 332.0,53.6 C333.7,53.7 337.3,54.0 338.3,54.9 C339.3,55.8 342.4,59.8 339.6,60.6 C336.7,61.3 319.7,61.2 316.9,60.6 C314.0,59.9 316.9,56.4 318.1,55.5Z" fill="#ffe100"/>
<path d="M138.4,51.4 C140.1,50.8 149.9,50.9 151.6,51.4 C153.3,51.8 151.7,53.9 151.0,54.5 C150.3,55.1 148.3,55.9 146.6,56.0 C144.9,56.2 139.5,56.4 138.4,55.8 C137.3,55.2 136.6,52.0 138.4,51.4Z" fill="#ffe100"/>
<path d="M268.3,73.5 C268.6,72.6 272.9,70.8 274.6,69.7 C276.3,68.5 279.6,66.1 280.9,64.6 C282.3,63.1 284.0,60.1 284.7,58.3 C285.4,56.5 285.3,52.3 286.0,51.4 C286.6,50.4 289.3,47.9 289.8,51.4 C290.3,54.8 291.1,73.8 289.8,77.2 C288.4,80.7 282.0,77.4 279.7,77.2 C277.3,77.1 273.6,76.5 272.1,76.0 C270.6,75.5 268.0,74.3 268.3,73.5Z" fill="#ffe100"/>
<path d="M278.4,59.6 C279.0,56.5 281.9,55.6 282.8,54.5 C283.7,53.4 284.0,51.8 285.3,51.4 C286.7,50.9 291.5,50.8 292.9,51.4 C294.2,52.0 294.2,54.7 295.4,55.8 C296.6,56.9 300.0,58.9 301.7,59.6 C303.4,60.2 306.5,61.0 308.0,60.8 C309.5,60.7 311.9,59.2 313.1,58.3 C314.2,57.5 315.8,55.4 316.9,54.5 C317.9,53.6 318.6,51.8 320.6,51.4 C322.7,50.9 330.1,50.8 332.0,51.4 C333.8,52.0 334.5,54.5 334.5,55.8 C334.5,57.0 333.0,59.7 332.0,60.8 C331.0,62.0 328.5,63.8 326.9,64.6 C325.4,65.5 321.8,66.3 320.6,67.1 C319.5,68.0 319.1,70.1 318.1,70.9 C317.1,71.8 314.6,73.2 313.1,73.5 C311.6,73.7 308.4,72.7 306.8,72.8 C305.1,72.9 302.5,73.7 300.5,74.1 C298.4,74.4 293.8,75.0 291.6,75.3 C289.4,75.7 285.8,76.4 284.0,76.6 C282.3,76.9 279.1,79.5 278.4,77.2 C277.6,75.0 277.8,62.6 278.4,59.6Z" fill="#ffe100"/>
<path d="M363.9,110.9 C364.3,110.5 366.6,109.9 367.5,109.9 C368.3,110.0 370.1,110.9 370.3,111.3 C370.5,111.8 369.6,112.8 368.9,113.0 C368.1,113.3 365.3,113.3 364.6,113.0 C364.0,112.8 363.5,111.3 363.9,110.9Z" fill="#ffe100"/>
<path d="M364.6,115.9 C365.8,115.2 370.5,114.7 373.1,114.7 C375.8,114.8 383.0,115.4 384.5,116.2 C386.0,116.9 387.1,119.6 384.5,120.1 C381.8,120.7 367.3,120.7 364.6,120.1 C362.0,119.6 363.5,116.6 364.6,115.9Z" fill="#ffe100"/>
<path d="M139.0,138.1 C139.7,137.4 143.0,136.7 144.1,137.1 C145.1,137.5 147.2,140.3 147.1,141.1 C146.9,141.9 144.1,142.9 143.1,143.1 C142.0,143.2 139.6,142.7 139.0,142.1 C138.5,141.4 138.4,138.7 139.0,138.1Z" fill="#ffe100"/>
<path d="M151.1,145.1 C150.8,144.0 151.7,141.9 153.1,141.1 C154.4,140.3 158.9,138.9 161.1,139.1 C163.2,139.2 167.5,142.2 169.1,142.1 C170.7,141.9 172.0,138.1 173.1,138.1 C174.2,138.1 176.3,140.7 177.1,142.1 C177.9,143.4 179.9,147.1 179.1,148.1 C178.3,149.1 173.2,149.4 171.1,149.7 C169.0,149.9 165.2,150.2 163.1,150.1 C160.9,150.0 156.7,149.7 155.1,149.1 C153.5,148.4 151.3,146.1 151.1,145.1Z" fill="#ffe100"/>
<path d="M365.1,118.0 C365.5,117.2 367.5,115.3 369.1,115.0 C370.7,114.8 375.1,115.8 377.1,116.0 C379.1,116.3 382.8,116.2 384.1,117.0 C385.4,117.8 387.2,120.7 387.1,122.0 C387.0,123.4 384.4,126.5 383.1,127.0 C381.8,127.6 378.7,126.7 377.1,126.0 C375.5,125.4 372.5,122.7 371.1,122.0 C369.6,121.4 366.9,121.6 366.1,121.0 C365.3,120.5 364.7,118.8 365.1,118.0Z" fill="#ffe100"/>
<path d="M364.1,110.4 C364.8,110.1 369.3,110.1 370.1,110.4 C370.9,110.7 370.8,112.1 370.1,112.4 C369.3,112.7 365.5,112.7 364.7,112.4 C363.9,112.1 363.3,110.7 364.1,110.4Z" fill="#ffe100"/>
<path d="M348.0,136.5 C348.5,136.0 350.8,135.4 351.4,135.7 C352.1,135.9 353.1,137.5 353.0,138.1 C352.9,138.6 351.3,139.9 350.6,140.1 C350.0,140.2 348.6,139.7 348.2,139.3 C347.9,138.8 347.6,136.9 348.0,136.5Z" fill="#ffe100"/>
<path d="M107.5,45.2 C108.0,44.8 110.6,44.3 111.3,44.8 C111.9,45.2 112.5,48.0 112.2,48.6 C111.8,49.2 109.4,49.6 108.7,49.5 C108.1,49.3 107.3,47.9 107.1,47.3 C106.9,46.7 106.9,45.5 107.5,45.2Z" fill="#deb887"/>
<path d="M108.3,45.2 C108.8,44.9 110.9,44.3 111.5,44.6 C112.0,44.9 112.6,46.9 112.3,47.4 C112.1,47.9 110.1,48.4 109.6,48.4 C109.0,48.4 108.2,47.6 108.1,47.1 C107.9,46.7 107.9,45.6 108.3,45.2Z" fill="#deb887"/>
<path d="M112.1,38.1 C112.4,37.6 114.4,37.4 114.9,37.7 C115.3,38.0 115.8,39.9 115.5,40.3 C115.2,40.7 113.2,41.1 112.7,40.8 C112.3,40.5 111.8,38.5 112.1,38.1Z" fill="#deb887"/>
<path d="M65.4,54.7 C66.0,53.8 67.5,52.1 69.2,51.6 C70.9,51.0 75.7,50.7 78.0,50.3 C80.4,49.9 85.0,49.0 86.9,48.4 C88.7,47.8 90.2,46.4 91.9,45.9 C93.6,45.4 97.8,44.6 99.5,44.6 C101.2,44.6 103.5,45.3 104.5,45.9 C105.5,46.5 105.7,48.2 107.0,49.0 C108.4,49.9 112.8,51.4 114.6,52.2 C116.5,52.9 120.3,54.1 120.9,54.7 C121.6,55.3 120.8,56.3 119.7,56.6 C118.5,56.9 114.3,57.2 112.1,57.2 C109.9,57.2 105.4,56.7 103.3,56.6 C101.1,56.5 97.4,56.4 95.7,56.6 C94.0,56.9 91.5,57.6 90.6,58.5 C89.8,59.4 90.1,62.5 89.4,63.5 C88.7,64.6 86.9,65.6 85.6,66.1 C84.2,66.5 81.1,66.7 79.3,66.7 C77.4,66.7 73.4,66.6 71.7,66.1 C70.0,65.6 67.6,63.9 66.7,62.9 C65.7,61.9 64.9,59.6 64.8,58.5 C64.6,57.4 64.8,55.6 65.4,54.7Z" fill="#ffa500"/>
<path d="M35.6,66.5 C36.1,66.0 38.5,65.2 39.4,65.2 C40.3,65.3 42.2,66.5 42.5,67.1 C42.9,67.8 42.5,69.8 41.9,70.3 C41.3,70.8 39.0,71.1 38.1,70.9 C37.3,70.8 35.9,69.6 35.6,69.0 C35.3,68.4 35.1,67.0 35.6,66.5Z" fill="#ffa500"/>
<path d="M42.5,95.5 C42.7,94.6 44.4,92.9 45.7,92.4 C46.9,91.8 50.1,91.5 52.0,91.4 C53.8,91.3 57.5,91.6 59.6,91.7 C61.6,91.9 65.8,91.9 67.1,92.4 C68.5,92.9 69.7,94.6 69.9,95.5 C70.1,96.5 69.3,98.5 68.4,99.3 C67.5,100.2 65.0,101.4 63.4,101.8 C61.7,102.3 57.6,102.5 55.8,102.5 C53.9,102.5 51.0,102.3 49.5,101.8 C48.0,101.4 45.4,100.2 44.4,99.3 C43.5,98.5 42.4,96.5 42.5,95.5Z" fill="#ffa500"/>
<path d="M284.7,59.6 C285.0,58.2 286.6,55.4 287.2,54.5 C287.9,53.7 289.4,51.1 289.8,53.3 C290.1,55.4 290.2,68.7 289.8,70.9 C289.3,73.1 287.3,70.5 286.6,69.7 C285.9,68.8 285.0,66.0 284.7,64.6 C284.5,63.3 284.4,60.9 284.7,59.6Z" fill="#ffa500"/>
<path d="M285.9,59.6 C286.3,58.3 286.9,57.7 287.8,58.3 C288.8,58.9 291.4,63.1 292.9,64.0 C294.4,64.8 297.5,64.4 299.2,64.6 C300.9,64.9 304.4,65.3 305.5,65.9 C306.6,66.5 307.7,68.4 307.4,69.0 C307.1,69.7 304.4,70.8 303.0,70.9 C301.5,71.0 298.2,70.0 296.7,69.7 C295.2,69.3 292.8,68.2 291.6,68.4 C290.4,68.6 288.7,71.0 287.8,70.9 C287.0,70.8 285.6,69.3 285.3,67.8 C285.1,66.3 285.6,60.8 285.9,59.6Z" fill="#ffa500"/>
<path d="M156.1,145.1 C156.5,144.4 159.7,143.1 161.1,143.1 C162.4,143.1 165.7,144.4 166.1,145.1 C166.5,145.7 165.2,147.7 164.1,148.1 C163.0,148.5 159.1,148.5 158.1,148.1 C157.0,147.7 155.7,145.7 156.1,145.1Z" fill="#ffa500"/>
<path d="M378.1,120.0 C378.4,119.7 380.1,119.0 380.7,119.2 C381.2,119.4 382.4,120.9 382.3,121.4 C382.2,122.0 380.6,123.2 380.1,123.2 C379.5,123.3 378.3,122.5 378.1,122.0 C377.8,121.6 377.7,120.4 378.1,120.0Z" fill="#ffa500"/>
<path d="M67.9,55.3 C68.4,54.6 69.7,53.2 71.1,52.8 C72.4,52.4 75.9,52.4 78.0,52.2 C80.1,52.0 84.8,51.8 86.9,51.6 C88.9,51.4 91.1,50.7 93.2,50.7 C95.2,50.6 99.8,50.9 102.0,51.2 C104.2,51.5 107.9,52.3 109.6,52.8 C111.3,53.3 114.4,54.3 114.6,54.7 C114.8,55.1 112.3,55.9 110.8,56.0 C109.3,56.1 105.3,55.4 103.3,55.3 C101.2,55.3 97.5,55.2 95.7,55.3 C93.8,55.5 90.6,56.1 89.4,56.6 C88.2,57.1 87.4,58.3 86.9,59.1 C86.4,60.0 86.4,62.1 85.6,62.9 C84.8,63.7 82.1,64.8 80.5,65.1 C79.0,65.3 75.7,64.9 74.2,64.6 C72.8,64.2 70.7,63.1 69.8,62.3 C68.9,61.5 67.9,59.4 67.7,58.5 C67.4,57.6 67.5,56.1 67.9,55.3Z" fill="#ff4500"/>
<path d="M45.1,96.2 C45.4,95.5 47.1,93.9 48.2,93.4 C49.3,92.9 51.7,92.7 53.3,92.6 C54.8,92.5 57.8,92.5 59.6,92.6 C61.3,92.7 65.2,92.9 66.5,93.4 C67.8,93.9 68.9,95.4 69.0,96.2 C69.1,97.0 68.1,98.6 67.1,99.3 C66.2,100.0 63.6,100.9 62.1,101.2 C60.6,101.5 57.5,101.5 55.8,101.5 C54.1,101.4 50.8,101.0 49.5,100.6 C48.2,100.2 46.5,99.0 45.9,98.4 C45.4,97.8 44.8,96.8 45.1,96.2Z" fill="#ff4500"/>
<path d="M51.4,95.5 C51.7,94.8 53.4,93.4 54.5,93.0 C55.6,92.6 58.1,92.5 59.6,92.6 C61.1,92.7 64.8,93.2 65.9,93.6 C67.0,94.1 67.8,95.4 67.8,96.2 C67.8,96.9 66.8,98.7 65.9,99.3 C65.0,100.0 62.3,100.8 60.8,101.0 C59.4,101.1 56.3,100.9 55.2,100.6 C54.0,100.2 52.5,99.1 52.0,98.4 C51.5,97.8 51.0,96.3 51.4,95.5Z" fill="#b22222"/>
<path d="M53.3,96.2 C53.5,95.5 55.5,94.4 56.4,94.3 C57.3,94.1 59.6,94.5 60.2,94.9 C60.8,95.3 61.3,96.8 61.1,97.4 C60.8,98.1 59.2,99.5 58.3,99.7 C57.4,99.9 55.2,99.4 54.5,98.9 C53.8,98.5 53.0,96.8 53.3,96.2Z" fill="#ffb6c1"/>
<path d="M62.7,95.9 C63.1,95.5 64.7,95.0 65.2,95.2 C65.8,95.3 66.6,96.7 66.5,97.2 C66.4,97.7 65.1,98.8 64.6,98.9 C64.1,99.1 63.0,98.5 62.7,98.1 C62.5,97.7 62.4,96.3 62.7,95.9Z" fill="#ffb6c1"/>
<path d="M56.0,96.4 C56.2,96.2 57.2,95.8 57.5,95.9 C57.9,96.0 58.4,96.9 58.3,97.2 C58.2,97.5 57.3,98.1 57.0,98.2 C56.7,98.3 56.2,97.9 56.0,97.7 C55.9,97.4 55.8,96.7 56.0,96.4Z" fill="#ff1493"/>
</g>
<path d="M430.8,65.9 431.6,65.8 432.6,66.7 434.3,66.6 435.6,66.8 436.8,66.1 438.0,65.7 M0.0,65.7 0.1,65.7 1.8,65.1 3.6,64.7 6.1,64.7 7.9,64.5 9.7,64.6 11.9,64.1 13.4,64.5 12.9,65.2 12.8,66.2 13.5,66.7 13.0,67.5 12.3,67.9 12.3,68.5 13.5,69.1 15.0,69.6 16.2,69.5 17.6,70.0 18.6,70.2 19.0,71.2 20.7,71.9 22.5,72.6 23.8,72.5 24.5,71.8 24.3,70.6 25.1,69.8 26.4,69.5 28.1,69.8 28.3,70.3 30.4,70.9 32.8,71.4 35.3,72.0 36.4,71.5 37.7,71.1 38.9,71.3 39.7,71.7 40.9,71.7 41.7,71.4 42.2,70.6 42.6,69.6 43.2,68.3 43.7,67.4 43.6,66.2 43.8,65.5 44.0,64.8 43.2,65.0 42.1,64.7 41.0,65.5 39.5,65.6 37.7,64.7 37.1,65.3 36.0,65.5 34.7,64.7 33.3,64.5 33.1,63.6 32.0,62.9 32.8,62.2 31.9,61.4 31.9,60.8 32.5,60.2 31.6,60.0 30.4,59.7 29.2,60.0 29.2,60.8 28.3,60.6 27.9,60.2 27.5,60.8 28.0,61.7 28.3,62.4 29.2,63.0 29.2,63.6 28.5,63.3 28.0,63.4 28.2,64.1 27.7,65.1 27.0,64.7 26.4,64.7 25.9,63.6 26.4,63.0 25.7,62.9 25.2,62.2 24.6,61.3 23.6,60.5 23.7,59.3 23.6,58.5 22.5,57.9 21.3,57.2 19.5,56.6 18.5,55.7 17.6,54.4 16.9,55.0 16.5,54.0 15.0,54.4 15.1,55.6 16.4,56.5 17.3,57.9 18.2,58.5 19.6,58.5 19.3,59.0 20.7,59.6 22.5,60.7 22.4,61.1 20.7,60.2 20.2,61.2 20.8,62.0 20.1,62.8 19.5,63.4 19.0,63.3 19.2,62.4 19.6,61.9 19.0,60.7 18.1,60.5 17.4,59.9 15.8,59.3 14.8,58.6 13.5,57.9 12.8,57.2 12.4,56.1 10.8,55.5 9.1,56.2 7.4,57.2 6.1,56.7 4.9,56.6 3.8,57.2 3.9,58.0 3.6,58.6 2.7,59.1 1.0,59.6 0.0,61.0 0.0,61.0 M438.0,61.0 437.6,61.4 438.0,62.0 M0.0,62.0 0.2,62.3 0.0,62.5 M438.0,62.5 437.4,62.9 437.0,63.8 435.7,64.6 435.1,64.7 432.6,64.8 431.4,65.6 430.7,65.5 430.2,64.7 429.0,64.2 427.2,64.5 427.3,62.8 426.4,62.3 427.2,60.6 427.4,59.4 427.2,58.3 426.7,57.2 428.3,56.3 430.9,56.5 433.4,56.6 435.8,56.7 436.5,55.2 436.7,54.0 436.5,53.3 435.3,52.2 434.6,51.7 432.6,51.3 432.2,50.6 433.7,50.1 435.6,50.4 436.1,49.2 436.5,49.4 438.0,49.3 M0.0,49.3 0.1,49.3 1.8,48.5 1.9,47.6 3.6,47.1 4.9,46.2 5.7,45.1 6.7,44.5 8.5,44.4 10.1,43.9 10.5,42.7 9.9,41.9 9.9,40.4 11.7,39.8 12.9,39.3 12.7,40.8 13.3,41.0 11.9,42.0 11.7,42.7 12.2,43.2 13.4,43.8 14.6,43.6 16.4,43.2 17.4,43.9 19.5,43.4 21.9,42.8 22.8,43.3 24.1,43.3 24.3,42.7 25.5,42.2 25.5,40.4 26.3,39.4 27.5,39.3 28.3,40.0 29.3,40.1 29.7,38.4 28.6,38.1 28.6,37.5 30.2,37.1 34.1,37.1 36.7,36.6 34.9,35.8 31.6,36.0 28.0,36.6 26.0,35.8 26.0,34.3 25.9,32.8 29.8,30.7 30.9,30.2 29.4,29.4 26.8,29.7 25.8,31.0 23.1,32.6 21.0,33.7 20.9,35.3 21.0,35.8 22.8,36.5 22.0,37.4 20.3,38.2 20.2,39.3 19.7,40.6 19.1,41.2 17.4,41.4 17.3,42.1 15.7,42.1 15.3,41.1 14.5,39.4 13.6,37.8 12.9,37.1 12.5,37.7 11.3,38.1 9.7,38.8 8.0,38.8 6.7,37.7 6.2,36.3 6.1,34.7 6.3,33.8 8.5,33.0 10.3,32.2 11.9,31.6 13.6,30.5 15.2,29.2 16.1,28.1 17.8,27.0 18.5,26.4 20.1,25.7 21.9,24.8 23.1,24.3 25.5,24.1 28.0,23.4 31.3,23.0 34.1,23.1 37.7,24.0 36.5,24.7 40.1,25.1 43.8,25.4 46.8,26.4 49.9,27.7 49.8,28.5 48.1,29.1 43.8,28.7 40.1,28.5 42.0,29.4 42.3,31.0 45.0,31.8 46.2,31.1 48.7,30.9 48.7,29.8 51.7,28.7 53.8,28.6 53.5,27.6 52.9,26.0 55.4,26.3 56.2,27.0 55.4,28.0 57.2,28.1 59.0,27.1 62.0,26.3 65.1,26.5 65.7,25.7 67.5,26.2 70.6,25.7 73.0,26.4 74.0,25.5 73.6,24.6 77.9,25.2 80.3,25.5 81.5,26.0 83.1,26.4 83.9,25.7 82.1,24.7 81.3,23.5 81.9,22.5 83.3,21.0 84.6,20.7 87.6,20.9 88.6,22.5 88.2,24.9 87.6,26.8 87.0,28.3 89.4,28.2 90.0,26.2 89.4,24.3 90.6,22.5 91.9,21.9 94.9,21.7 97.9,20.1 101.0,19.8 105.2,19.6 105.8,18.2 109.5,17.5 115.6,16.9 121.7,16.4 126.9,15.0 129.6,15.6 136.3,16.4 138.1,17.3 137.5,18.9 133.8,19.6 137.5,19.8 143.6,20.1 149.6,20.3 154.5,20.1 157.6,21.3 156.9,23.1 160.6,22.5 164.2,22.4 167.9,22.5 170.3,21.3 172.8,20.9 177.6,21.4 182.5,22.4 184.9,23.2 189.8,23.0 194.7,24.3 195.9,25.2 200.7,24.8 204.4,24.5 207.4,25.5 208.0,24.3 214.1,24.6 219.0,25.5 222.6,26.4 227.5,27.9 231.2,29.1 229.9,29.8 227.5,31.1 224.5,30.7 220.8,29.8 219.6,29.0 218.4,30.4 216.0,30.8 217.8,31.3 218.1,33.0 218.0,33.7 213.5,34.3 210.5,35.3 207.4,36.5 202.6,36.5 198.9,36.7 199.5,37.8 198.3,39.2 198.1,40.8 197.1,41.1 197.1,42.6 194.7,44.9 192.6,46.2 190.7,47.4 189.8,45.0 189.2,42.6 189.8,40.1 192.8,38.3 195.3,36.5 198.9,34.7 199.5,33.6 197.7,34.6 194.7,34.4 194.1,35.3 190.4,34.7 188.6,37.1 184.9,37.7 183.7,37.1 180.1,37.2 176.4,37.4 173.4,37.5 170.9,38.9 168.5,40.4 165.5,42.7 167.3,43.8 168.5,43.9 170.9,44.9 171.8,44.7 171.8,46.0 170.9,48.1 170.9,49.9 169.7,51.7 167.9,53.5 165.5,55.4 162.4,57.3 160.6,56.9 159.1,57.8 157.9,59.0 157.7,59.9 155.2,61.1 155.1,61.8 156.2,62.7 157.4,64.5 157.6,66.3 156.9,66.8 155.1,67.3 153.8,67.5 153.9,66.3 154.2,64.7 153.5,63.6 152.1,63.3 152.4,61.6 151.2,61.0 148.4,61.9 147.5,62.3 148.2,60.2 147.2,59.7 145.1,61.4 143.3,61.9 143.2,62.9 144.8,63.8 144.8,64.2 147.0,63.5 149.0,64.0 148.9,64.6 146.9,65.3 145.4,66.6 145.1,67.3 146.6,68.7 148.3,70.9 148.2,71.9 147.0,72.6 148.4,73.1 147.9,74.8 146.9,76.0 145.6,77.9 144.8,78.8 143.6,79.8 142.3,80.9 141.1,81.6 138.9,82.4 138.1,82.5 136.3,83.1 134.4,83.7 134.2,84.8 133.6,83.3 132.0,83.1 131.2,83.3 129.8,84.6 128.7,86.0 129.6,87.8 130.8,89.4 132.4,90.9 133.0,93.1 132.9,95.1 131.4,96.4 129.9,96.8 129.6,97.9 128.0,98.9 127.5,97.6 127.1,96.8 125.3,96.1 124.7,94.8 122.9,94.0 122.3,93.2 121.7,93.7 121.5,95.5 120.8,97.3 120.8,98.3 121.7,99.2 122.3,100.6 123.5,101.2 124.7,102.2 125.7,103.7 125.9,105.8 126.8,107.8 125.9,107.9 124.1,106.7 123.2,105.8 122.4,104.3 122.0,102.8 121.9,101.6 120.4,99.9 119.6,99.4 119.8,97.9 120.0,96.4 120.1,94.9 119.6,93.1 119.2,91.5 118.9,89.8 118.3,89.1 116.8,89.4 115.9,90.3 114.7,90.0 115.0,88.2 114.4,86.4 113.1,85.2 112.2,83.9 111.7,82.4 110.1,82.1 108.3,83.0 105.8,83.3 105.7,84.3 105.0,85.3 103.4,86.0 101.6,87.7 100.1,89.2 98.8,90.0 97.6,90.9 97.5,93.1 97.7,93.6 97.1,95.5 97.1,97.0 96.1,98.2 95.1,98.7 94.3,99.6 93.1,98.5 92.5,96.7 91.5,94.9 90.6,92.5 89.8,90.6 88.8,88.2 88.6,86.4 88.5,84.6 88.3,83.6 88.2,82.5 87.6,83.0 86.4,84.2 85.2,83.9 83.9,82.5 85.5,81.6 83.8,81.5 83.0,80.7 82.0,80.3 81.5,79.3 80.9,78.6 78.5,78.8 75.4,78.8 73.6,78.7 71.5,78.5 69.7,78.2 69.3,76.9 68.5,76.5 66.6,77.1 64.5,76.6 63.3,75.7 62.0,74.5 61.7,73.4 60.5,72.9 59.5,72.6 59.0,73.1 58.4,73.9 59.1,74.8 60.5,76.6 61.1,77.4 61.8,78.5 62.3,77.7 62.8,79.1 62.4,79.9 63.9,80.1 65.7,80.1 67.3,78.7 68.4,77.6 68.6,79.1 69.0,79.9 71.2,80.8 72.8,82.1 71.4,84.6 70.3,86.4 69.3,86.6 67.5,88.1 65.7,88.8 63.5,89.8 60.8,91.2 59.3,92.5 56.0,93.2 54.7,93.9 52.9,94.0 52.6,93.1 52.1,91.2 52.0,89.5 50.9,87.6 49.6,85.8 48.3,84.6 47.6,83.3 46.8,80.9 45.6,79.9 44.7,77.9 43.2,76.0 42.3,75.4 42.6,73.6 42.0,75.2 41.7,75.7 40.8,74.8 39.8,73.2 39.7,74.2 40.8,75.7 41.4,77.3 42.6,79.3 43.4,80.5 44.9,82.7 45.4,83.9 45.4,85.8 46.8,87.6 48.1,90.6 49.9,91.9 51.7,93.7 52.7,94.3 52.7,95.5 53.5,96.7 55.4,96.6 57.2,96.0 59.6,95.8 62.3,95.0 62.0,96.8 60.8,99.8 59.0,102.8 57.2,105.2 55.2,107.1 52.9,109.5 51.1,111.3 49.9,111.9 48.8,113.5 48.3,114.4 47.4,116.8 48.1,118.0 47.8,119.8 48.4,121.7 49.3,122.6 49.4,124.7 49.5,127.1 48.7,129.2 46.2,130.8 44.9,131.4 42.6,133.6 43.1,135.7 43.2,138.1 42.2,139.6 40.1,140.5 39.8,141.1 39.9,143.0 38.9,144.7 37.7,145.9 36.5,147.6 34.7,149.4 32.8,150.4 31.3,150.9 28.6,151.0 26.8,151.1 24.3,151.8 22.5,151.2 22.3,149.6 22.3,148.4 21.0,146.0 20.1,144.3 18.5,142.3 18.1,139.9 17.6,137.4 16.2,134.4 14.6,131.4 14.4,129.6 15.0,127.1 16.3,124.7 16.8,122.6 16.1,120.4 15.6,118.0 14.8,116.8 14.6,115.6 13.6,114.4 11.9,112.5 10.9,110.7 11.3,108.9 11.8,107.1 11.8,105.2 10.9,104.0 10.3,103.9 8.5,104.1 7.3,104.3 6.1,102.6 5.2,101.8 3.0,101.8 1.2,102.3 0.0,102.6 0.0,102.6 M438.0,102.6 436.8,103.2 435.6,103.7 434.3,103.3 432.5,103.2 430.7,103.5 428.9,104.1 427.0,103.3 424.9,101.8 424.0,101.1 422.8,100.4 421.9,99.2 421.8,97.9 420.4,96.7 419.7,96.1 418.5,95.0 417.7,94.3 417.6,93.1 416.7,91.6 417.9,90.0 418.5,87.6 418.2,85.8 417.3,83.9 417.9,82.4 418.5,80.7 419.9,78.7 420.4,77.6 421.9,75.8 423.4,75.2 425.6,73.9 426.2,72.4 426.1,71.2 427.0,69.7 428.8,68.6 429.7,68.0 430.7,66.7 430.8,65.9 M35.3,59.4 34.1,58.4 33.7,57.5 34.1,56.7 34.8,56.1 34.9,55.1 36.1,54.5 36.7,53.5 37.5,52.8 38.8,52.7 39.5,53.4 40.8,53.4 39.5,54.3 40.9,55.4 42.6,55.0 44.4,54.5 42.8,53.3 45.0,52.3 47.7,52.1 46.2,53.5 45.6,54.1 44.8,54.5 45.6,55.1 46.8,55.6 48.3,56.6 49.9,57.4 50.6,58.5 50.5,59.0 48.7,59.6 46.2,59.6 44.4,59.3 42.6,58.4 40.8,58.4 38.9,58.8 37.7,59.5 35.3,59.4 M57.8,57.2 57.2,55.4 57.2,54.1 59.0,53.2 60.8,52.7 63.3,52.6 64.5,52.9 64.5,54.4 62.7,54.7 62.0,55.4 61.2,55.6 62.0,56.9 63.9,57.5 64.1,59.0 65.7,59.0 64.5,60.2 64.5,61.4 65.5,62.0 65.6,63.9 64.5,64.7 62.7,64.8 60.8,64.0 59.6,63.3 59.5,62.0 60.2,60.6 61.2,60.3 59.9,59.4 59.0,58.4 57.8,57.2 M70.9,56.0 70.9,54.1 72.4,52.9 74.2,52.7 75.2,53.5 74.2,55.4 73.0,56.6 71.8,56.6 70.9,56.0 M89.4,54.1 90.6,52.7 93.1,52.7 96.1,52.7 95.5,53.5 92.5,53.5 90.6,54.7 89.4,54.1 M126.3,46.8 128.4,45.6 130.8,44.4 132.6,42.6 133.7,41.6 133.2,43.2 132.0,45.0 129.6,46.2 127.1,47.0 126.3,46.8 M36.5,36.5 38.3,36.3 39.9,35.6 39.5,34.9 37.1,34.7 36.3,35.4 36.5,36.5 M42.0,35.3 43.8,35.0 43.8,33.7 42.3,33.3 42.0,35.3 M38.7,110.1 39.5,109.1 41.4,109.3 41.7,110.7 40.8,112.3 38.9,112.7 38.6,111.3 38.7,110.1 M35.6,113.6 36.1,115.6 37.4,118.0 37.7,120.1 37.0,119.2 35.8,116.8 35.4,115.0 35.6,113.6 M41.4,121.1 42.2,122.9 42.6,125.3 42.8,126.9 42.0,125.9 41.5,123.5 41.4,121.1 M431.1,48.5 432.9,48.2 434.3,47.8 436.5,47.7 438.0,47.7 M0.0,47.7 0.4,47.7 1.7,47.2 1.0,46.8 2.1,45.4 0.4,45.0 0.1,44.3 0.0,44.1 M438.0,44.1 437.8,43.7 436.5,42.9 436.1,42.0 435.3,41.4 434.1,41.4 435.0,40.8 435.6,39.5 433.7,39.3 433.0,39.4 434.2,38.2 431.9,38.2 431.3,39.2 430.9,40.1 430.5,40.8 431.3,42.0 432.2,41.9 431.9,42.8 433.7,42.7 433.9,43.4 434.3,44.0 434.2,44.7 432.5,44.7 432.9,45.3 433.0,45.9 431.7,46.4 433.1,46.7 434.3,47.0 433.7,47.2 432.5,47.4 431.1,48.5 M430.5,44.7 430.3,46.0 428.9,46.2 427.7,46.6 425.8,46.6 425.5,46.0 426.4,45.4 426.1,44.5 425.8,43.6 427.7,43.3 427.9,42.5 429.1,42.2 430.7,42.3 431.2,43.1 430.7,43.8 430.5,44.7 M410.4,31.9 413.7,32.2 416.1,32.4 419.7,31.3 421.5,30.4 420.0,29.0 418.3,28.6 415.9,29.1 413.3,29.6 411.8,29.8 410.6,28.7 408.4,29.7 411.2,30.4 408.8,30.5 411.2,31.3 410.4,31.9 M17.0,15.8 20.7,16.3 23.1,14.2 26.2,14.0 22.5,12.8 19.5,12.2 13.4,12.5 14.0,13.6 16.4,14.6 17.0,15.8 M22.5,11.9 28.0,11.7 32.8,12.2 29.2,13.0 24.3,12.8 22.5,11.9 M25.5,15.2 28.6,15.5 29.2,14.5 26.2,14.4 25.5,15.2 M62.7,22.1 63.9,21.3 65.1,20.1 67.5,18.6 69.3,17.8 73.0,16.9 79.1,16.2 83.3,15.8 83.9,16.4 80.3,17.3 74.8,18.2 71.8,19.5 69.3,20.7 68.1,21.9 70.0,23.5 66.9,23.6 65.1,23.2 62.7,22.1 M116.8,13.4 121.7,12.7 126.5,13.1 127.7,14.2 121.7,14.6 119.2,13.9 116.8,13.4 M111.9,12.2 115.6,10.8 119.2,11.2 118.0,12.2 114.4,12.5 111.9,12.2 M56.0,11.6 60.8,11.1 62.0,11.8 57.2,12.0 56.0,11.6 M65.7,11.7 70.6,10.9 75.4,11.3 73.0,12.0 66.9,12.2 65.7,11.7 M167.3,17.9 170.3,17.0 175.2,17.4 177.6,17.9 174.0,18.4 169.1,18.6 167.3,17.9 M170.3,20.1 173.4,19.6 174.6,20.3 171.5,20.7 170.3,20.1 M178.8,18.0 183.1,17.9 183.1,18.5 179.5,18.5 178.8,18.0 M217.4,23.1 220.2,22.5 222.0,22.9 220.8,23.4 218.1,23.4 217.4,23.1 M172.8,53.5 174.6,52.6 173.7,51.7 174.2,49.9 175.8,49.6 174.6,48.1 174.6,45.6 174.0,44.4 173.7,43.4 172.8,44.4 172.5,46.2 173.0,48.1 172.8,50.5 172.8,52.3 172.8,53.5 M170.3,59.0 171.8,58.6 171.5,57.8 174.3,58.4 177.0,56.8 176.8,55.6 174.0,55.4 172.5,54.1 172.4,55.4 171.9,56.9 170.7,57.2 170.1,58.0 170.3,59.0 M172.0,59.1 172.2,60.2 172.8,61.4 172.2,62.9 171.5,64.5 171.1,65.7 171.3,66.1 170.3,66.9 170.1,66.3 169.1,67.2 168.1,67.4 166.7,67.4 166.4,67.8 165.2,68.7 164.5,67.8 163.0,67.4 161.2,67.8 159.4,68.1 159.4,67.5 161.2,66.4 163.0,66.3 164.9,66.2 165.5,65.7 166.3,64.7 167.0,63.9 167.0,64.7 168.5,64.1 169.7,62.7 170.3,61.1 170.3,60.1 170.7,59.4 172.0,59.1 M161.2,69.3 161.8,68.3 163.4,67.8 163.9,68.4 163.3,69.0 161.8,69.6 161.2,69.3 M158.2,68.7 159.4,68.3 160.5,69.1 160.0,70.6 159.4,71.4 158.5,71.5 158.4,70.6 157.9,69.7 157.6,69.0 158.2,68.7 M147.2,78.8 148.3,79.1 147.8,80.9 147.1,82.7 146.2,81.9 146.1,80.9 146.9,79.7 147.2,78.8 M132.3,86.0 133.2,85.2 134.8,85.2 135.0,85.8 133.8,87.2 132.4,87.0 132.3,86.0 M146.6,87.0 148.7,87.1 148.8,88.8 147.9,90.0 148.1,91.9 149.0,92.2 150.6,92.7 151.0,94.2 150.0,93.7 149.0,93.1 147.8,92.8 146.7,92.5 146.7,91.5 146.0,91.2 145.8,89.7 146.5,88.8 146.6,87.0 M152.7,97.6 153.9,99.8 153.7,101.6 152.7,102.7 152.1,102.2 150.9,101.3 150.9,100.4 150.0,100.4 148.7,101.0 149.0,99.8 150.3,99.0 151.7,99.0 152.7,97.6 M151.2,94.3 152.4,94.3 152.9,95.9 152.1,97.1 151.7,96.1 151.2,95.5 151.2,94.3 M148.4,95.1 149.6,95.5 150.0,96.7 149.8,98.3 149.0,97.9 149.0,96.7 148.3,96.7 148.4,95.1 M142.6,99.3 143.6,98.3 144.8,97.0 145.5,95.8 145.0,96.7 143.9,98.2 142.6,99.3 M146.5,93.2 147.5,93.2 147.8,94.3 147.2,94.7 146.5,93.2 M132.6,107.7 133.3,107.1 135.4,106.2 137.5,105.6 138.7,104.0 140.5,102.8 142.0,101.0 143.2,101.8 145.0,103.1 143.8,104.3 143.2,105.2 143.6,106.8 144.8,108.3 143.3,108.5 143.0,110.5 141.7,111.7 141.5,113.1 141.1,114.4 139.4,114.5 137.5,113.5 136.0,113.8 134.1,113.0 133.8,111.3 132.9,110.1 132.6,108.9 132.6,107.7 M115.9,102.7 118.6,103.2 120.1,104.9 122.0,106.5 123.5,107.3 125.3,108.6 126.3,110.1 127.1,111.7 129.0,113.1 128.8,116.6 127.3,116.6 126.3,115.6 124.5,114.4 122.9,112.5 122.0,110.7 120.6,109.1 120.1,107.6 118.6,106.1 117.2,104.8 115.9,102.7 M128.0,117.8 129.2,116.8 132.0,117.7 134.4,117.9 135.0,117.3 137.1,118.0 139.3,118.9 139.2,120.1 136.3,119.7 133.8,119.4 131.4,119.0 129.6,118.5 128.0,117.8 M139.9,119.5 142.0,119.6 144.8,119.6 144.5,120.3 142.3,120.4 140.2,120.2 139.9,119.5 M145.8,119.7 147.8,119.7 149.6,119.6 149.4,120.2 146.6,120.3 145.8,119.7 M144.8,121.1 146.2,120.9 147.0,121.8 145.4,121.7 144.8,121.1 M150.3,122.0 151.5,120.8 153.3,120.0 154.9,119.7 153.9,120.6 152.1,121.5 150.3,122.0 M145.8,108.5 147.0,107.9 149.6,108.4 151.8,107.7 152.3,107.8 150.9,109.0 147.8,108.9 146.2,109.5 146.6,110.7 147.8,110.6 150.0,110.4 149.4,111.3 148.2,111.7 148.8,113.1 149.9,115.0 149.0,116.2 148.1,115.3 147.2,113.8 147.0,112.8 146.4,113.1 146.5,116.2 145.4,116.2 145.4,113.8 144.5,112.9 145.1,111.3 145.8,109.5 145.8,108.5 M155.1,106.8 155.7,108.3 156.6,107.7 155.7,109.0 156.3,110.1 155.6,109.5 155.1,108.3 155.1,106.8 M155.7,113.1 157.6,112.9 159.1,113.4 158.2,113.9 156.3,113.8 155.7,113.1 M159.4,110.5 161.2,110.0 163.0,110.5 163.4,112.5 164.2,113.5 166.7,111.7 169.1,111.9 171.5,112.7 174.6,113.6 175.8,114.1 177.4,115.6 178.8,116.8 179.8,117.7 179.2,118.6 180.7,120.2 182.5,121.7 183.5,122.0 181.9,122.0 179.5,121.7 178.2,120.3 176.4,119.0 175.2,118.9 174.3,119.6 174.0,120.7 171.5,120.6 169.7,119.4 167.9,119.7 167.5,118.6 168.9,118.0 167.9,116.2 165.5,115.0 163.6,114.4 161.8,114.4 161.6,113.5 160.6,112.9 162.4,112.5 162.9,112.2 161.2,112.2 159.4,111.2 159.4,110.5 M180.7,116.2 182.5,115.6 184.3,114.6 185.3,114.7 184.7,115.9 183.1,117.0 181.3,117.0 180.7,116.2 M183.5,112.7 184.9,113.5 186.1,115.0 185.8,114.4 184.3,113.1 183.5,112.7 M188.2,116.2 189.6,117.4 188.9,117.8 188.2,116.2 M194.1,120.8 195.6,121.4 194.7,121.5 194.1,120.8 M173.4,122.5 174.6,124.7 174.8,126.9 176.8,127.7 177.0,129.6 177.9,132.0 179.5,133.2 181.0,134.3 181.9,136.3 183.5,137.2 183.6,138.3 185.5,139.9 186.4,141.1 186.8,143.8 186.1,146.6 185.5,148.8 184.1,150.7 182.9,153.3 182.5,155.1 180.1,155.6 178.2,156.9 176.4,156.1 175.2,156.3 173.4,156.2 171.5,155.9 170.3,155.1 169.7,153.3 168.5,152.8 168.3,151.5 167.5,152.3 167.7,149.6 166.7,150.9 165.5,152.0 164.6,151.6 163.3,149.4 161.8,148.6 159.6,147.8 156.9,147.9 154.5,148.7 152.1,149.4 150.9,150.3 149.6,150.7 147.2,150.6 145.4,151.2 143.6,152.1 141.7,152.0 140.0,151.2 139.9,150.3 140.8,149.0 140.8,147.8 139.9,146.0 139.4,144.2 138.5,141.7 138.0,139.9 138.2,138.1 138.5,136.6 139.1,136.0 140.5,135.0 142.3,134.6 144.8,133.8 147.2,133.2 148.8,131.4 149.0,130.2 150.3,130.5 150.5,129.2 152.1,127.7 153.9,126.5 155.1,126.9 156.3,127.7 157.6,127.5 158.2,125.9 159.1,124.6 161.2,124.1 161.2,123.2 164.2,124.3 166.4,124.3 165.5,125.9 165.2,127.7 167.3,129.0 169.7,130.8 171.3,130.8 172.2,128.4 172.4,125.9 172.5,124.1 173.4,122.5 M176.1,159.0 178.2,159.5 180.3,159.1 180.4,160.6 179.8,162.1 178.2,162.5 177.0,161.6 176.4,160.4 176.1,159.0 M210.1,151.4 211.7,152.7 212.9,153.9 213.9,154.3 214.5,155.4 216.6,155.2 217.2,155.4 216.3,157.2 215.3,157.6 215.1,158.8 213.3,160.1 212.7,159.7 212.9,158.5 211.7,157.6 211.5,157.3 212.6,156.3 212.6,155.1 211.9,153.9 210.7,152.3 210.1,151.4 M210.1,158.8 211.9,159.6 211.7,160.5 210.2,162.1 210.5,162.8 208.4,163.4 208.0,164.9 206.8,165.8 205.0,166.2 202.6,165.5 203.8,164.0 205.0,163.0 207.4,161.8 208.7,160.6 209.3,159.4 210.1,158.8 M199.5,134.1 201.4,135.0 203.2,136.6 202.3,136.6 200.5,135.4 199.5,134.1 M60.0,124.1 61.1,127.7 60.5,129.6 60.1,131.4 59.0,135.0 57.8,138.7 57.2,139.9 55.4,140.5 53.5,139.9 52.9,138.1 52.7,136.3 53.9,133.8 53.5,131.4 54.1,129.2 56.0,128.6 57.8,127.1 59.0,125.9 60.0,124.1 M97.2,97.7 98.3,98.5 99.5,100.4 99.2,101.6 97.9,102.3 97.2,101.2 97.1,99.8 97.2,97.7 M15.2,63.3 16.4,63.1 18.9,63.0 18.5,64.5 18.2,64.8 16.4,64.2 15.2,63.6 15.2,63.3 M10.0,59.7 11.2,59.4 11.9,60.2 11.7,61.8 10.7,62.2 10.2,61.7 10.3,60.6 10.0,59.7 M10.5,58.0 11.4,57.2 11.6,58.4 11.2,59.1 10.6,58.8 10.5,58.0 M28.6,66.3 29.8,66.4 32.0,66.7 30.4,67.0 28.7,66.7 28.6,66.3 M39.3,66.9 40.1,66.6 42.1,66.2 41.2,66.9 40.1,67.4 39.3,66.9 M64.8,94.2 66.3,94.3 65.7,94.5 64.8,94.2 M233.6,29.7 236.0,28.8 238.7,28.5 241.1,29.0 239.1,27.7 236.0,26.4 239.1,25.3 242.1,24.0 247.5,22.8 253.1,23.4 257.9,23.8 262.8,24.3 266.4,24.8 271.3,25.5 273.8,24.9 278.6,24.3 282.3,23.7 285.9,24.3 287.1,25.1 290.8,24.6 295.6,25.5 298.1,26.8 302.9,27.0 306.6,26.8 306.6,28.0 309.0,26.4 313.9,26.8 318.8,27.0 320.6,26.8 321.8,24.9 320.8,23.1 323.0,21.9 325.5,23.7 326.7,24.9 327.9,26.2 330.9,27.4 332.1,26.2 334.0,24.7 338.2,24.7 339.1,26.2 338.2,28.0 335.2,29.0 333.4,29.2 332.1,30.4 330.9,31.4 328.5,31.9 325.5,33.5 323.6,35.3 322.7,37.7 325.1,40.1 328.5,40.1 332.1,41.4 334.6,42.2 337.9,42.5 338.2,45.0 340.1,47.1 340.9,47.2 342.1,45.6 341.9,43.8 341.3,42.8 343.7,42.0 344.7,40.8 344.3,38.9 342.7,37.7 343.7,36.5 343.1,34.7 343.1,33.6 346.1,33.7 348.6,34.1 351.0,35.0 352.8,35.3 353.4,37.1 355.3,38.3 357.7,38.0 359.3,36.1 360.7,37.7 362.6,39.5 363.2,41.4 365.0,42.6 368.0,43.8 369.9,45.3 370.1,46.5 366.8,47.2 365.0,48.3 361.3,48.3 357.2,48.4 354.7,49.9 352.8,51.7 351.6,52.4 353.4,51.7 355.9,50.1 358.9,49.6 359.8,50.1 358.3,51.1 359.2,52.3 360.1,53.3 362.6,53.7 363.8,54.0 364.5,52.3 365.2,53.5 363.2,54.5 360.7,55.2 358.3,56.5 357.5,55.7 359.5,54.4 357.7,54.5 356.2,55.1 354.0,56.0 352.6,56.5 351.9,57.5 352.8,58.6 351.3,59.0 349.2,59.4 348.0,60.1 347.7,61.4 346.7,62.2 346.4,63.3 345.5,64.5 346.0,65.9 346.1,66.7 344.7,67.3 343.1,68.3 341.6,69.1 339.7,70.6 339.0,72.4 339.9,74.8 340.7,76.9 340.3,78.7 339.3,79.0 338.5,77.6 337.3,75.7 337.3,74.2 335.8,73.0 334.0,73.2 332.1,72.5 330.3,72.6 329.1,72.8 329.4,74.0 327.9,74.0 326.1,73.5 323.6,73.5 322.4,74.0 320.6,75.1 319.6,76.3 319.6,78.1 319.1,80.3 319.0,82.4 319.7,84.2 321.0,86.1 322.4,86.9 323.6,87.4 325.5,86.9 327.3,86.4 327.9,84.6 328.3,83.9 330.3,83.3 332.1,83.3 331.5,85.2 331.3,87.0 330.7,88.2 330.0,90.0 331.5,90.3 333.4,90.2 335.2,90.3 336.7,91.2 336.4,93.1 336.2,94.9 336.2,96.1 337.0,97.3 338.0,98.5 339.4,98.8 340.9,98.1 342.5,98.1 344.0,99.0 344.6,99.8 346.1,96.7 347.0,96.0 349.2,95.5 351.0,94.4 351.0,96.1 352.8,94.8 354.7,96.4 357.1,96.6 359.5,97.1 362.0,96.5 363.8,97.9 365.0,99.2 366.8,101.0 368.6,102.2 371.1,102.2 373.5,102.8 375.3,104.0 375.9,105.8 377.2,107.7 377.2,109.5 379.0,110.1 380.2,110.4 383.2,111.3 384.5,112.5 386.9,112.9 389.3,113.0 391.2,114.0 393.0,115.2 395.1,115.8 395.5,118.0 395.4,120.4 393.6,122.3 392.4,123.9 391.2,125.3 390.5,127.7 390.5,130.2 389.7,132.0 389.1,134.2 388.1,136.3 386.9,137.5 385.4,137.5 383.6,137.8 381.7,138.7 379.6,140.3 378.9,141.7 378.9,144.2 377.2,146.0 375.3,148.2 374.1,149.6 372.9,150.9 371.2,152.0 369.6,152.0 367.7,151.4 366.9,150.9 368.3,152.4 368.6,153.7 368.0,155.7 366.2,156.6 363.2,156.9 362.2,156.7 362.3,158.8 360.7,159.6 358.9,159.1 358.9,160.6 360.5,161.2 358.9,161.8 358.6,164.2 355.9,165.5 357.7,166.7 357.9,167.7 355.9,169.1 354.0,170.9 354.7,173.1 355.0,174.0 356.5,175.8 358.7,176.1 357.1,176.7 354.7,177.0 352.2,176.4 350.4,175.4 348.6,174.0 347.1,172.8 346.4,170.3 346.1,167.9 347.4,166.7 346.0,166.3 348.0,164.2 349.2,162.4 349.4,160.6 348.2,160.4 348.3,158.2 348.8,156.3 348.6,154.8 349.4,153.3 350.4,151.5 350.9,149.6 351.0,147.2 351.1,145.4 351.3,143.6 351.9,141.1 352.2,138.7 352.3,137.5 352.6,135.0 352.5,132.0 351.0,130.5 348.6,129.3 346.5,128.1 345.2,126.5 344.2,124.2 342.9,121.7 341.9,119.5 340.8,117.8 339.2,116.8 339.1,115.0 340.2,113.8 340.7,112.5 339.4,112.2 339.7,110.7 340.5,109.5 340.7,108.4 341.9,107.7 342.4,106.5 343.7,105.2 343.8,103.4 343.8,101.6 343.2,100.7 342.9,99.8 342.5,98.5 341.3,98.7 340.3,99.4 340.7,100.4 339.4,100.6 338.6,99.8 337.3,99.5 336.4,99.2 336.2,98.3 334.8,97.6 333.7,97.3 333.6,96.1 332.1,94.3 331.5,93.7 330.0,93.4 327.9,92.7 325.8,91.9 324.2,90.3 323.0,89.8 321.2,90.4 318.8,89.9 316.5,89.1 313.9,87.7 311.5,86.4 309.6,85.2 309.9,83.3 309.0,81.5 306.6,79.1 305.0,77.9 303.6,76.0 301.5,74.2 300.5,72.4 298.7,70.9 298.3,72.4 299.9,74.2 301.1,76.0 302.3,77.9 303.6,79.7 304.8,81.3 303.8,80.9 301.7,79.4 301.4,77.9 299.5,76.8 298.1,75.7 299.1,74.8 297.5,73.2 296.3,71.2 295.5,70.0 293.8,68.1 291.3,67.5 289.8,65.1 289.0,63.5 287.4,61.4 286.8,60.3 286.9,58.4 286.5,57.2 287.1,54.7 287.1,53.2 286.3,50.6 288.3,50.9 289.0,52.0 288.6,49.9 286.5,48.7 284.1,47.7 282.5,46.8 282.3,45.6 280.4,44.4 279.5,43.2 278.0,42.0 276.2,40.1 274.4,38.6 271.9,38.6 270.1,37.7 267.7,36.9 264.6,36.5 262.2,36.3 259.8,35.5 257.3,36.5 255.5,37.4 253.3,37.5 253.7,35.9 255.5,35.0 253.1,35.9 251.2,37.1 250.0,38.6 247.6,40.1 245.2,41.4 242.7,42.2 239.7,42.9 237.5,43.1 240.3,42.0 242.7,41.1 245.2,39.8 246.4,38.2 244.5,38.2 241.5,38.1 240.9,36.7 238.5,36.5 236.9,35.8 236.0,34.3 236.6,33.5 237.9,32.6 241.5,32.2 242.1,31.0 239.7,31.0 237.2,31.0 235.4,30.4 233.6,29.7 M288.0,50.6 285.9,50.1 283.5,48.7 281.9,47.7 284.1,48.1 285.9,48.7 287.4,49.6 288.0,50.6 M278.0,46.0 277.0,45.0 276.2,43.8 277.6,43.8 277.6,45.0 278.0,46.0 M250.0,39.9 251.2,40.1 252.7,39.3 251.8,38.9 250.0,39.9 M233.0,44.8 234.2,44.5 235.4,43.9 234.2,44.3 233.0,44.8 M225.7,46.1 226.9,46.0 226.3,45.9 225.7,46.1 M222.0,46.6 223.3,46.5 222.6,46.2 222.0,46.6 M229.1,32.4 231.2,32.6 232.6,32.5 230.6,32.0 229.1,32.4 M234.5,36.5 236.0,36.7 236.4,36.1 235.1,36.0 234.5,36.5 M358.9,34.2 355.3,33.3 351.0,32.1 347.4,31.1 343.3,31.1 343.7,29.9 348.0,29.9 348.6,28.2 349.4,26.8 346.1,25.8 342.5,24.1 338.2,24.3 334.6,24.1 330.3,23.4 328.7,22.5 329.1,20.1 333.4,19.7 335.2,20.9 339.4,19.8 343.1,20.8 346.7,21.9 351.0,22.9 354.7,24.1 356.5,25.3 355.5,26.4 359.5,27.0 362.6,28.2 362.0,29.7 360.1,30.4 356.5,29.2 358.3,31.6 359.5,32.8 355.9,32.2 357.7,33.5 358.9,34.2 M296.3,25.2 299.9,26.0 304.2,25.9 309.0,25.7 313.9,25.5 314.5,24.7 310.9,23.5 310.9,22.5 306.6,21.3 306.0,20.4 301.7,20.9 298.7,20.3 295.0,21.7 293.2,22.5 296.9,22.8 294.1,24.0 296.3,25.2 M285.3,21.9 288.3,23.0 291.4,22.5 292.6,21.5 295.0,20.4 297.5,19.6 295.0,19.1 290.2,18.9 286.5,19.5 285.3,21.9 M340.7,16.7 343.1,15.8 346.1,14.0 349.2,12.8 355.3,11.6 362.6,9.7 358.9,8.8 350.4,8.4 340.7,8.5 332.1,9.4 327.3,10.3 332.1,11.6 333.4,12.8 332.1,14.0 330.9,15.2 334.6,15.8 340.7,16.7 M330.9,14.2 326.1,14.0 322.4,12.8 323.6,10.9 327.3,10.9 329.7,12.2 330.9,14.2 M340.7,18.2 335.8,18.9 329.7,18.7 326.1,18.2 326.1,16.5 329.7,16.4 335.8,16.7 340.7,17.3 340.7,18.2 M327.9,19.7 321.8,19.7 321.8,21.3 324.2,21.9 327.3,20.9 327.9,19.7 M320.0,19.7 315.1,19.7 313.3,20.9 316.3,22.5 320.0,22.1 320.0,19.7 M309.6,18.2 304.2,18.6 298.1,18.5 295.6,17.4 299.3,16.4 305.4,16.4 309.0,17.0 309.6,18.2 M319.4,18.0 315.1,18.2 312.1,17.0 316.3,16.1 319.4,16.8 319.4,18.0 M295.6,16.8 290.8,17.0 288.3,16.1 293.2,15.2 296.9,15.8 295.6,16.8 M317.5,14.7 311.5,14.4 309.6,13.1 316.3,12.8 318.8,13.6 317.5,14.7 M332.8,29.6 335.8,29.4 338.8,31.0 340.4,32.0 336.4,32.8 334.0,32.5 331.9,31.6 332.8,29.6 M316.9,25.5 320.0,26.2 322.2,25.5 320.6,24.5 316.9,25.5 M384.6,36.6 386.3,35.3 387.5,32.8 389.3,30.4 392.4,29.4 397.2,27.4 402.7,26.4 407.0,24.9 411.2,24.0 409.4,22.5 411.6,21.5 411.2,20.1 414.3,18.9 414.3,17.0 416.1,15.8 414.3,14.0 416.7,12.4 423.4,10.5 418.5,10.0 412.4,9.7 408.8,8.8 399.1,7.9 389.3,8.2 380.8,8.8 372.3,9.4 365.0,9.7 361.3,10.7 356.5,11.8 357.7,12.8 352.8,14.0 349.2,14.4 351.0,15.5 353.4,16.4 356.5,17.0 361.3,16.8 366.2,17.4 368.0,18.9 369.9,20.7 371.1,22.5 372.3,23.7 375.9,24.6 372.9,25.9 372.9,27.4 373.5,29.2 374.7,31.0 376.6,32.8 377.8,34.3 379.6,35.5 382.0,36.1 384.6,36.6 M365.9,51.6 368.0,51.6 370.5,52.4 372.3,52.6 373.5,52.7 373.9,51.7 372.9,50.5 372.5,49.5 370.5,48.9 369.9,48.1 370.5,46.8 368.6,47.4 367.7,48.9 366.8,50.1 365.9,51.6 M359.5,48.8 362.6,49.4 362.9,49.8 360.7,49.5 359.5,48.8 M359.9,52.6 362.6,53.0 362.0,53.5 359.9,52.6 M334.7,82.9 337.0,81.5 338.8,81.3 341.3,81.9 343.7,83.0 346.1,84.2 347.7,84.9 346.1,85.3 343.7,85.3 343.7,84.6 342.5,83.3 340.1,82.7 338.2,82.1 336.4,82.5 334.7,82.9 M347.5,87.1 349.8,87.4 351.0,88.0 352.8,87.2 354.8,87.1 354.0,86.1 352.2,85.4 350.4,85.3 348.8,85.3 349.4,86.4 349.9,86.9 347.5,86.9 347.5,87.1 M342.7,87.2 344.3,87.0 345.3,87.6 344.1,87.8 342.7,87.2 M356.2,87.1 358.1,87.1 357.9,87.6 356.2,87.6 356.2,87.1 M362.8,96.5 363.8,96.4 363.8,97.2 362.8,97.2 362.8,96.5 M363.8,172.2 366.2,171.9 367.7,172.3 366.2,173.1 364.4,173.0 363.8,172.2 M326.1,52.7 328.5,52.7 330.9,52.0 332.8,52.9 334.9,52.9 334.8,51.7 333.4,50.5 330.3,50.4 329.1,51.1 326.1,52.7 M331.5,58.8 332.8,58.4 333.0,56.6 333.4,55.0 334.6,53.9 332.8,53.8 331.5,54.7 331.2,56.6 331.2,57.8 331.5,58.8 M335.2,53.7 336.4,54.5 336.7,56.0 337.6,57.2 338.6,56.6 338.8,55.4 339.1,54.5 340.7,55.2 340.1,54.1 338.2,53.4 335.8,53.3 335.2,53.7 M336.5,58.6 338.2,59.0 340.7,58.2 342.0,57.4 340.1,57.7 337.6,58.4 336.5,58.6 M340.9,56.8 343.1,56.8 345.2,56.5 344.9,55.7 343.1,56.1 341.3,56.3 340.9,56.8 M320.2,48.2 320.8,46.8 319.4,45.6 318.2,44.4 317.5,45.0 318.8,46.2 319.4,47.4 320.2,48.2 M295.6,35.3 298.1,35.4 299.9,34.9 302.9,33.7 304.8,33.1 302.3,33.0 299.3,33.7 296.9,34.1 295.6,35.3 M285.9,30.2 289.0,30.7 292.0,30.4 294.4,29.2 292.6,28.1 289.6,28.2 287.1,29.0 285.9,30.2 M302.3,38.1 305.4,37.5 308.4,37.1 304.8,37.7 302.3,38.1 M352.8,128.4 353.7,128.4 354.3,129.3 353.4,129.2 352.8,128.4 M350.4,193.4 354.0,194.1 354.0,196.5 350.4,197.5 346.7,195.9 350.4,193.4 M202.7,127.5 203.4,128.5 202.9,128.6 202.7,127.5 M204.6,130.7 205.1,131.3 204.6,131.3 204.6,130.7 M215.7,130.9 217.2,130.8 217.2,131.6 215.8,131.5 215.7,130.9 M217.5,129.7 219.0,129.2 218.4,129.9 217.5,129.7 M248.2,86.3 249.4,85.8 248.3,84.9 248.2,86.3 M247.5,84.1 248.2,84.3 247.7,84.4 247.5,84.1 M245.5,83.3 246.1,83.6 245.8,83.6 245.5,83.3 M83.7,169.1 85.5,169.2 85.2,169.8 83.9,169.7 83.7,169.1 M391.8,175.2 394.2,175.8 393.6,176.2 391.8,175.2 M222.9,162.8 223.6,163.0 223.1,163.2 222.9,162.8 M16.4,93.1 17.6,93.1 17.6,93.9 16.8,93.9 16.4,93.1 M227.9,125.9 228.5,126.2 228.1,126.3 227.9,125.9 M326.8,110.2 327.4,110.0 327.3,110.7 326.8,110.2 M10.3,105.0 10.8,105.2 10.5,105.5 10.3,105.0 M320.6,18.2 324.2,18.2 324.2,17.5 321.8,17.5 320.6,18.2 M340.1,20.7 343.1,20.9 345.5,20.4 343.1,19.7 340.1,20.0 340.1,20.7 M318.8,14.8 321.8,14.7 321.2,13.7 319.4,13.6 318.8,14.8 M299.9,14.4 304.2,14.4 304.8,13.6 301.1,13.6 299.9,14.4 M299.3,15.3 303.6,15.5 304.2,14.7 300.5,14.6 299.3,15.3 M292.6,17.5 295.0,17.5 294.7,16.9 292.6,17.0 292.6,17.5 M310.2,18.2 312.1,18.2 311.7,17.8 310.2,17.8 310.2,18.2 M308.4,20.7 310.9,20.7 310.5,19.8 308.8,19.8 308.4,20.7 M343.7,27.4 346.1,27.5 346.4,26.6 344.3,26.5 343.7,27.4 M336.8,33.0 338.5,33.3 339.4,33.0 337.6,32.6 336.8,33.0 M340.1,34.6 341.5,34.3 341.3,33.7 340.3,33.7 340.1,34.6 M338.2,45.0 340.1,45.3 340.4,44.8 338.8,44.7 338.2,45.0 M309.0,15.6 311.5,15.7 311.2,15.0 309.3,15.0 309.0,15.6 M313.3,15.1 315.7,15.1 315.4,14.6 313.5,14.6 313.3,15.1 M316.3,12.4 318.8,12.4 318.2,11.8 316.6,11.9 316.3,12.4 M342.5,32.6 343.7,32.6 343.5,32.1 342.5,32.2 342.5,32.6 M371.3,24.9 373.5,25.2 374.7,24.6 372.9,24.0 371.3,24.3 371.3,24.9 M58.8,25.5 60.2,25.9 61.2,25.4 60.0,24.9 58.8,25.5 M71.2,24.6 73.2,24.7 73.4,24.0 71.8,23.7 71.2,24.6 M121.1,14.6 125.3,14.8 127.7,14.2 124.7,13.4 121.7,13.6 121.1,14.6 M84.6,20.3 87.0,20.7 86.7,20.1 85.2,20.0 84.6,20.3 M166.7,17.6 169.1,18.5 171.5,18.2 170.9,17.2 167.9,16.9 166.7,17.6 M177.0,56.2 178.0,55.5 177.5,56.0 177.0,56.2 M178.8,55.1 180.7,54.3 180.1,54.6 178.8,55.1 M185.9,52.3 186.4,51.8 186.0,52.1 185.9,52.3 M189.2,48.7 190.0,47.9 189.6,48.4 189.2,48.7 M198.8,38.2 199.9,37.5 199.4,38.1 198.8,38.2 M342.7,77.1 344.0,77.3 343.3,77.5 342.7,77.1 M343.1,79.3 343.6,80.1 343.2,79.9 343.1,79.3 M2.9,61.3 4.1,61.0 3.9,61.6 2.9,61.3 M47.7,116.6 48.1,117.2 47.8,117.3 47.7,116.6 M52.7,123.6 52.9,124.0 52.6,123.9 52.7,123.6 M67.3,134.9 67.9,135.3 67.4,135.4 67.3,134.9 M69.8,134.0 70.3,134.2 70.0,134.4 69.8,134.0 M0.0,196.9 14.8,195.3 30.5,194.4 46.4,193.4 62.0,189.6 68.4,190.2 84.2,191.3 85.8,195.0 93.6,192.8 109.4,191.3 125.2,189.6 137.8,189.6 156.7,190.2 169.4,190.2 179.0,192.4 191.3,194.2 203.5,195.5 207.0,198.3 197.5,201.6 195.4,206.5 203.5,209.8 220.0,210.6 240.5,211.5 257.0,213.0 259.0,209.8 250.8,206.5 244.5,204.9 252.8,203.7 261.0,202.5 277.4,199.7 289.7,198.3 302.0,199.7 314.4,197.5 326.7,196.7 343.0,196.7 347.2,194.2 353.3,191.4 361.5,187.2 369.7,185.2 363.5,189.3 359.5,193.4 357.5,199.7 363.5,202.5 375.9,204.9 392.3,204.9 408.7,201.6 425.1,196.7 438.0,195.8" fill="none" stroke="#000" stroke-width="0.85" stroke-linejoin="round"/>
<path d="M-1,0.5 H437.5 V219.0 H0 V0.5" fill="none" stroke="#333" stroke-width="1"/>
</g>
<text x="139.6" y="11.3" class="t" textLength="160.8" lengthAdjust="spacing">b01.01ibis (yrs 475-499)</text>
<text x="185.2" y="290.2" class="t" textLength="68.7" lengthAdjust="spacing">ISCCP FD</text>
<text x="143.4" y="567.3" class="t" textLength="150.9" lengthAdjust="spacing">b01.01ibis - ISCCP FD</text>
<text x="0.5" y="34.3" class="s" textLength="162.3" lengthAdjust="spacingAndGlyphs">Clearsky surf down SW</text>
<text x="341.6" y="33.9" class="s" textLength="97.5" lengthAdjust="spacingAndGlyphs">W/m~S~2~N~</text>
<text x="169.3" y="37.3" class="s" textLength="48.0" lengthAdjust="spacingAndGlyphs">mean=</text>
<text x="0.5" y="311.8" class="s" textLength="162.3" lengthAdjust="spacingAndGlyphs">Clearsky surf down SW</text>
<text x="341.6" y="311.4" class="s" textLength="97.5" lengthAdjust="spacingAndGlyphs">W/m~S~2~N~</text>
<text x="169.3" y="314.8" class="s" textLength="48.0" lengthAdjust="spacingAndGlyphs">mean=</text>
<text x="341.6" y="588.9" class="s" textLength="97.5" lengthAdjust="spacingAndGlyphs">W/m~S~2~N~</text>
<text x="226.0" y="37.3" class="s" textLength="45.0" lengthAdjust="spacingAndGlyphs">234.92</text>
<text x="226.0" y="314.8" class="s" textLength="45.0" lengthAdjust="spacingAndGlyphs">235.67</text>
<text x="0.5" y="592.2" class="s" textLength="38.6" lengthAdjust="spacingAndGlyphs">mean</text>
<text x="46.7" y="592.2" class="s" textLength="8.3" lengthAdjust="spacingAndGlyphs">=</text>
<text x="71.4" y="592.2" class="s" textLength="38.4" lengthAdjust="spacingAndGlyphs">−0.76</text>
<text x="169.6" y="592.2" class="s" textLength="34.1" lengthAdjust="spacingAndGlyphs">rmse</text>
<text x="212.5" y="592.2" class="s" textLength="8.6" lengthAdjust="spacingAndGlyphs">=</text>
<text x="242.8" y="592.2" class="s" textLength="28.3" lengthAdjust="spacingAndGlyphs">8.47</text>
<text x="511.0" y="28.8" class="jja" textLength="45.6" lengthAdjust="spacing">JJA</text>
<text x="456.4" y="72.4" class="m" textLength="21.5" lengthAdjust="spacingAndGlyphs">Min</text>
<text x="484.2" y="72.4" class="m" textLength="7.8" lengthAdjust="spacingAndGlyphs">=</text>
<text x="511.5" y="72.4" class="m" textLength="24.7" lengthAdjust="spacingAndGlyphs">0.00</text>
<text x="543.4" y="72.4" class="m" textLength="24.1" lengthAdjust="spacingAndGlyphs">Max</text>
<text x="575.4" y="72.4" class="m" textLength="7.8" lengthAdjust="spacingAndGlyphs">=</text>
<text x="590.2" y="72.4" class="m" textLength="39.8" lengthAdjust="spacingAndGlyphs">376.53</text>
<text x="456.4" y="349.9" class="m" textLength="21.5" lengthAdjust="spacingAndGlyphs">Min</text>
<text x="484.2" y="349.9" class="m" textLength="7.8" lengthAdjust="spacingAndGlyphs">=</text>
<text x="511.5" y="349.9" class="m" textLength="24.7" lengthAdjust="spacingAndGlyphs">0.00</text>
<text x="543.4" y="349.9" class="m" textLength="24.1" lengthAdjust="spacingAndGlyphs">Max</text>
<text x="575.4" y="349.9" class="m" textLength="7.8" lengthAdjust="spacingAndGlyphs">=</text>
<text x="590.2" y="349.9" class="m" textLength="39.8" lengthAdjust="spacingAndGlyphs">379.56</text>
<text x="456.4" y="626.8" class="m" textLength="21.5" lengthAdjust="spacingAndGlyphs">Min</text>
<text x="484.2" y="626.8" class="m" textLength="7.8" lengthAdjust="spacingAndGlyphs">=</text>
<text x="499.9" y="626.8" class="m" textLength="42.4" lengthAdjust="spacingAndGlyphs">−75.95</text>
<text x="549.5" y="626.8" class="m" textLength="23.0" lengthAdjust="spacingAndGlyphs">Max</text>
<text x="580.6" y="626.8" class="m" textLength="7.4" lengthAdjust="spacingAndGlyphs">=</text>
<text x="600.9" y="626.8" class="m" textLength="33.6" lengthAdjust="spacingAndGlyphs">52.59</text>
<rect x="517.30" y="90.50" width="26.30" height="10.73" fill="#ff1493" stroke="#000" stroke-width="0.7"/>
<rect x="517.30" y="101.23" width="26.30" height="10.73" fill="#ffb6c1" stroke="#000" stroke-width="0.7"/>
<rect x="517.30" y="111.96" width="26.30" height="10.73" fill="#b22222" stroke="#000" stroke-width="0.7"/>
<rect x="517.30" y="122.69" width="26.30" height="10.73" fill="#ff4500" stroke="#000" stroke-width="0.7"/>
<rect x="517.30" y="133.42" width="26.30" height="10.73" fill="#ffa500" stroke="#000" stroke-width="0.7"/>
<rect x="517.30" y="144.15" width="26.30" height="10.73" fill="#ffe100" stroke="#000" stroke-width="0.7"/>
<rect x="517.30" y="154.88" width="26.30" height="10.73" fill="#deb887" stroke="#000" stroke-width="0.7"/>
<rect x="517.30" y="165.61" width="26.30" height="10.73" fill="#f5e6be" stroke="#000" stroke-width="0.7"/>
<rect x="517.30" y="176.34" width="26.30" height="10.73" fill="#9abe32" stroke="#000" stroke-width="0.7"/>
<rect x="517.30" y="187.07" width="26.30" height="10.73" fill="#bef06e" stroke="#000" stroke-width="0.7"/>
<rect x="517.30" y="197.80" width="26.30" height="10.73" fill="#20b2aa" stroke="#000" stroke-width="0.7"/>
<rect x="517.30" y="208.53" width="26.30" height="10.73" fill="#b0e0e6" stroke="#000" stroke-width="0.7"/>
<rect x="517.30" y="219.26" width="26.30" height="10.73" fill="#7799f2" stroke="#000" stroke-width="0.7"/>
<rect x="517.30" y="229.99" width="26.30" height="10.73" fill="#4169e1" stroke="#000" stroke-width="0.7"/>
<rect x="517.30" y="240.72" width="26.30" height="10.73" fill="#0000cd" stroke="#000" stroke-width="0.7"/>
<rect x="517.30" y="251.45" width="26.30" height="10.73" fill="#9370db" stroke="#000" stroke-width="0.7"/>
<text x="560.0" y="105.03" class="cb" text-anchor="middle">375</text>
<text x="560.0" y="115.76" class="cb" text-anchor="middle">350</text>
<text x="560.0" y="126.49" class="cb" text-anchor="middle">325</text>
<text x="560.0" y="137.22" class="cb" text-anchor="middle">300</text>
<text x="560.0" y="147.95" class="cb" text-anchor="middle">275</text>
<text x="560.0" y="158.68" class="cb" text-anchor="middle">250</text>
<text x="560.0" y="169.41" class="cb" text-anchor="middle">225</text>
<text x="560.0" y="180.14" class="cb" text-anchor="middle">200</text>
<text x="560.0" y="190.87" class="cb" text-anchor="middle">175</text>
<text x="560.0" y="201.60" class="cb" text-anchor="middle">150</text>
<text x="560.0" y="212.33" class="cb" text-anchor="middle">125</text>
<text x="560.0" y="223.06" class="cb" text-anchor="middle">100</text>
<text x="560.0" y="233.79" class="cb" text-anchor="middle">75</text>
<text x="560.0" y="244.52" class="cb" text-anchor="middle">50</text>
<text x="560.0" y="255.25" class="cb" text-anchor="middle">25</text>
<rect x="517.30" y="368.00" width="26.30" height="10.73" fill="#ff1493" stroke="#000" stroke-width="0.7"/>
<rect x="517.30" y="378.73" width="26.30" height="10.73" fill="#ffb6c1" stroke="#000" stroke-width="0.7"/>
<rect x="517.30" y="389.46" width="26.30" height="10.73" fill="#b22222" stroke="#000" stroke-width="0.7"/>
<rect x="517.30" y="400.19" width="26.30" height="10.73" fill="#ff4500" stroke="#000" stroke-width="0.7"/>
<rect x="517.30" y="410.92" width="26.30" height="10.73" fill="#ffa500" stroke="#000" stroke-width="0.7"/>
<rect x="517.30" y="421.65" width="26.30" height="10.73" fill="#ffe100" stroke="#000" stroke-width="0.7"/>
<rect x="517.30" y="432.38" width="26.30" height="10.73" fill="#deb887" stroke="#000" stroke-width="0.7"/>
<rect x="517.30" y="443.11" width="26.30" height="10.73" fill="#f5e6be" stroke="#000" stroke-width="0.7"/>
<rect x="517.30" y="453.84" width="26.30" height="10.73" fill="#9abe32" stroke="#000" stroke-width="0.7"/>
<rect x="517.30" y="464.57" width="26.30" height="10.73" fill="#bef06e" stroke="#000" stroke-width="0.7"/>
<rect x="517.30" y="475.30" width="26.30" height="10.73" fill="#20b2aa" stroke="#000" stroke-width="0.7"/>
<rect x="517.30" y="486.03" width="26.30" height="10.73" fill="#b0e0e6" stroke="#000" stroke-width="0.7"/>
<rect x="517.30" y="496.76" width="26.30" height="10.73" fill="#7799f2" stroke="#000" stroke-width="0.7"/>
<rect x="517.30" y="507.49" width="26.30" height="10.73" fill="#4169e1" stroke="#000" stroke-width="0.7"/>
<rect x="517.30" y="518.22" width="26.30" height="10.73" fill="#0000cd" stroke="#000" stroke-width="0.7"/>
<rect x="517.30" y="528.95" width="26.30" height="10.73" fill="#9370db" stroke="#000" stroke-width="0.7"/>
<text x="560.0" y="382.53" class="cb" text-anchor="middle">375</text>
<text x="560.0" y="393.26" class="cb" text-anchor="middle">350</text>
<text x="560.0" y="403.99" class="cb" text-anchor="middle">325</text>
<text x="560.0" y="414.72" class="cb" text-anchor="middle">300</text>
<text x="560.0" y="425.45" class="cb" text-anchor="middle">275</text>
<text x="560.0" y="436.18" class="cb" text-anchor="middle">250</text>
<text x="560.0" y="446.91" class="cb" text-anchor="middle">225</text>
<text x="560.0" y="457.64" class="cb" text-anchor="middle">200</text>
<text x="560.0" y="468.37" class="cb" text-anchor="middle">175</text>
<text x="560.0" y="479.10" class="cb" text-anchor="middle">150</text>
<text x="560.0" y="489.83" class="cb" text-anchor="middle">125</text>
<text x="560.0" y="500.56" class="cb" text-anchor="middle">100</text>
<text x="560.0" y="511.29" class="cb" text-anchor="middle">75</text>
<text x="560.0" y="522.02" class="cb" text-anchor="middle">50</text>
<text x="560.0" y="532.75" class="cb" text-anchor="middle">25</text>
<rect x="518.30" y="645.50" width="26.50" height="10.73" fill="#ff1493" stroke="#000" stroke-width="0.7"/>
<rect x="518.30" y="656.23" width="26.50" height="10.73" fill="#ffb6c1" stroke="#000" stroke-width="0.7"/>
<rect x="518.30" y="666.96" width="26.50" height="10.73" fill="#b22222" stroke="#000" stroke-width="0.7"/>
<rect x="518.30" y="677.69" width="26.50" height="10.73" fill="#ff4500" stroke="#000" stroke-width="0.7"/>
<rect x="518.30" y="688.42" width="26.50" height="10.73" fill="#ffa500" stroke="#000" stroke-width="0.7"/>
<rect x="518.30" y="699.15" width="26.50" height="10.73" fill="#ffe100" stroke="#000" stroke-width="0.7"/>
<rect x="518.30" y="709.88" width="26.50" height="10.73" fill="#deb887" stroke="#000" stroke-width="0.7"/>
<rect x="518.30" y="720.61" width="26.50" height="10.73" fill="#f5e6be" stroke="#000" stroke-width="0.7"/>
<rect x="518.30" y="731.34" width="26.50" height="10.73" fill="#9abe32" stroke="#000" stroke-width="0.7"/>
<rect x="518.30" y="742.07" width="26.50" height="10.73" fill="#bef06e" stroke="#000" stroke-width="0.7"/>
<rect x="518.30" y="752.80" width="26.50" height="10.73" fill="#20b2aa" stroke="#000" stroke-width="0.7"/>
<rect x="518.30" y="763.53" width="26.50" height="10.73" fill="#b0e0e6" stroke="#000" stroke-width="0.7"/>
<rect x="518.30" y="774.26" width="26.50" height="10.73" fill="#7799f2" stroke="#000" stroke-width="0.7"/>
<rect x="518.30" y="784.99" width="26.50" height="10.73" fill="#4169e1" stroke="#000" stroke-width="0.7"/>
<rect x="518.30" y="795.72" width="26.50" height="10.73" fill="#0000cd" stroke="#000" stroke-width="0.7"/>
<rect x="518.30" y="806.45" width="26.50" height="10.73" fill="#9370db" stroke="#000" stroke-width="0.7"/>
<text x="561.8" y="660.03" class="cb" text-anchor="middle">50</text>
<text x="561.8" y="670.76" class="cb" text-anchor="middle">40</text>
<text x="561.8" y="681.49" class="cb" text-anchor="middle">30</text>
<text x="561.8" y="692.22" class="cb" text-anchor="middle">20</text>
<text x="561.8" y="702.95" class="cb" text-anchor="middle">15</text>
<text x="561.8" y="713.68" class="cb" text-anchor="middle">10</text>
<text x="561.8" y="724.41" class="cb" text-anchor="middle">5</text>
<text x="561.8" y="735.14" class="cb" text-anchor="middle">0</text>
<text x="561.8" y="745.87" class="cb" text-anchor="middle">−5</text>
<text x="561.8" y="756.60" class="cb" text-anchor="middle">−10</text>
<text x="561.8" y="767.33" class="cb" text-anchor="middle">−15</text>
<text x="561.8" y="778.06" class="cb" text-anchor="middle">−20</text>
<text x="561.8" y="788.79" class="cb" text-anchor="middle">−30</text>
<text x="561.8" y="799.52" class="cb" text-anchor="middle">−40</text>
<text x="561.8" y="810.25" class="cb" text-anchor="middle">−50</text>
</svg></body></html>
